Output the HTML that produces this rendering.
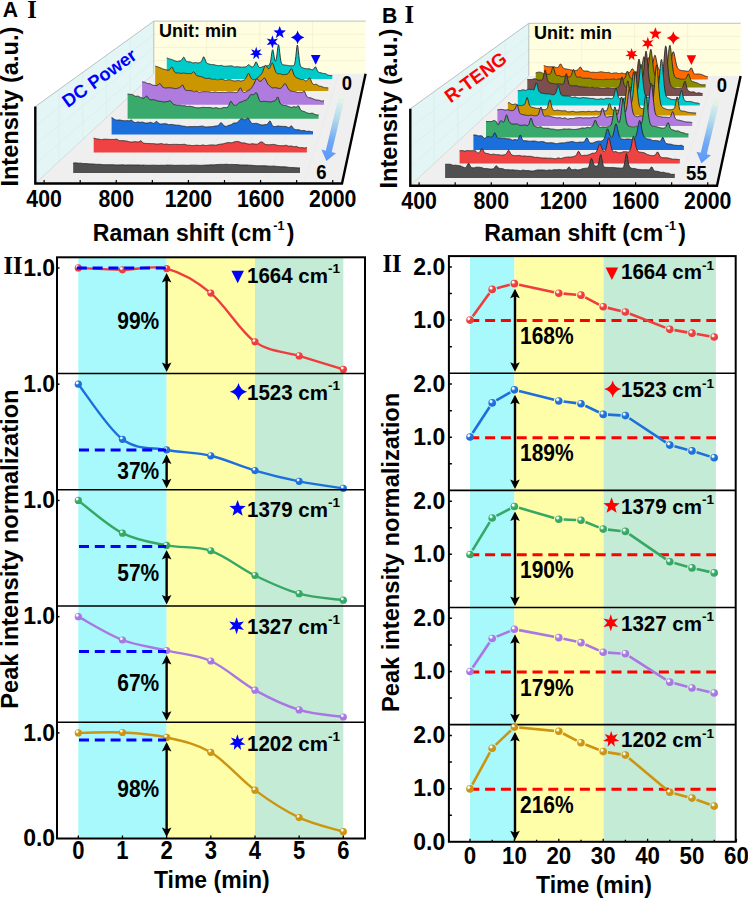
<!DOCTYPE html><html><head><meta charset="utf-8"><title>Raman figure</title><style>html,body{margin:0;padding:0;background:#fff;width:748px;height:900px;overflow:hidden}svg{display:block}</style></head><body><svg width="748" height="900" viewBox="0 0 748 900">
<rect width="748" height="900" fill="#fff"/>
<defs><radialGradient id="bg0" cx="0.38" cy="0.36" r="0.65" fx="0.33" fy="0.3"><stop offset="0" stop-color="#ffffff"/><stop offset="0.18" stop-color="#ffffff" stop-opacity="0.9"/><stop offset="0.38" stop-color="#ee3d3d" stop-opacity="0.8"/><stop offset="0.55" stop-color="#ee3d3d"/><stop offset="1" stop-color="#ee3d3d"/></radialGradient><radialGradient id="bg1" cx="0.38" cy="0.36" r="0.65" fx="0.33" fy="0.3"><stop offset="0" stop-color="#ffffff"/><stop offset="0.18" stop-color="#ffffff" stop-opacity="0.9"/><stop offset="0.38" stop-color="#1d6fdc" stop-opacity="0.8"/><stop offset="0.55" stop-color="#1d6fdc"/><stop offset="1" stop-color="#1d6fdc"/></radialGradient><radialGradient id="bg2" cx="0.38" cy="0.36" r="0.65" fx="0.33" fy="0.3"><stop offset="0" stop-color="#ffffff"/><stop offset="0.18" stop-color="#ffffff" stop-opacity="0.9"/><stop offset="0.38" stop-color="#36a865" stop-opacity="0.8"/><stop offset="0.55" stop-color="#36a865"/><stop offset="1" stop-color="#36a865"/></radialGradient><radialGradient id="bg3" cx="0.38" cy="0.36" r="0.65" fx="0.33" fy="0.3"><stop offset="0" stop-color="#ffffff"/><stop offset="0.18" stop-color="#ffffff" stop-opacity="0.9"/><stop offset="0.38" stop-color="#a977e2" stop-opacity="0.8"/><stop offset="0.55" stop-color="#a977e2"/><stop offset="1" stop-color="#a977e2"/></radialGradient><radialGradient id="bg4" cx="0.38" cy="0.36" r="0.65" fx="0.33" fy="0.3"><stop offset="0" stop-color="#ffffff"/><stop offset="0.18" stop-color="#ffffff" stop-opacity="0.9"/><stop offset="0.38" stop-color="#cc9410" stop-opacity="0.8"/><stop offset="0.55" stop-color="#cc9410"/><stop offset="1" stop-color="#cc9410"/></radialGradient></defs>
<path d="M35.3,106.6L153.8,21.1L153.8,73.7L35.3,183.5Z" fill="#e3f5f5"/>
<rect x="153.8" y="21.1" width="211.8" height="52.6" fill="#fffee0"/>
<path d="M35.3,183.5L342,183.5L365.6,73.7L153.8,73.7Z" fill="#efefef"/>
<path d="M153.8,34.25H365.6M153.8,47.4H365.6M153.8,60.55H365.6M206.75,21.1V73.7M259.7,21.1V73.7M312.65,21.1V73.7" stroke="#f0eecb" stroke-width="0.7" fill="none"/>
<path d="M59,89.5L59,161.54M82.7,72.4L82.7,139.58M106.4,55.3L106.4,117.62M130.1,38.2L130.1,95.66M35.3,125.82L153.8,34.25M35.3,145.05L153.8,47.4M35.3,164.28L153.8,60.55" stroke="#d9eded" stroke-width="0.6" fill="none"/>
<path d="M73.64,183.5L180.28,73.7M111.97,183.5L206.75,73.7M150.31,183.5L233.23,73.7M188.65,183.5L259.7,73.7M226.99,183.5L286.18,73.7M265.32,183.5L312.65,73.7M303.66,183.5L339.12,73.7" stroke="#e8e8e8" stroke-width="0.6" fill="none"/>
<path d="M35.3,106.6L153.8,21.1H365.6 M153.8,21.1V73.7" stroke="#a9b4b4" stroke-width="0.8" fill="none"/>
<path d="M35.3,183.5L153.8,73.7" stroke="#c8d0d0" stroke-width="0.7" fill="none"/>
<text x="67.8" y="108.2" transform="rotate(-35.5 67.8 108.2)" font-family="Liberation Sans, sans-serif" font-weight="bold" font-size="18.3" fill="#0000ff">DC Power</text>
<text x="158.9" y="37.1" font-family="Liberation Sans, sans-serif" font-weight="bold" font-size="18">Unit: min</text>
<path d="M166.8,79L166.8,57.97L167.3,58.12L167.8,58.29L168.3,58.47L168.8,58.67L169.3,58.88L169.8,59.01L170.3,59.13L170.8,59.25L171.3,59.38L171.8,59.52L172.3,59.71L172.8,59.94L173.3,60.17L173.8,60.39L174.3,60.61L174.8,60.8L175.3,60.96L175.8,61.1L176.3,61.24L176.8,61.35L177.3,61.43L177.8,61.37L178.3,61.27L178.8,61.15L179.3,61.02L179.8,60.88L180.3,60.82L180.8,60.68L181.3,60.38L181.8,59.84L182.3,59.03L182.8,58.19L183.3,57.43L183.8,57.14L184.3,57.61L184.8,58.7L185.3,59.8L185.8,60.64L186.3,61.22L186.8,61.53L187.3,61.64L187.8,61.68L188.3,61.75L188.8,61.79L189.3,61.83L189.8,61.86L190.3,61.92L190.8,62.13L191.3,62.34L191.8,62.55L192.3,62.75L192.8,62.96L193.3,62.87L193.8,62.78L194.3,62.68L194.8,62.59L195.3,62.49L195.8,62.56L196.3,62.66L196.8,62.76L197.3,62.86L197.8,62.95L198.3,62.93L198.8,62.84L199.3,62.73L199.8,62.58L200.3,62.37L200.8,62.07L201.3,61.59L201.8,60.76L202.3,59.57L202.8,58.21L203.3,57.11L203.8,56.75L204.3,57.46L204.8,58.8L205.3,60.21L205.8,61.34L206.3,62.3L206.8,62.92L207.3,63.32L207.8,63.58L208.3,63.8L208.8,63.96L209.3,64.09L209.8,64.23L210.3,64.37L210.8,64.5L211.3,64.56L211.8,64.57L212.3,64.58L212.8,64.59L213.3,64.6L213.8,64.67L214.3,64.81L214.8,64.95L215.3,65.1L215.8,65.24L216.3,65.37L216.8,65.44L217.3,65.51L217.8,65.58L218.3,65.65L218.8,65.71L219.3,65.65L219.8,65.58L220.3,65.51L220.8,65.43L221.3,65.35L221.8,65.5L222.3,65.7L222.8,65.9L223.3,66.07L223.8,66.24L224.3,66.3L224.8,66.28L225.3,66.26L225.8,66.25L226.3,66.23L226.8,66.2L227.3,66.16L227.8,66.12L228.3,66.08L228.8,66.04L229.3,66L229.8,65.96L230.3,65.93L230.8,65.9L231.3,65.86L231.8,65.83L232.3,66.05L232.8,66.27L233.3,66.49L233.8,66.71L234.3,66.93L234.8,66.92L235.3,66.85L235.8,66.78L236.3,66.72L236.8,66.65L237.3,66.66L237.8,66.74L238.3,66.81L238.8,66.88L239.3,66.95L239.8,67.01L240.3,67.05L240.8,67.09L241.3,67.13L241.8,67.17L242.3,67.19L242.8,67.15L243.3,67.11L243.8,67.07L244.3,67.02L244.8,66.94L245.3,66.91L245.8,66.81L246.3,66.58L246.8,66.21L247.3,65.75L247.8,65.18L248.3,64.79L248.8,64.79L249.3,65.09L249.8,65.49L250.3,65.96L250.8,66.37L251.3,66.66L251.8,66.84L252.3,66.94L252.8,66.88L253.3,66.58L253.8,66.06L254.3,65.23L254.8,64.1L255.3,62.87L255.8,62.03L256.3,61.9L256.8,62.66L257.3,63.93L257.8,65.27L258.3,66.25L258.8,66.91L259.3,67.29L259.8,67.49L260.3,67.59L260.8,67.5L261.3,67.31L261.8,67.09L262.3,66.84L262.8,66.58L263.3,66.43L263.8,66.34L264.3,66.26L264.8,66.17L265.3,66.09L265.8,66.02L266.3,65.96L266.8,65.87L267.3,65.76L267.8,65.61L268.3,65.44L268.8,65.29L269.3,64.92L269.8,64.13L270.3,62.65L270.8,60.28L271.3,56.79L271.8,53.06L272.3,50.26L272.8,49.71L273.3,51.57L273.8,54.76L274.3,57.89L274.8,60.13L275.3,61.17L275.8,60.89L276.3,59.17L276.8,56.04L277.3,51.85L277.8,47.55L278.3,44.81L278.8,45.21L279.3,48.56L279.8,53.12L280.3,57.38L280.8,60.59L281.3,62.64L281.8,63.75L282.3,64.32L282.8,64.62L283.3,64.79L283.8,64.91L284.3,65.01L284.8,65.09L285.3,65.15L285.8,65.2L286.3,65.24L286.8,65.32L287.3,65.42L287.8,65.51L288.3,65.61L288.8,65.7L289.3,65.75L289.8,65.77L290.3,65.78L290.8,65.78L291.3,65.77L291.8,65.76L292.3,65.78L292.8,65.79L293.3,65.72L293.8,65.46L294.3,64.79L294.8,63.29L295.3,60.66L295.8,56.75L296.3,51.9L296.8,47.3L297.3,44.97L297.8,46.24L298.3,50.44L298.8,55.58L299.3,60.15L299.8,63.42L300.3,65.44L300.8,66.54L301.3,67.12L301.8,67.42L302.3,67.64L302.8,67.84L303.3,68.02L303.8,68.2L304.3,68.37L304.8,68.51L305.3,68.57L305.8,68.64L306.3,68.71L306.8,68.78L307.3,68.83L307.8,68.85L308.3,68.86L308.8,68.87L309.3,68.87L309.8,68.86L310.3,69.11L310.8,69.35L311.3,69.57L311.8,69.73L312.3,69.82L312.8,69.69L313.3,69.36L313.8,68.79L314.3,68.02L314.8,67.27L315.3,66.86L315.8,67.15L316.3,68.11L316.8,69.35L317.3,70.5L317.8,71.38L318.3,71.94L318.8,72.28L319.3,72.47L319.8,72.55L320.3,72.61L320.8,72.75L321.3,72.9L321.8,73.06L322.3,73.23L322.8,73.4L323.3,73.43L323.8,73.47L324.3,73.51L324.8,73.55L325.3,73.59L325.8,73.85L326.3,74.15L326.8,74.46L327.3,74.76L327.8,75.06L328.3,75.23L328.8,75.31L329.3,75.39L329.8,75.46L330.3,75.52L330.8,75.57L331.3,75.6L331.8,75.62L332.3,75.63L332.3,79Z" fill="#00cbcb"/>
<path d="M166.8,57.97L167.3,58.12L167.8,58.29L168.3,58.47L168.8,58.67L169.3,58.88L169.8,59.01L170.3,59.13L170.8,59.25L171.3,59.38L171.8,59.52L172.3,59.71L172.8,59.94L173.3,60.17L173.8,60.39L174.3,60.61L174.8,60.8L175.3,60.96L175.8,61.1L176.3,61.24L176.8,61.35L177.3,61.43L177.8,61.37L178.3,61.27L178.8,61.15L179.3,61.02L179.8,60.88L180.3,60.82L180.8,60.68L181.3,60.38L181.8,59.84L182.3,59.03L182.8,58.19L183.3,57.43L183.8,57.14L184.3,57.61L184.8,58.7L185.3,59.8L185.8,60.64L186.3,61.22L186.8,61.53L187.3,61.64L187.8,61.68L188.3,61.75L188.8,61.79L189.3,61.83L189.8,61.86L190.3,61.92L190.8,62.13L191.3,62.34L191.8,62.55L192.3,62.75L192.8,62.96L193.3,62.87L193.8,62.78L194.3,62.68L194.8,62.59L195.3,62.49L195.8,62.56L196.3,62.66L196.8,62.76L197.3,62.86L197.8,62.95L198.3,62.93L198.8,62.84L199.3,62.73L199.8,62.58L200.3,62.37L200.8,62.07L201.3,61.59L201.8,60.76L202.3,59.57L202.8,58.21L203.3,57.11L203.8,56.75L204.3,57.46L204.8,58.8L205.3,60.21L205.8,61.34L206.3,62.3L206.8,62.92L207.3,63.32L207.8,63.58L208.3,63.8L208.8,63.96L209.3,64.09L209.8,64.23L210.3,64.37L210.8,64.5L211.3,64.56L211.8,64.57L212.3,64.58L212.8,64.59L213.3,64.6L213.8,64.67L214.3,64.81L214.8,64.95L215.3,65.1L215.8,65.24L216.3,65.37L216.8,65.44L217.3,65.51L217.8,65.58L218.3,65.65L218.8,65.71L219.3,65.65L219.8,65.58L220.3,65.51L220.8,65.43L221.3,65.35L221.8,65.5L222.3,65.7L222.8,65.9L223.3,66.07L223.8,66.24L224.3,66.3L224.8,66.28L225.3,66.26L225.8,66.25L226.3,66.23L226.8,66.2L227.3,66.16L227.8,66.12L228.3,66.08L228.8,66.04L229.3,66L229.8,65.96L230.3,65.93L230.8,65.9L231.3,65.86L231.8,65.83L232.3,66.05L232.8,66.27L233.3,66.49L233.8,66.71L234.3,66.93L234.8,66.92L235.3,66.85L235.8,66.78L236.3,66.72L236.8,66.65L237.3,66.66L237.8,66.74L238.3,66.81L238.8,66.88L239.3,66.95L239.8,67.01L240.3,67.05L240.8,67.09L241.3,67.13L241.8,67.17L242.3,67.19L242.8,67.15L243.3,67.11L243.8,67.07L244.3,67.02L244.8,66.94L245.3,66.91L245.8,66.81L246.3,66.58L246.8,66.21L247.3,65.75L247.8,65.18L248.3,64.79L248.8,64.79L249.3,65.09L249.8,65.49L250.3,65.96L250.8,66.37L251.3,66.66L251.8,66.84L252.3,66.94L252.8,66.88L253.3,66.58L253.8,66.06L254.3,65.23L254.8,64.1L255.3,62.87L255.8,62.03L256.3,61.9L256.8,62.66L257.3,63.93L257.8,65.27L258.3,66.25L258.8,66.91L259.3,67.29L259.8,67.49L260.3,67.59L260.8,67.5L261.3,67.31L261.8,67.09L262.3,66.84L262.8,66.58L263.3,66.43L263.8,66.34L264.3,66.26L264.8,66.17L265.3,66.09L265.8,66.02L266.3,65.96L266.8,65.87L267.3,65.76L267.8,65.61L268.3,65.44L268.8,65.29L269.3,64.92L269.8,64.13L270.3,62.65L270.8,60.28L271.3,56.79L271.8,53.06L272.3,50.26L272.8,49.71L273.3,51.57L273.8,54.76L274.3,57.89L274.8,60.13L275.3,61.17L275.8,60.89L276.3,59.17L276.8,56.04L277.3,51.85L277.8,47.55L278.3,44.81L278.8,45.21L279.3,48.56L279.8,53.12L280.3,57.38L280.8,60.59L281.3,62.64L281.8,63.75L282.3,64.32L282.8,64.62L283.3,64.79L283.8,64.91L284.3,65.01L284.8,65.09L285.3,65.15L285.8,65.2L286.3,65.24L286.8,65.32L287.3,65.42L287.8,65.51L288.3,65.61L288.8,65.7L289.3,65.75L289.8,65.77L290.3,65.78L290.8,65.78L291.3,65.77L291.8,65.76L292.3,65.78L292.8,65.79L293.3,65.72L293.8,65.46L294.3,64.79L294.8,63.29L295.3,60.66L295.8,56.75L296.3,51.9L296.8,47.3L297.3,44.97L297.8,46.24L298.3,50.44L298.8,55.58L299.3,60.15L299.8,63.42L300.3,65.44L300.8,66.54L301.3,67.12L301.8,67.42L302.3,67.64L302.8,67.84L303.3,68.02L303.8,68.2L304.3,68.37L304.8,68.51L305.3,68.57L305.8,68.64L306.3,68.71L306.8,68.78L307.3,68.83L307.8,68.85L308.3,68.86L308.8,68.87L309.3,68.87L309.8,68.86L310.3,69.11L310.8,69.35L311.3,69.57L311.8,69.73L312.3,69.82L312.8,69.69L313.3,69.36L313.8,68.79L314.3,68.02L314.8,67.27L315.3,66.86L315.8,67.15L316.3,68.11L316.8,69.35L317.3,70.5L317.8,71.38L318.3,71.94L318.8,72.28L319.3,72.47L319.8,72.55L320.3,72.61L320.8,72.75L321.3,72.9L321.8,73.06L322.3,73.23L322.8,73.4L323.3,73.43L323.8,73.47L324.3,73.51L324.8,73.55L325.3,73.59L325.8,73.85L326.3,74.15L326.8,74.46L327.3,74.76L327.8,75.06L328.3,75.23L328.8,75.31L329.3,75.39L329.8,75.46L330.3,75.52L330.8,75.57L331.3,75.6L331.8,75.62L332.3,75.63" fill="none" stroke="#262626" stroke-width="0.9" stroke-linejoin="round"/>
<path d="M155.2,91L155.2,66.13L155.7,66.25L156.2,66.38L156.7,66.52L157.2,66.68L157.7,66.85L158.2,67.02L158.7,67.2L159.2,67.38L159.7,67.57L160.2,67.77L160.7,67.98L161.2,68.21L161.7,68.43L162.2,68.66L162.7,68.88L163.2,69.07L163.7,69.2L164.21,69.33L164.71,69.45L165.21,69.56L165.71,69.67L166.21,69.85L166.71,70.01L167.21,70.14L167.71,70.26L168.21,70.33L168.71,70.16L169.21,69.93L169.71,69.56L170.21,68.99L170.71,68.22L171.21,67.61L171.71,67.23L172.21,67.38L172.71,68.16L173.21,69.31L173.71,70.48L174.21,71.44L174.71,72.1L175.21,72.51L175.71,72.8L176.21,72.94L176.71,72.94L177.21,72.94L177.71,72.93L178.21,72.92L178.71,72.94L179.21,73.06L179.71,73.17L180.21,73.29L180.71,73.41L181.22,73.52L181.72,73.4L182.22,73.27L182.72,73.15L183.22,73.03L183.72,72.9L184.22,73L184.72,73.13L185.22,73.27L185.72,73.4L186.22,73.53L186.72,73.57L187.22,73.56L187.72,73.55L188.22,73.53L188.72,73.51L189.22,73.52L189.72,73.59L190.22,73.62L190.72,73.6L191.22,73.55L191.72,73.34L192.22,72.9L192.72,72.35L193.22,71.86L193.72,71.74L194.22,72.19L194.72,72.95L195.22,73.84L195.72,74.6L196.22,75.15L196.72,75.46L197.22,75.72L197.72,75.9L198.22,76.04L198.73,76.17L199.23,76.3L199.73,76.4L200.23,76.5L200.73,76.6L201.23,76.7L201.73,76.81L202.23,76.98L202.73,77.22L203.23,77.46L203.73,77.71L204.23,77.96L204.73,78.16L205.23,78.23L205.73,78.3L206.23,78.37L206.73,78.44L207.23,78.5L207.73,78.47L208.23,78.43L208.73,78.39L209.23,78.35L209.73,78.31L210.23,78.52L210.73,78.76L211.23,79L211.73,79.23L212.23,79.46L212.73,79.49L213.23,79.42L213.73,79.34L214.23,79.25L214.73,79.16L215.23,79.19L215.73,79.35L216.24,79.51L216.74,79.63L217.24,79.76L217.74,79.82L218.24,79.72L218.74,79.62L219.24,79.53L219.74,79.43L220.24,79.34L220.74,79.34L221.24,79.33L221.74,79.32L222.24,79.31L222.74,79.31L223.24,79.5L223.74,79.73L224.24,79.95L224.74,80.17L225.24,80.39L225.74,80.37L226.24,80.24L226.74,80.1L227.24,79.97L227.74,79.83L228.24,79.77L228.74,79.78L229.24,79.8L229.74,79.81L230.24,79.82L230.74,79.89L231.24,80.09L231.74,80.29L232.24,80.49L232.74,80.7L233.25,80.89L233.75,80.9L234.25,80.91L234.75,80.91L235.25,80.92L235.75,80.93L236.25,80.84L236.75,80.74L237.25,80.63L237.75,80.52L238.25,80.41L238.75,80.49L239.25,80.66L239.75,80.83L240.25,80.97L240.75,81.08L241.25,81.06L241.75,80.91L242.25,80.74L242.75,80.57L243.25,80.36L243.75,80.15L244.25,79.95L244.75,79.64L245.25,79.16L245.75,78.49L246.25,77.59L246.75,76.41L247.25,75.2L247.75,74.16L248.25,73.54L248.75,73.5L249.25,74.24L249.75,75.33L250.25,76.5L250.76,77.57L251.26,78.47L251.76,78.99L252.26,79.27L252.76,79.41L253.26,79.45L253.76,79.43L254.26,79.45L254.76,79.51L255.26,79.47L255.76,79.27L256.26,78.99L256.76,78.63L257.26,78.18L257.76,77.7L258.26,77.24L258.76,76.79L259.26,76.37L259.76,75.88L260.26,75.45L260.76,74.96L261.26,74.32L261.76,73.49L262.26,72.58L262.76,71.45L263.26,70.12L263.76,68.69L264.26,67.3L264.76,66.15L265.26,65.48L265.76,65.41L266.26,65.85L266.76,66.59L267.26,67.41L267.77,68.1L268.27,68.51L268.77,68.64L269.27,68.43L269.77,67.79L270.27,66.79L270.77,65.58L271.27,64.36L271.77,63.4L272.27,63.01L272.77,63.44L273.27,64.54L273.77,66.08L274.27,67.76L274.77,69.36L275.27,70.75L275.77,71.85L276.27,72.64L276.77,73.22L277.27,73.63L277.77,73.77L278.27,73.78L278.77,73.76L279.27,73.71L279.77,73.64L280.27,73.73L280.77,73.95L281.27,74.16L281.77,74.37L282.27,74.57L282.77,74.69L283.27,74.66L283.77,74.61L284.27,74.57L284.77,74.51L285.28,74.45L285.78,74.44L286.28,74.4L286.78,74.31L287.28,74.12L287.78,73.8L288.28,73.39L288.78,72.74L289.28,71.95L289.78,71L290.28,70.02L290.78,69.09L291.28,68.62L291.78,68.89L292.28,69.86L292.78,71.26L293.28,72.81L293.78,74.25L294.28,75.43L294.78,76.29L295.28,76.84L295.78,77.24L296.28,77.57L296.78,77.83L297.28,78.06L297.78,78.27L298.28,78.47L298.78,78.68L299.28,78.9L299.78,79.11L300.28,79.32L300.78,79.53L301.28,79.54L301.78,79.54L302.28,79.54L302.79,79.53L303.29,79.51L303.79,79.76L304.29,80.09L304.79,80.39L305.29,80.68L305.79,80.95L306.29,80.91L306.79,80.65L307.29,80.32L307.79,79.82L308.29,79.1L308.79,78.37L309.29,77.94L309.79,77.93L310.29,78.61L310.79,79.84L311.29,81.23L311.79,82.38L312.29,83.27L312.79,83.89L313.29,84.31L313.79,84.58L314.29,84.53L314.79,84.46L315.29,84.4L315.79,84.34L316.29,84.29L316.79,84.54L317.29,84.87L317.79,85.21L318.29,85.56L318.79,85.91L319.29,86.1L319.8,86.19L320.3,86.27L320.8,86.36L321.3,86.44L321.8,86.59L322.3,86.82L322.8,87.04L323.3,87.27L323.8,87.49L324.3,87.66L324.8,87.69L325.3,87.71L325.8,87.72L326.3,87.72L326.8,87.7L327.3,87.82L327.8,87.92L328.3,88.01L328.3,91Z" fill="#cc9600"/>
<path d="M155.2,66.13L155.7,66.25L156.2,66.38L156.7,66.52L157.2,66.68L157.7,66.85L158.2,67.02L158.7,67.2L159.2,67.38L159.7,67.57L160.2,67.77L160.7,67.98L161.2,68.21L161.7,68.43L162.2,68.66L162.7,68.88L163.2,69.07L163.7,69.2L164.21,69.33L164.71,69.45L165.21,69.56L165.71,69.67L166.21,69.85L166.71,70.01L167.21,70.14L167.71,70.26L168.21,70.33L168.71,70.16L169.21,69.93L169.71,69.56L170.21,68.99L170.71,68.22L171.21,67.61L171.71,67.23L172.21,67.38L172.71,68.16L173.21,69.31L173.71,70.48L174.21,71.44L174.71,72.1L175.21,72.51L175.71,72.8L176.21,72.94L176.71,72.94L177.21,72.94L177.71,72.93L178.21,72.92L178.71,72.94L179.21,73.06L179.71,73.17L180.21,73.29L180.71,73.41L181.22,73.52L181.72,73.4L182.22,73.27L182.72,73.15L183.22,73.03L183.72,72.9L184.22,73L184.72,73.13L185.22,73.27L185.72,73.4L186.22,73.53L186.72,73.57L187.22,73.56L187.72,73.55L188.22,73.53L188.72,73.51L189.22,73.52L189.72,73.59L190.22,73.62L190.72,73.6L191.22,73.55L191.72,73.34L192.22,72.9L192.72,72.35L193.22,71.86L193.72,71.74L194.22,72.19L194.72,72.95L195.22,73.84L195.72,74.6L196.22,75.15L196.72,75.46L197.22,75.72L197.72,75.9L198.22,76.04L198.73,76.17L199.23,76.3L199.73,76.4L200.23,76.5L200.73,76.6L201.23,76.7L201.73,76.81L202.23,76.98L202.73,77.22L203.23,77.46L203.73,77.71L204.23,77.96L204.73,78.16L205.23,78.23L205.73,78.3L206.23,78.37L206.73,78.44L207.23,78.5L207.73,78.47L208.23,78.43L208.73,78.39L209.23,78.35L209.73,78.31L210.23,78.52L210.73,78.76L211.23,79L211.73,79.23L212.23,79.46L212.73,79.49L213.23,79.42L213.73,79.34L214.23,79.25L214.73,79.16L215.23,79.19L215.73,79.35L216.24,79.51L216.74,79.63L217.24,79.76L217.74,79.82L218.24,79.72L218.74,79.62L219.24,79.53L219.74,79.43L220.24,79.34L220.74,79.34L221.24,79.33L221.74,79.32L222.24,79.31L222.74,79.31L223.24,79.5L223.74,79.73L224.24,79.95L224.74,80.17L225.24,80.39L225.74,80.37L226.24,80.24L226.74,80.1L227.24,79.97L227.74,79.83L228.24,79.77L228.74,79.78L229.24,79.8L229.74,79.81L230.24,79.82L230.74,79.89L231.24,80.09L231.74,80.29L232.24,80.49L232.74,80.7L233.25,80.89L233.75,80.9L234.25,80.91L234.75,80.91L235.25,80.92L235.75,80.93L236.25,80.84L236.75,80.74L237.25,80.63L237.75,80.52L238.25,80.41L238.75,80.49L239.25,80.66L239.75,80.83L240.25,80.97L240.75,81.08L241.25,81.06L241.75,80.91L242.25,80.74L242.75,80.57L243.25,80.36L243.75,80.15L244.25,79.95L244.75,79.64L245.25,79.16L245.75,78.49L246.25,77.59L246.75,76.41L247.25,75.2L247.75,74.16L248.25,73.54L248.75,73.5L249.25,74.24L249.75,75.33L250.25,76.5L250.76,77.57L251.26,78.47L251.76,78.99L252.26,79.27L252.76,79.41L253.26,79.45L253.76,79.43L254.26,79.45L254.76,79.51L255.26,79.47L255.76,79.27L256.26,78.99L256.76,78.63L257.26,78.18L257.76,77.7L258.26,77.24L258.76,76.79L259.26,76.37L259.76,75.88L260.26,75.45L260.76,74.96L261.26,74.32L261.76,73.49L262.26,72.58L262.76,71.45L263.26,70.12L263.76,68.69L264.26,67.3L264.76,66.15L265.26,65.48L265.76,65.41L266.26,65.85L266.76,66.59L267.26,67.41L267.77,68.1L268.27,68.51L268.77,68.64L269.27,68.43L269.77,67.79L270.27,66.79L270.77,65.58L271.27,64.36L271.77,63.4L272.27,63.01L272.77,63.44L273.27,64.54L273.77,66.08L274.27,67.76L274.77,69.36L275.27,70.75L275.77,71.85L276.27,72.64L276.77,73.22L277.27,73.63L277.77,73.77L278.27,73.78L278.77,73.76L279.27,73.71L279.77,73.64L280.27,73.73L280.77,73.95L281.27,74.16L281.77,74.37L282.27,74.57L282.77,74.69L283.27,74.66L283.77,74.61L284.27,74.57L284.77,74.51L285.28,74.45L285.78,74.44L286.28,74.4L286.78,74.31L287.28,74.12L287.78,73.8L288.28,73.39L288.78,72.74L289.28,71.95L289.78,71L290.28,70.02L290.78,69.09L291.28,68.62L291.78,68.89L292.28,69.86L292.78,71.26L293.28,72.81L293.78,74.25L294.28,75.43L294.78,76.29L295.28,76.84L295.78,77.24L296.28,77.57L296.78,77.83L297.28,78.06L297.78,78.27L298.28,78.47L298.78,78.68L299.28,78.9L299.78,79.11L300.28,79.32L300.78,79.53L301.28,79.54L301.78,79.54L302.28,79.54L302.79,79.53L303.29,79.51L303.79,79.76L304.29,80.09L304.79,80.39L305.29,80.68L305.79,80.95L306.29,80.91L306.79,80.65L307.29,80.32L307.79,79.82L308.29,79.1L308.79,78.37L309.29,77.94L309.79,77.93L310.29,78.61L310.79,79.84L311.29,81.23L311.79,82.38L312.29,83.27L312.79,83.89L313.29,84.31L313.79,84.58L314.29,84.53L314.79,84.46L315.29,84.4L315.79,84.34L316.29,84.29L316.79,84.54L317.29,84.87L317.79,85.21L318.29,85.56L318.79,85.91L319.29,86.1L319.8,86.19L320.3,86.27L320.8,86.36L321.3,86.44L321.8,86.59L322.3,86.82L322.8,87.04L323.3,87.27L323.8,87.49L324.3,87.66L324.8,87.69L325.3,87.71L325.8,87.72L326.3,87.72L326.8,87.7L327.3,87.82L327.8,87.92L328.3,88.01" fill="none" stroke="#262626" stroke-width="0.9" stroke-linejoin="round"/>
<path d="M142.1,104.7L142.1,81.88L142.6,81.91L143.1,81.96L143.6,82.02L144.1,82.09L144.61,82.16L145.11,82.38L145.61,82.63L146.11,82.89L146.61,83.16L147.11,83.43L147.61,83.55L148.11,83.58L148.61,83.61L149.12,83.64L149.62,83.67L150.12,83.81L150.62,84.08L151.12,84.35L151.62,84.62L152.12,84.88L152.62,85.1L153.12,85.21L153.63,85.3L154.13,85.38L154.63,85.46L155.13,85.52L155.63,85.53L156.13,85.51L156.63,85.44L157.13,85.3L157.63,85.07L158.14,84.84L158.64,84.45L159.14,83.96L159.64,83.6L160.14,83.69L160.64,84.21L161.14,85.05L161.64,85.93L162.14,86.63L162.65,87.06L163.15,87.33L163.65,87.56L164.15,87.73L164.65,87.87L165.15,87.99L165.65,88.05L166.15,87.98L166.65,87.92L167.16,87.85L167.66,87.78L168.16,87.72L168.66,87.74L169.16,87.76L169.66,87.77L170.16,87.79L170.66,87.81L171.16,87.89L171.67,87.98L172.17,88.06L172.67,88.15L173.17,88.24L173.67,88.33L174.17,88.43L174.67,88.53L175.17,88.63L175.67,88.72L176.17,88.68L176.68,88.51L177.18,88.34L177.68,88.17L178.18,87.98L178.68,87.84L179.18,87.77L179.68,87.63L180.18,87.38L180.68,86.92L181.19,86.24L181.69,85.51L182.19,84.97L182.69,85L183.19,85.75L183.69,86.92L184.19,88.11L184.69,89.08L185.19,89.75L185.7,90.17L186.2,90.45L186.7,90.52L187.2,90.53L187.7,90.53L188.2,90.52L188.7,90.51L189.2,90.53L189.7,90.57L190.21,90.61L190.71,90.65L191.21,90.69L191.71,90.8L192.21,91.01L192.71,91.23L193.21,91.44L193.71,91.66L194.21,91.79L194.72,91.65L195.22,91.51L195.72,91.37L196.22,91.23L196.72,91.09L197.22,91.35L197.72,91.59L198.22,91.84L198.72,92.08L199.23,92.31L199.73,92.26L200.23,92.17L200.73,92.04L201.23,91.92L201.73,91.79L202.23,91.73L202.73,91.7L203.23,91.68L203.74,91.65L204.24,91.63L204.74,91.62L205.24,91.62L205.74,91.62L206.24,91.63L206.74,91.63L207.24,91.65L207.74,91.7L208.25,91.76L208.75,91.81L209.25,91.87L209.75,91.93L210.25,92.06L210.75,92.19L211.25,92.32L211.75,92.45L212.25,92.58L212.76,92.47L213.26,92.33L213.76,92.2L214.26,92.06L214.76,91.93L215.26,91.97L215.76,92.07L216.26,92.18L216.76,92.28L217.27,92.39L217.77,92.45L218.27,92.47L218.77,92.5L219.27,92.52L219.77,92.55L220.27,92.55L220.77,92.5L221.27,92.44L221.78,92.39L222.28,92.34L222.78,92.31L223.28,92.36L223.78,92.4L224.28,92.45L224.78,92.5L225.28,92.55L225.78,92.45L226.29,92.35L226.79,92.24L227.29,92.13L227.79,92.03L228.29,92.01L228.79,92.01L229.29,92.01L229.79,92.01L230.29,92.01L230.8,92.03L231.3,92.06L231.8,92.09L232.3,92.11L232.8,92.14L233.3,92.19L233.8,92.29L234.3,92.39L234.8,92.49L235.3,92.57L235.81,92.62L236.31,92.51L236.81,92.36L237.31,92.11L237.81,91.69L238.31,91.04L238.81,90.15L239.31,89.12L239.81,88.22L240.32,87.84L240.82,88.2L241.32,89.14L241.82,90.2L242.32,91.1L242.82,91.73L243.32,92.13L243.82,92.31L244.32,92.36L244.83,92.34L245.33,92.15L245.83,91.9L246.33,91.59L246.83,91.26L247.33,90.93L247.83,90.6L248.33,90.31L248.83,90.1L249.34,89.99L249.84,89.7L250.34,89.28L250.84,88.76L251.34,88.17L251.84,87.41L252.34,86.62L252.84,85.82L253.34,85.07L253.85,84.18L254.35,83.06L254.85,81.86L255.35,80.67L255.85,79.65L256.35,78.94L256.85,78.75L257.35,78.99L257.85,79.49L258.36,80.1L258.86,80.7L259.36,81.14L259.86,81.36L260.36,81.36L260.86,81.13L261.36,80.86L261.86,80.41L262.36,79.85L262.87,79.2L263.37,78.58L263.87,78.13L264.37,78.01L264.87,78.24L265.37,78.92L265.87,79.93L266.37,81.1L266.87,82.27L267.38,83.29L267.88,84.15L268.38,84.83L268.88,85.33L269.38,85.67L269.88,86.07L270.38,86.49L270.88,86.9L271.38,87.3L271.89,87.7L272.39,87.88L272.89,87.88L273.39,87.86L273.89,87.8L274.39,87.66L274.89,87.59L275.39,87.7L275.89,87.81L276.4,87.91L276.9,88.02L277.4,88.13L277.9,88.24L278.4,88.34L278.9,88.44L279.4,88.51L279.9,88.56L280.4,88.38L280.91,88.15L281.41,87.83L281.91,87.36L282.41,86.72L282.91,86.07L283.41,85.31L283.91,84.51L284.41,83.86L284.91,83.6L285.42,83.77L285.92,84.41L286.42,85.36L286.92,86.4L287.42,87.36L287.92,88.25L288.42,89.09L288.92,89.73L289.42,90.22L289.93,90.62L290.43,90.91L290.93,91.07L291.43,91.2L291.93,91.3L292.43,91.39L292.93,91.49L293.43,91.53L293.93,91.58L294.43,91.64L294.94,91.7L295.44,91.76L295.94,91.92L296.44,92.1L296.94,92.28L297.44,92.45L297.94,92.61L298.44,92.63L298.94,92.57L299.45,92.51L299.95,92.41L300.45,92.29L300.95,92.31L301.45,92.43L301.95,92.43L302.45,92.24L302.95,91.85L303.45,91.37L303.96,91.05L304.46,91.32L304.96,92.24L305.46,93.52L305.96,94.79L306.46,95.85L306.96,96.62L307.46,97.14L307.96,97.45L308.47,97.59L308.97,97.67L309.47,97.75L309.97,97.83L310.47,97.91L310.97,98L311.47,98.18L311.97,98.4L312.47,98.62L312.98,98.84L313.48,99.07L313.98,99.26L314.48,99.43L314.98,99.6L315.48,99.77L315.98,99.94L316.48,100.06L316.98,100.1L317.49,100.13L317.99,100.17L318.49,100.19L318.99,100.25L319.49,100.42L319.99,100.59L320.49,100.76L320.99,100.91L321.49,101.07L322,101.03L322.5,100.98L323,100.92L323.5,100.86L324,100.78L324,104.7Z" fill="#b07bdf"/>
<path d="M142.1,81.88L142.6,81.91L143.1,81.96L143.6,82.02L144.1,82.09L144.61,82.16L145.11,82.38L145.61,82.63L146.11,82.89L146.61,83.16L147.11,83.43L147.61,83.55L148.11,83.58L148.61,83.61L149.12,83.64L149.62,83.67L150.12,83.81L150.62,84.08L151.12,84.35L151.62,84.62L152.12,84.88L152.62,85.1L153.12,85.21L153.63,85.3L154.13,85.38L154.63,85.46L155.13,85.52L155.63,85.53L156.13,85.51L156.63,85.44L157.13,85.3L157.63,85.07L158.14,84.84L158.64,84.45L159.14,83.96L159.64,83.6L160.14,83.69L160.64,84.21L161.14,85.05L161.64,85.93L162.14,86.63L162.65,87.06L163.15,87.33L163.65,87.56L164.15,87.73L164.65,87.87L165.15,87.99L165.65,88.05L166.15,87.98L166.65,87.92L167.16,87.85L167.66,87.78L168.16,87.72L168.66,87.74L169.16,87.76L169.66,87.77L170.16,87.79L170.66,87.81L171.16,87.89L171.67,87.98L172.17,88.06L172.67,88.15L173.17,88.24L173.67,88.33L174.17,88.43L174.67,88.53L175.17,88.63L175.67,88.72L176.17,88.68L176.68,88.51L177.18,88.34L177.68,88.17L178.18,87.98L178.68,87.84L179.18,87.77L179.68,87.63L180.18,87.38L180.68,86.92L181.19,86.24L181.69,85.51L182.19,84.97L182.69,85L183.19,85.75L183.69,86.92L184.19,88.11L184.69,89.08L185.19,89.75L185.7,90.17L186.2,90.45L186.7,90.52L187.2,90.53L187.7,90.53L188.2,90.52L188.7,90.51L189.2,90.53L189.7,90.57L190.21,90.61L190.71,90.65L191.21,90.69L191.71,90.8L192.21,91.01L192.71,91.23L193.21,91.44L193.71,91.66L194.21,91.79L194.72,91.65L195.22,91.51L195.72,91.37L196.22,91.23L196.72,91.09L197.22,91.35L197.72,91.59L198.22,91.84L198.72,92.08L199.23,92.31L199.73,92.26L200.23,92.17L200.73,92.04L201.23,91.92L201.73,91.79L202.23,91.73L202.73,91.7L203.23,91.68L203.74,91.65L204.24,91.63L204.74,91.62L205.24,91.62L205.74,91.62L206.24,91.63L206.74,91.63L207.24,91.65L207.74,91.7L208.25,91.76L208.75,91.81L209.25,91.87L209.75,91.93L210.25,92.06L210.75,92.19L211.25,92.32L211.75,92.45L212.25,92.58L212.76,92.47L213.26,92.33L213.76,92.2L214.26,92.06L214.76,91.93L215.26,91.97L215.76,92.07L216.26,92.18L216.76,92.28L217.27,92.39L217.77,92.45L218.27,92.47L218.77,92.5L219.27,92.52L219.77,92.55L220.27,92.55L220.77,92.5L221.27,92.44L221.78,92.39L222.28,92.34L222.78,92.31L223.28,92.36L223.78,92.4L224.28,92.45L224.78,92.5L225.28,92.55L225.78,92.45L226.29,92.35L226.79,92.24L227.29,92.13L227.79,92.03L228.29,92.01L228.79,92.01L229.29,92.01L229.79,92.01L230.29,92.01L230.8,92.03L231.3,92.06L231.8,92.09L232.3,92.11L232.8,92.14L233.3,92.19L233.8,92.29L234.3,92.39L234.8,92.49L235.3,92.57L235.81,92.62L236.31,92.51L236.81,92.36L237.31,92.11L237.81,91.69L238.31,91.04L238.81,90.15L239.31,89.12L239.81,88.22L240.32,87.84L240.82,88.2L241.32,89.14L241.82,90.2L242.32,91.1L242.82,91.73L243.32,92.13L243.82,92.31L244.32,92.36L244.83,92.34L245.33,92.15L245.83,91.9L246.33,91.59L246.83,91.26L247.33,90.93L247.83,90.6L248.33,90.31L248.83,90.1L249.34,89.99L249.84,89.7L250.34,89.28L250.84,88.76L251.34,88.17L251.84,87.41L252.34,86.62L252.84,85.82L253.34,85.07L253.85,84.18L254.35,83.06L254.85,81.86L255.35,80.67L255.85,79.65L256.35,78.94L256.85,78.75L257.35,78.99L257.85,79.49L258.36,80.1L258.86,80.7L259.36,81.14L259.86,81.36L260.36,81.36L260.86,81.13L261.36,80.86L261.86,80.41L262.36,79.85L262.87,79.2L263.37,78.58L263.87,78.13L264.37,78.01L264.87,78.24L265.37,78.92L265.87,79.93L266.37,81.1L266.87,82.27L267.38,83.29L267.88,84.15L268.38,84.83L268.88,85.33L269.38,85.67L269.88,86.07L270.38,86.49L270.88,86.9L271.38,87.3L271.89,87.7L272.39,87.88L272.89,87.88L273.39,87.86L273.89,87.8L274.39,87.66L274.89,87.59L275.39,87.7L275.89,87.81L276.4,87.91L276.9,88.02L277.4,88.13L277.9,88.24L278.4,88.34L278.9,88.44L279.4,88.51L279.9,88.56L280.4,88.38L280.91,88.15L281.41,87.83L281.91,87.36L282.41,86.72L282.91,86.07L283.41,85.31L283.91,84.51L284.41,83.86L284.91,83.6L285.42,83.77L285.92,84.41L286.42,85.36L286.92,86.4L287.42,87.36L287.92,88.25L288.42,89.09L288.92,89.73L289.42,90.22L289.93,90.62L290.43,90.91L290.93,91.07L291.43,91.2L291.93,91.3L292.43,91.39L292.93,91.49L293.43,91.53L293.93,91.58L294.43,91.64L294.94,91.7L295.44,91.76L295.94,91.92L296.44,92.1L296.94,92.28L297.44,92.45L297.94,92.61L298.44,92.63L298.94,92.57L299.45,92.51L299.95,92.41L300.45,92.29L300.95,92.31L301.45,92.43L301.95,92.43L302.45,92.24L302.95,91.85L303.45,91.37L303.96,91.05L304.46,91.32L304.96,92.24L305.46,93.52L305.96,94.79L306.46,95.85L306.96,96.62L307.46,97.14L307.96,97.45L308.47,97.59L308.97,97.67L309.47,97.75L309.97,97.83L310.47,97.91L310.97,98L311.47,98.18L311.97,98.4L312.47,98.62L312.98,98.84L313.48,99.07L313.98,99.26L314.48,99.43L314.98,99.6L315.48,99.77L315.98,99.94L316.48,100.06L316.98,100.1L317.49,100.13L317.99,100.17L318.49,100.19L318.99,100.25L319.49,100.42L319.99,100.59L320.49,100.76L320.99,100.91L321.49,101.07L322,101.03L322.5,100.98L323,100.92L323.5,100.86L324,100.78" fill="none" stroke="#262626" stroke-width="0.9" stroke-linejoin="round"/>
<path d="M127.6,118.8L127.6,94.05L128.1,94.09L128.6,94.15L129.1,94.21L129.6,94.29L130.1,94.37L130.6,94.43L131.1,94.5L131.6,94.57L132.1,94.64L132.6,94.72L133.1,94.94L133.6,95.25L134.1,95.56L134.6,95.88L135.1,96.2L135.6,96.37L136.1,96.32L136.6,96.27L137.1,96.22L137.6,96.17L138.1,96.18L138.6,96.43L139.1,96.68L139.6,96.93L140.1,97.17L140.6,97.4L141.1,97.61L141.6,97.8L142.1,97.98L142.6,98.15L143.1,98.3L143.6,98.18L144.1,97.93L144.6,97.62L145.1,97.21L145.6,96.69L146.1,96.3L146.6,96.14L147.1,96.33L147.6,96.92L148.1,97.74L148.6,98.51L149.1,99.06L149.6,99.42L150.1,99.66L150.6,99.82L151.1,99.91L151.6,99.86L152.1,99.8L152.6,99.74L153.1,99.69L153.6,99.63L154.1,99.79L154.6,99.95L155.1,100.11L155.6,100.27L156.1,100.44L156.6,100.6L157.1,100.76L157.6,100.92L158.1,101.08L158.6,101.24L159.1,101.32L159.6,101.34L160.1,101.37L160.6,101.39L161.1,101.41L161.6,101.47L162.1,101.61L162.6,101.74L163.1,101.87L163.6,101.99L164.1,102.07L164.6,101.98L165.1,101.89L165.6,101.8L166.1,101.68L166.6,101.55L167.1,101.58L167.6,101.57L168.1,101.45L168.6,101.21L169.1,100.9L169.6,100.63L170.1,100.63L170.6,101.02L171.1,101.69L171.6,102.41L172.1,103.08L172.6,103.64L173.1,104.02L173.6,104.24L174.1,104.42L174.6,104.58L175.1,104.73L175.6,104.88L176.1,105.03L176.6,105.19L177.1,105.3L177.6,105.29L178.1,105.27L178.6,105.26L179.1,105.24L179.6,105.23L180.1,105.34L180.6,105.45L181.1,105.56L181.6,105.67L182.1,105.79L182.6,105.79L183.1,105.78L183.6,105.76L184.1,105.75L184.6,105.73L185.1,105.82L185.6,105.98L186.1,106.14L186.6,106.3L187.1,106.46L187.6,106.53L188.1,106.45L188.6,106.38L189.1,106.31L189.6,106.23L190.1,106.19L190.6,106.31L191.1,106.43L191.6,106.54L192.1,106.65L192.6,106.76L193.1,106.92L193.6,107.07L194.1,107.22L194.6,107.37L195.1,107.52L195.6,107.6L196.1,107.67L196.6,107.73L197.1,107.8L197.6,107.86L198.1,107.86L198.6,107.83L199.1,107.8L199.6,107.77L200.1,107.73L200.6,107.67L201.1,107.59L201.6,107.52L202.1,107.44L202.6,107.37L203.1,107.32L203.6,107.36L204.1,107.4L204.6,107.45L205.1,107.49L205.6,107.54L206.1,107.53L206.6,107.52L207.1,107.51L207.6,107.5L208.1,107.49L208.6,107.51L209.1,107.53L209.6,107.55L210.1,107.57L210.6,107.59L211.1,107.67L211.6,107.8L212.1,107.93L212.6,108.05L213.1,108.18L213.6,108.2L214.1,108.06L214.6,107.93L215.1,107.79L215.6,107.65L216.1,107.57L216.6,107.74L217.1,107.9L217.6,108.06L218.1,108.22L218.6,108.38L219.1,108.38L219.6,108.38L220.1,108.38L220.6,108.38L221.1,108.38L221.6,108.23L222.1,108.03L222.6,107.84L223.1,107.65L223.6,107.45L224.1,107.41L224.6,107.48L225.1,107.54L225.6,107.6L226.1,107.63L226.6,107.55L227.1,107.37L227.6,107.09L228.1,106.63L228.6,105.91L229.1,104.87L229.6,103.51L230.1,102.21L230.6,101.37L231.1,101.32L231.6,101.92L232.1,102.92L232.6,103.82L233.1,104.46L233.6,104.85L234.1,105.07L234.6,105.19L235.1,105.21L235.6,105.17L236.1,105.09L236.6,104.97L237.1,104.66L237.6,104.21L238.1,103.75L238.6,103.28L239.1,102.81L239.6,102.45L240.1,102.29L240.6,102.13L241.1,101.99L241.6,101.88L242.1,101.74L242.6,101.46L243.1,101.21L243.6,100.98L244.1,100.72L244.6,100.43L245.1,100.32L245.6,100.19L246.1,100L246.6,99.76L247.1,99.43L247.6,98.96L248.1,98.36L248.6,97.64L249.1,96.85L249.6,96.06L250.1,95.29L250.6,94.7L251.1,94.47L251.6,94.5L252.1,94.64L252.6,94.77L253.1,94.78L253.6,94.57L254.1,94.33L254.6,93.86L255.1,93.28L255.6,92.81L256.1,92.62L256.6,92.93L257.1,93.82L257.6,95.13L258.1,96.68L258.6,98.19L259.1,99.51L259.6,100.58L260.1,101.37L260.6,101.59L261.1,101.63L261.6,101.6L262.1,101.53L262.6,101.42L263.1,101.39L263.6,101.39L264.1,101.4L264.6,101.39L265.1,101.38L265.6,101.41L266.1,101.47L266.6,101.54L267.1,101.6L267.6,101.66L268.1,101.72L268.6,101.79L269.1,101.85L269.6,101.91L270.1,101.97L270.6,102.03L271.1,101.88L271.6,101.72L272.1,101.56L272.6,101.4L273.1,101.23L273.6,101.13L274.1,101L274.6,100.96L275.1,100.77L275.6,100.31L276.1,99.53L276.6,98.48L277.1,97.42L277.6,96.9L278.1,97.42L278.6,98.82L279.1,100.49L279.6,102.03L280.1,103.17L280.6,103.89L281.1,104.23L281.6,104.58L282.1,104.84L282.6,105.07L283.1,105.28L283.6,105.49L284.1,105.5L284.6,105.5L285.1,105.51L285.6,105.51L286.1,105.52L286.6,105.68L287.1,105.89L287.6,106.09L288.1,106.29L288.6,106.49L289.1,106.68L289.6,106.85L290.1,107.02L290.6,107.19L291.1,107.36L291.6,107.4L292.1,107.26L292.6,107.12L293.1,106.96L293.6,106.79L294.1,106.68L294.6,106.78L295.1,106.94L295.6,107.06L296.1,107.06L296.6,106.88L297.1,106.43L297.6,105.94L298.1,105.69L298.6,105.99L299.1,106.89L299.6,107.98L300.1,109.02L300.6,109.84L301.1,110.41L301.6,110.75L302.1,110.99L302.6,111.13L303.1,111.25L303.6,111.37L304.1,111.48L304.6,111.66L305.1,111.92L305.6,112.19L306.1,112.46L306.6,112.73L307.1,112.98L307.6,113.09L308.1,113.2L308.6,113.32L309.1,113.44L309.6,113.56L310.1,113.47L310.6,113.39L311.1,113.3L311.6,113.22L312.1,113.13L312.6,113.31L313.1,113.56L313.6,113.8L314.1,114.04L314.6,114.28L315.1,114.46L315.6,114.61L316.1,114.75L316.6,114.89L317.1,115.02L317.6,115.05L318.1,114.95L318.6,114.83L318.6,118.8Z" fill="#39aa6b"/>
<path d="M127.6,94.05L128.1,94.09L128.6,94.15L129.1,94.21L129.6,94.29L130.1,94.37L130.6,94.43L131.1,94.5L131.6,94.57L132.1,94.64L132.6,94.72L133.1,94.94L133.6,95.25L134.1,95.56L134.6,95.88L135.1,96.2L135.6,96.37L136.1,96.32L136.6,96.27L137.1,96.22L137.6,96.17L138.1,96.18L138.6,96.43L139.1,96.68L139.6,96.93L140.1,97.17L140.6,97.4L141.1,97.61L141.6,97.8L142.1,97.98L142.6,98.15L143.1,98.3L143.6,98.18L144.1,97.93L144.6,97.62L145.1,97.21L145.6,96.69L146.1,96.3L146.6,96.14L147.1,96.33L147.6,96.92L148.1,97.74L148.6,98.51L149.1,99.06L149.6,99.42L150.1,99.66L150.6,99.82L151.1,99.91L151.6,99.86L152.1,99.8L152.6,99.74L153.1,99.69L153.6,99.63L154.1,99.79L154.6,99.95L155.1,100.11L155.6,100.27L156.1,100.44L156.6,100.6L157.1,100.76L157.6,100.92L158.1,101.08L158.6,101.24L159.1,101.32L159.6,101.34L160.1,101.37L160.6,101.39L161.1,101.41L161.6,101.47L162.1,101.61L162.6,101.74L163.1,101.87L163.6,101.99L164.1,102.07L164.6,101.98L165.1,101.89L165.6,101.8L166.1,101.68L166.6,101.55L167.1,101.58L167.6,101.57L168.1,101.45L168.6,101.21L169.1,100.9L169.6,100.63L170.1,100.63L170.6,101.02L171.1,101.69L171.6,102.41L172.1,103.08L172.6,103.64L173.1,104.02L173.6,104.24L174.1,104.42L174.6,104.58L175.1,104.73L175.6,104.88L176.1,105.03L176.6,105.19L177.1,105.3L177.6,105.29L178.1,105.27L178.6,105.26L179.1,105.24L179.6,105.23L180.1,105.34L180.6,105.45L181.1,105.56L181.6,105.67L182.1,105.79L182.6,105.79L183.1,105.78L183.6,105.76L184.1,105.75L184.6,105.73L185.1,105.82L185.6,105.98L186.1,106.14L186.6,106.3L187.1,106.46L187.6,106.53L188.1,106.45L188.6,106.38L189.1,106.31L189.6,106.23L190.1,106.19L190.6,106.31L191.1,106.43L191.6,106.54L192.1,106.65L192.6,106.76L193.1,106.92L193.6,107.07L194.1,107.22L194.6,107.37L195.1,107.52L195.6,107.6L196.1,107.67L196.6,107.73L197.1,107.8L197.6,107.86L198.1,107.86L198.6,107.83L199.1,107.8L199.6,107.77L200.1,107.73L200.6,107.67L201.1,107.59L201.6,107.52L202.1,107.44L202.6,107.37L203.1,107.32L203.6,107.36L204.1,107.4L204.6,107.45L205.1,107.49L205.6,107.54L206.1,107.53L206.6,107.52L207.1,107.51L207.6,107.5L208.1,107.49L208.6,107.51L209.1,107.53L209.6,107.55L210.1,107.57L210.6,107.59L211.1,107.67L211.6,107.8L212.1,107.93L212.6,108.05L213.1,108.18L213.6,108.2L214.1,108.06L214.6,107.93L215.1,107.79L215.6,107.65L216.1,107.57L216.6,107.74L217.1,107.9L217.6,108.06L218.1,108.22L218.6,108.38L219.1,108.38L219.6,108.38L220.1,108.38L220.6,108.38L221.1,108.38L221.6,108.23L222.1,108.03L222.6,107.84L223.1,107.65L223.6,107.45L224.1,107.41L224.6,107.48L225.1,107.54L225.6,107.6L226.1,107.63L226.6,107.55L227.1,107.37L227.6,107.09L228.1,106.63L228.6,105.91L229.1,104.87L229.6,103.51L230.1,102.21L230.6,101.37L231.1,101.32L231.6,101.92L232.1,102.92L232.6,103.82L233.1,104.46L233.6,104.85L234.1,105.07L234.6,105.19L235.1,105.21L235.6,105.17L236.1,105.09L236.6,104.97L237.1,104.66L237.6,104.21L238.1,103.75L238.6,103.28L239.1,102.81L239.6,102.45L240.1,102.29L240.6,102.13L241.1,101.99L241.6,101.88L242.1,101.74L242.6,101.46L243.1,101.21L243.6,100.98L244.1,100.72L244.6,100.43L245.1,100.32L245.6,100.19L246.1,100L246.6,99.76L247.1,99.43L247.6,98.96L248.1,98.36L248.6,97.64L249.1,96.85L249.6,96.06L250.1,95.29L250.6,94.7L251.1,94.47L251.6,94.5L252.1,94.64L252.6,94.77L253.1,94.78L253.6,94.57L254.1,94.33L254.6,93.86L255.1,93.28L255.6,92.81L256.1,92.62L256.6,92.93L257.1,93.82L257.6,95.13L258.1,96.68L258.6,98.19L259.1,99.51L259.6,100.58L260.1,101.37L260.6,101.59L261.1,101.63L261.6,101.6L262.1,101.53L262.6,101.42L263.1,101.39L263.6,101.39L264.1,101.4L264.6,101.39L265.1,101.38L265.6,101.41L266.1,101.47L266.6,101.54L267.1,101.6L267.6,101.66L268.1,101.72L268.6,101.79L269.1,101.85L269.6,101.91L270.1,101.97L270.6,102.03L271.1,101.88L271.6,101.72L272.1,101.56L272.6,101.4L273.1,101.23L273.6,101.13L274.1,101L274.6,100.96L275.1,100.77L275.6,100.31L276.1,99.53L276.6,98.48L277.1,97.42L277.6,96.9L278.1,97.42L278.6,98.82L279.1,100.49L279.6,102.03L280.1,103.17L280.6,103.89L281.1,104.23L281.6,104.58L282.1,104.84L282.6,105.07L283.1,105.28L283.6,105.49L284.1,105.5L284.6,105.5L285.1,105.51L285.6,105.51L286.1,105.52L286.6,105.68L287.1,105.89L287.6,106.09L288.1,106.29L288.6,106.49L289.1,106.68L289.6,106.85L290.1,107.02L290.6,107.19L291.1,107.36L291.6,107.4L292.1,107.26L292.6,107.12L293.1,106.96L293.6,106.79L294.1,106.68L294.6,106.78L295.1,106.94L295.6,107.06L296.1,107.06L296.6,106.88L297.1,106.43L297.6,105.94L298.1,105.69L298.6,105.99L299.1,106.89L299.6,107.98L300.1,109.02L300.6,109.84L301.1,110.41L301.6,110.75L302.1,110.99L302.6,111.13L303.1,111.25L303.6,111.37L304.1,111.48L304.6,111.66L305.1,111.92L305.6,112.19L306.1,112.46L306.6,112.73L307.1,112.98L307.6,113.09L308.1,113.2L308.6,113.32L309.1,113.44L309.6,113.56L310.1,113.47L310.6,113.39L311.1,113.3L311.6,113.22L312.1,113.13L312.6,113.31L313.1,113.56L313.6,113.8L314.1,114.04L314.6,114.28L315.1,114.46L315.6,114.61L316.1,114.75L316.6,114.89L317.1,115.02L317.6,115.05L318.1,114.95L318.6,114.83" fill="none" stroke="#262626" stroke-width="0.9" stroke-linejoin="round"/>
<path d="M111.6,134.6L111.6,117.54L112.1,117.75L112.6,118.04L113.1,118.38L113.6,118.74L114.1,119.09L114.61,119.45L115.11,119.76L115.61,119.92L116.11,120.04L116.61,120.17L117.11,120.19L117.61,120.14L118.11,120.09L118.61,120.05L119.11,120.01L119.62,120.03L120.12,120.11L120.62,120.19L121.12,120.27L121.62,120.36L122.12,120.44L122.62,120.53L123.12,120.62L123.62,120.7L124.12,120.79L124.63,120.86L125.13,120.82L125.63,120.77L126.13,120.72L126.63,120.65L127.13,120.58L127.63,120.67L128.13,120.76L128.63,120.83L129.13,120.83L129.64,120.74L130.14,120.52L130.64,120.26L131.14,120.08L131.64,120.15L132.14,120.5L132.64,121.01L133.14,121.53L133.64,121.96L134.14,122.29L134.65,122.52L135.15,122.62L135.65,122.55L136.15,122.43L136.65,122.28L137.15,122.14L137.65,122.01L138.15,122.07L138.65,122.14L139.15,122.2L139.66,122.26L140.16,122.32L140.66,122.3L141.16,122.26L141.66,122.23L142.16,122.2L142.66,122.16L143.16,122.28L143.66,122.47L144.16,122.65L144.67,122.83L145.17,123.01L145.67,123.09L146.17,123.07L146.67,123.06L147.17,123.05L147.67,123.03L148.17,122.97L148.67,122.83L149.17,122.69L149.68,122.55L150.18,122.4L150.68,122.31L151.18,122.53L151.68,122.74L152.18,122.95L152.68,123.17L153.18,123.37L153.68,123.3L154.18,123.13L154.69,122.82L155.19,122.38L155.69,121.91L156.19,121.53L156.69,121.49L157.19,121.82L157.69,122.36L158.19,122.88L158.69,123.33L159.19,123.65L159.7,123.85L160.2,123.97L160.7,124.04L161.2,124.04L161.7,123.97L162.2,123.9L162.7,123.84L163.2,123.77L163.7,123.72L164.2,123.73L164.71,123.74L165.21,123.75L165.71,123.76L166.21,123.78L166.71,123.95L167.21,124.12L167.71,124.29L168.21,124.46L168.71,124.63L169.21,124.61L169.72,124.56L170.22,124.51L170.72,124.46L171.22,124.41L171.72,124.44L172.22,124.53L172.72,124.62L173.22,124.71L173.72,124.8L174.22,124.88L174.73,124.95L175.23,125.03L175.73,125.1L176.23,125.17L176.73,125.22L177.23,125.23L177.73,125.24L178.23,125.24L178.73,125.25L179.23,125.27L179.74,125.42L180.24,125.57L180.74,125.72L181.24,125.87L181.74,126.02L182.24,126.08L182.74,126.12L183.24,126.15L183.74,126.19L184.24,126.22L184.75,126.32L185.25,126.45L185.75,126.58L186.25,126.7L186.75,126.82L187.25,126.86L187.75,126.79L188.25,126.71L188.75,126.64L189.25,126.56L189.76,126.51L190.26,126.54L190.76,126.56L191.26,126.59L191.76,126.61L192.26,126.63L192.76,126.59L193.26,126.56L193.76,126.52L194.26,126.48L194.77,126.45L195.27,126.48L195.77,126.51L196.27,126.54L196.77,126.58L197.27,126.61L197.77,126.58L198.27,126.53L198.77,126.47L199.27,126.42L199.78,126.37L200.28,126.32L200.78,126.28L201.28,126.23L201.78,126.18L202.28,126.14L202.78,126.16L203.28,126.33L203.78,126.49L204.28,126.65L204.79,126.81L205.29,126.94L205.79,126.94L206.29,126.93L206.79,126.93L207.29,126.92L207.79,126.91L208.29,126.87L208.79,126.83L209.29,126.79L209.8,126.75L210.3,126.71L210.8,126.67L211.3,126.64L211.8,126.6L212.3,126.56L212.8,126.53L213.3,126.45L213.8,126.35L214.3,126.25L214.8,126.15L215.31,126.05L215.81,125.98L216.31,125.94L216.81,125.89L217.31,125.81L217.81,125.68L218.31,125.46L218.81,125.1L219.31,124.54L219.81,123.83L220.32,123.11L220.82,122.66L221.32,122.69L221.82,123.2L222.32,123.9L222.82,124.55L223.32,125.01L223.82,125.46L224.32,125.8L224.82,126.05L225.33,126.25L225.83,126.44L226.33,126.43L226.83,126.23L227.33,126.01L227.83,125.76L228.33,125.49L228.83,125.29L229.33,125.18L229.83,125.05L230.34,124.92L230.84,124.79L231.34,124.59L231.84,124.25L232.34,123.92L232.84,123.6L233.34,123.29L233.84,123.02L234.34,122.98L234.84,122.96L235.35,122.97L235.85,122.96L236.35,122.91L236.85,122.66L237.35,122.33L237.85,121.94L238.35,121.5L238.85,121.03L239.35,120.43L239.85,119.81L240.36,119.29L240.86,118.89L241.36,118.64L241.86,118.66L242.36,118.89L242.86,119.15L243.36,119.4L243.86,119.56L244.36,119.7L244.86,119.81L245.37,119.73L245.87,119.49L246.37,119.12L246.87,118.7L247.37,118.21L247.87,118.05L248.37,118.3L248.87,118.91L249.37,119.7L249.87,120.7L250.38,121.62L250.88,122.38L251.38,122.97L251.88,123.41L252.38,123.53L252.88,123.53L253.38,123.51L253.88,123.46L254.38,123.41L254.88,123.39L255.39,123.4L255.89,123.41L256.39,123.42L256.89,123.43L257.39,123.52L257.89,123.73L258.39,123.94L258.89,124.15L259.39,124.36L259.89,124.55L260.4,124.66L260.9,124.77L261.4,124.87L261.9,124.97L262.4,125.06L262.9,124.99L263.4,124.92L263.9,124.83L264.4,124.74L264.9,124.64L265.41,124.61L265.91,124.57L266.41,124.51L266.91,124.37L267.41,124.08L267.91,123.63L268.41,122.95L268.91,122.09L269.41,121.29L269.91,120.94L270.42,121.37L270.92,122.42L271.42,123.65L271.92,124.75L272.42,125.6L272.92,126.15L273.42,126.37L273.92,126.47L274.42,126.52L274.92,126.53L275.43,126.52L275.93,126.41L276.43,126.3L276.93,126.19L277.43,126.09L277.93,125.98L278.43,126.03L278.93,126.1L279.43,126.18L279.93,126.25L280.44,126.32L280.94,126.35L281.44,126.36L281.94,126.37L282.44,126.38L282.94,126.39L283.44,126.4L283.94,126.42L284.44,126.45L284.94,126.46L285.45,126.48L285.95,126.54L286.45,126.72L286.95,126.95L287.45,127.2L287.95,127.45L288.45,127.64L288.95,127.49L289.45,127.25L289.95,126.88L290.46,126.42L290.96,125.98L291.46,125.95L291.96,126.29L292.46,126.94L292.96,127.7L293.46,128.41L293.96,128.9L294.46,129.23L294.96,129.45L295.47,129.61L295.97,129.72L296.47,129.79L296.97,129.8L297.47,129.78L297.97,129.77L298.47,129.76L298.97,129.82L299.47,130L299.97,130.19L300.48,130.38L300.98,130.57L301.48,130.73L301.98,130.66L302.48,130.59L302.98,130.53L303.48,130.47L303.98,130.4L304.48,130.59L304.98,130.79L305.49,130.99L305.99,131.18L306.49,131.38L306.99,131.38L307.49,131.34L307.99,131.29L308.49,131.23L308.99,131.18L309.49,131.23L309.99,131.37L310.5,131.49L311,131.62L311.5,131.74L312,131.8L312.5,131.8L313,131.78L313,134.6Z" fill="#1b6fdd"/>
<path d="M111.6,117.54L112.1,117.75L112.6,118.04L113.1,118.38L113.6,118.74L114.1,119.09L114.61,119.45L115.11,119.76L115.61,119.92L116.11,120.04L116.61,120.17L117.11,120.19L117.61,120.14L118.11,120.09L118.61,120.05L119.11,120.01L119.62,120.03L120.12,120.11L120.62,120.19L121.12,120.27L121.62,120.36L122.12,120.44L122.62,120.53L123.12,120.62L123.62,120.7L124.12,120.79L124.63,120.86L125.13,120.82L125.63,120.77L126.13,120.72L126.63,120.65L127.13,120.58L127.63,120.67L128.13,120.76L128.63,120.83L129.13,120.83L129.64,120.74L130.14,120.52L130.64,120.26L131.14,120.08L131.64,120.15L132.14,120.5L132.64,121.01L133.14,121.53L133.64,121.96L134.14,122.29L134.65,122.52L135.15,122.62L135.65,122.55L136.15,122.43L136.65,122.28L137.15,122.14L137.65,122.01L138.15,122.07L138.65,122.14L139.15,122.2L139.66,122.26L140.16,122.32L140.66,122.3L141.16,122.26L141.66,122.23L142.16,122.2L142.66,122.16L143.16,122.28L143.66,122.47L144.16,122.65L144.67,122.83L145.17,123.01L145.67,123.09L146.17,123.07L146.67,123.06L147.17,123.05L147.67,123.03L148.17,122.97L148.67,122.83L149.17,122.69L149.68,122.55L150.18,122.4L150.68,122.31L151.18,122.53L151.68,122.74L152.18,122.95L152.68,123.17L153.18,123.37L153.68,123.3L154.18,123.13L154.69,122.82L155.19,122.38L155.69,121.91L156.19,121.53L156.69,121.49L157.19,121.82L157.69,122.36L158.19,122.88L158.69,123.33L159.19,123.65L159.7,123.85L160.2,123.97L160.7,124.04L161.2,124.04L161.7,123.97L162.2,123.9L162.7,123.84L163.2,123.77L163.7,123.72L164.2,123.73L164.71,123.74L165.21,123.75L165.71,123.76L166.21,123.78L166.71,123.95L167.21,124.12L167.71,124.29L168.21,124.46L168.71,124.63L169.21,124.61L169.72,124.56L170.22,124.51L170.72,124.46L171.22,124.41L171.72,124.44L172.22,124.53L172.72,124.62L173.22,124.71L173.72,124.8L174.22,124.88L174.73,124.95L175.23,125.03L175.73,125.1L176.23,125.17L176.73,125.22L177.23,125.23L177.73,125.24L178.23,125.24L178.73,125.25L179.23,125.27L179.74,125.42L180.24,125.57L180.74,125.72L181.24,125.87L181.74,126.02L182.24,126.08L182.74,126.12L183.24,126.15L183.74,126.19L184.24,126.22L184.75,126.32L185.25,126.45L185.75,126.58L186.25,126.7L186.75,126.82L187.25,126.86L187.75,126.79L188.25,126.71L188.75,126.64L189.25,126.56L189.76,126.51L190.26,126.54L190.76,126.56L191.26,126.59L191.76,126.61L192.26,126.63L192.76,126.59L193.26,126.56L193.76,126.52L194.26,126.48L194.77,126.45L195.27,126.48L195.77,126.51L196.27,126.54L196.77,126.58L197.27,126.61L197.77,126.58L198.27,126.53L198.77,126.47L199.27,126.42L199.78,126.37L200.28,126.32L200.78,126.28L201.28,126.23L201.78,126.18L202.28,126.14L202.78,126.16L203.28,126.33L203.78,126.49L204.28,126.65L204.79,126.81L205.29,126.94L205.79,126.94L206.29,126.93L206.79,126.93L207.29,126.92L207.79,126.91L208.29,126.87L208.79,126.83L209.29,126.79L209.8,126.75L210.3,126.71L210.8,126.67L211.3,126.64L211.8,126.6L212.3,126.56L212.8,126.53L213.3,126.45L213.8,126.35L214.3,126.25L214.8,126.15L215.31,126.05L215.81,125.98L216.31,125.94L216.81,125.89L217.31,125.81L217.81,125.68L218.31,125.46L218.81,125.1L219.31,124.54L219.81,123.83L220.32,123.11L220.82,122.66L221.32,122.69L221.82,123.2L222.32,123.9L222.82,124.55L223.32,125.01L223.82,125.46L224.32,125.8L224.82,126.05L225.33,126.25L225.83,126.44L226.33,126.43L226.83,126.23L227.33,126.01L227.83,125.76L228.33,125.49L228.83,125.29L229.33,125.18L229.83,125.05L230.34,124.92L230.84,124.79L231.34,124.59L231.84,124.25L232.34,123.92L232.84,123.6L233.34,123.29L233.84,123.02L234.34,122.98L234.84,122.96L235.35,122.97L235.85,122.96L236.35,122.91L236.85,122.66L237.35,122.33L237.85,121.94L238.35,121.5L238.85,121.03L239.35,120.43L239.85,119.81L240.36,119.29L240.86,118.89L241.36,118.64L241.86,118.66L242.36,118.89L242.86,119.15L243.36,119.4L243.86,119.56L244.36,119.7L244.86,119.81L245.37,119.73L245.87,119.49L246.37,119.12L246.87,118.7L247.37,118.21L247.87,118.05L248.37,118.3L248.87,118.91L249.37,119.7L249.87,120.7L250.38,121.62L250.88,122.38L251.38,122.97L251.88,123.41L252.38,123.53L252.88,123.53L253.38,123.51L253.88,123.46L254.38,123.41L254.88,123.39L255.39,123.4L255.89,123.41L256.39,123.42L256.89,123.43L257.39,123.52L257.89,123.73L258.39,123.94L258.89,124.15L259.39,124.36L259.89,124.55L260.4,124.66L260.9,124.77L261.4,124.87L261.9,124.97L262.4,125.06L262.9,124.99L263.4,124.92L263.9,124.83L264.4,124.74L264.9,124.64L265.41,124.61L265.91,124.57L266.41,124.51L266.91,124.37L267.41,124.08L267.91,123.63L268.41,122.95L268.91,122.09L269.41,121.29L269.91,120.94L270.42,121.37L270.92,122.42L271.42,123.65L271.92,124.75L272.42,125.6L272.92,126.15L273.42,126.37L273.92,126.47L274.42,126.52L274.92,126.53L275.43,126.52L275.93,126.41L276.43,126.3L276.93,126.19L277.43,126.09L277.93,125.98L278.43,126.03L278.93,126.1L279.43,126.18L279.93,126.25L280.44,126.32L280.94,126.35L281.44,126.36L281.94,126.37L282.44,126.38L282.94,126.39L283.44,126.4L283.94,126.42L284.44,126.45L284.94,126.46L285.45,126.48L285.95,126.54L286.45,126.72L286.95,126.95L287.45,127.2L287.95,127.45L288.45,127.64L288.95,127.49L289.45,127.25L289.95,126.88L290.46,126.42L290.96,125.98L291.46,125.95L291.96,126.29L292.46,126.94L292.96,127.7L293.46,128.41L293.96,128.9L294.46,129.23L294.96,129.45L295.47,129.61L295.97,129.72L296.47,129.79L296.97,129.8L297.47,129.78L297.97,129.77L298.47,129.76L298.97,129.82L299.47,130L299.97,130.19L300.48,130.38L300.98,130.57L301.48,130.73L301.98,130.66L302.48,130.59L302.98,130.53L303.48,130.47L303.98,130.4L304.48,130.59L304.98,130.79L305.49,130.99L305.99,131.18L306.49,131.38L306.99,131.38L307.49,131.34L307.99,131.29L308.49,131.23L308.99,131.18L309.49,131.23L309.99,131.37L310.5,131.49L311,131.62L311.5,131.74L312,131.8L312.5,131.8L313,131.78" fill="none" stroke="#262626" stroke-width="0.9" stroke-linejoin="round"/>
<path d="M93.7,152.6L93.7,138.1L94.2,138.23L94.7,138.37L95.2,138.51L95.7,138.65L96.2,138.8L96.7,138.88L97.2,138.94L97.7,139L98.2,139.06L98.7,139.13L99.21,139.21L99.71,139.32L100.21,139.42L100.71,139.52L101.21,139.63L101.71,139.64L102.21,139.55L102.71,139.45L103.21,139.34L103.71,139.23L104.21,139.16L104.71,139.2L105.21,139.23L105.71,139.26L106.21,139.3L106.71,139.33L107.21,139.34L107.71,139.35L108.21,139.37L108.71,139.38L109.21,139.39L109.72,139.42L110.22,139.45L110.72,139.47L111.22,139.46L111.72,139.44L112.22,139.44L112.72,139.46L113.22,139.47L113.72,139.46L114.22,139.47L114.72,139.41L115.22,139.27L115.72,139.21L116.22,139.21L116.72,139.26L117.22,139.39L117.72,139.69L118.22,139.98L118.72,140.24L119.22,140.47L119.72,140.66L120.22,140.67L120.73,140.66L121.23,140.64L121.73,140.6L122.23,140.57L122.73,140.61L123.23,140.66L123.73,140.72L124.23,140.77L124.73,140.83L125.23,140.9L125.73,140.97L126.23,141.05L126.73,141.13L127.23,141.21L127.73,141.31L128.23,141.46L128.73,141.6L129.23,141.74L129.73,141.89L130.23,142L130.73,142L131.24,142L131.74,142L132.24,142L132.74,141.99L133.24,141.91L133.74,141.82L134.24,141.74L134.74,141.65L135.24,141.57L135.74,141.65L136.24,141.76L136.74,141.86L137.24,141.95L137.74,142.02L138.24,141.98L138.74,141.84L139.24,141.62L139.74,141.31L140.24,140.99L140.74,140.87L141.24,141.07L141.75,141.51L142.25,142.06L142.75,142.59L143.25,142.99L143.75,143.17L144.25,143.28L144.75,143.34L145.25,143.38L145.75,143.4L146.25,143.43L146.75,143.45L147.25,143.47L147.75,143.48L148.25,143.5L148.75,143.52L149.25,143.55L149.75,143.57L150.25,143.6L150.75,143.62L151.25,143.63L151.75,143.64L152.25,143.64L152.76,143.64L153.26,143.65L153.76,143.69L154.26,143.76L154.76,143.83L155.26,143.91L155.76,143.98L156.26,144.03L156.76,144.02L157.26,144.01L157.76,144L158.26,143.99L158.76,143.98L159.26,143.88L159.76,143.78L160.26,143.69L160.76,143.59L161.26,143.5L161.76,143.65L162.26,143.81L162.76,143.98L163.27,144.14L163.77,144.31L164.27,144.32L164.77,144.26L165.27,144.2L165.77,144.15L166.27,144.09L166.77,144.12L167.27,144.21L167.77,144.29L168.27,144.38L168.77,144.47L169.27,144.52L169.77,144.51L170.27,144.49L170.77,144.47L171.27,144.45L171.77,144.43L172.27,144.42L172.77,144.41L173.27,144.4L173.78,144.39L174.28,144.38L174.78,144.38L175.28,144.39L175.78,144.39L176.28,144.39L176.78,144.39L177.28,144.41L177.78,144.44L178.28,144.47L178.78,144.49L179.28,144.52L179.78,144.52L180.28,144.5L180.78,144.49L181.28,144.47L181.78,144.46L182.28,144.44L182.78,144.4L183.28,144.37L183.78,144.34L184.28,144.31L184.79,144.32L185.29,144.49L185.79,144.67L186.29,144.85L186.79,145.03L187.29,145.21L187.79,145.23L188.29,145.24L188.79,145.25L189.29,145.27L189.79,145.28L190.29,145.33L190.79,145.39L191.29,145.46L191.79,145.52L192.29,145.58L192.79,145.58L193.29,145.53L193.79,145.48L194.29,145.43L194.79,145.38L195.3,145.34L195.8,145.33L196.3,145.32L196.8,145.3L197.3,145.29L197.8,145.29L198.3,145.35L198.8,145.41L199.3,145.47L199.8,145.53L200.3,145.59L200.8,145.46L201.3,145.33L201.8,145.2L202.3,145.07L202.8,144.94L203.3,145.03L203.8,145.16L204.3,145.29L204.8,145.43L205.3,145.55L205.81,145.57L206.31,145.51L206.81,145.45L207.31,145.39L207.81,145.33L208.31,145.27L208.81,145.2L209.31,145.13L209.81,145.06L210.31,145L210.81,144.94L211.31,144.94L211.81,144.94L212.31,144.94L212.81,144.94L213.31,144.95L213.81,145.01L214.31,145.08L214.81,145.15L215.31,145.2L215.81,145.21L216.32,145.11L216.82,144.97L217.32,144.82L217.82,144.67L218.32,144.51L218.82,144.41L219.32,144.36L219.82,144.29L220.32,144.23L220.82,144.16L221.32,144.09L221.82,144.01L222.32,143.93L222.82,143.85L223.32,143.77L223.82,143.68L224.32,143.52L224.82,143.38L225.32,143.24L225.82,143.1L226.32,142.97L226.82,142.84L227.33,142.72L227.83,142.63L228.33,142.56L228.83,142.5L229.33,142.55L229.83,142.63L230.33,142.69L230.83,142.74L231.33,142.78L231.83,142.72L232.33,142.59L232.83,142.44L233.33,142.28L233.83,142.1L234.33,141.95L234.83,141.82L235.33,141.7L235.83,141.59L236.33,141.51L236.83,141.47L237.33,141.47L237.84,141.52L238.34,141.61L238.84,141.73L239.34,141.88L239.84,142.08L240.34,142.29L240.84,142.48L241.34,142.66L241.84,142.83L242.34,142.88L242.84,142.9L243.34,142.91L243.84,142.91L244.34,142.89L244.84,143.01L245.34,143.18L245.84,143.35L246.34,143.51L246.84,143.67L247.34,143.8L247.84,143.89L248.35,143.99L248.85,144.08L249.35,144.17L249.85,144.2L250.35,144.1L250.85,143.99L251.35,143.88L251.85,143.77L252.35,143.67L252.85,143.77L253.35,143.86L253.85,143.95L254.35,144.03L254.85,144.11L255.35,144.16L255.85,144.2L256.35,144.22L256.85,144.21L257.35,144.18L257.85,143.95L258.35,143.6L258.85,143.22L259.36,142.82L259.86,142.41L260.36,142.14L260.86,142.02L261.36,142L261.86,142.07L262.36,142.24L262.86,142.52L263.36,142.93L263.86,143.33L264.36,143.72L264.86,144.07L265.36,144.37L265.86,144.5L266.36,144.6L266.86,144.68L267.36,144.74L267.86,144.79L268.36,144.79L268.86,144.78L269.36,144.77L269.87,144.75L270.37,144.74L270.87,144.68L271.37,144.61L271.87,144.53L272.37,144.46L272.87,144.39L273.37,144.4L273.87,144.5L274.37,144.59L274.87,144.69L275.37,144.79L275.87,144.9L276.37,145.04L276.87,145.18L277.37,145.32L277.87,145.46L278.37,145.58L278.87,145.62L279.37,145.65L279.87,145.68L280.38,145.72L280.88,145.75L281.38,145.75L281.88,145.76L282.38,145.76L282.88,145.76L283.38,145.76L283.88,145.67L284.38,145.56L284.88,145.46L285.38,145.36L285.88,145.26L286.38,145.33L286.88,145.52L287.38,145.72L287.88,145.92L288.38,146.12L288.88,146.23L289.38,146.18L289.88,146.12L290.38,146.07L290.88,146.02L291.39,146L291.89,146.15L292.39,146.29L292.89,146.43L293.39,146.58L293.89,146.72L294.39,146.66L294.89,146.59L295.39,146.53L295.89,146.46L296.39,146.39L296.89,146.58L297.39,146.84L297.89,147.09L298.39,147.35L298.89,147.61L299.39,147.7L299.89,147.68L300.39,147.65L300.89,147.62L301.39,147.59L301.9,147.61L302.4,147.69L302.9,147.77L303.4,147.84L303.9,147.92L304.4,147.96L304.9,147.88L305.4,147.8L305.9,147.72L306.4,147.63L306.9,147.55L306.9,152.6Z" fill="#ef4343"/>
<path d="M93.7,138.1L94.2,138.23L94.7,138.37L95.2,138.51L95.7,138.65L96.2,138.8L96.7,138.88L97.2,138.94L97.7,139L98.2,139.06L98.7,139.13L99.21,139.21L99.71,139.32L100.21,139.42L100.71,139.52L101.21,139.63L101.71,139.64L102.21,139.55L102.71,139.45L103.21,139.34L103.71,139.23L104.21,139.16L104.71,139.2L105.21,139.23L105.71,139.26L106.21,139.3L106.71,139.33L107.21,139.34L107.71,139.35L108.21,139.37L108.71,139.38L109.21,139.39L109.72,139.42L110.22,139.45L110.72,139.47L111.22,139.46L111.72,139.44L112.22,139.44L112.72,139.46L113.22,139.47L113.72,139.46L114.22,139.47L114.72,139.41L115.22,139.27L115.72,139.21L116.22,139.21L116.72,139.26L117.22,139.39L117.72,139.69L118.22,139.98L118.72,140.24L119.22,140.47L119.72,140.66L120.22,140.67L120.73,140.66L121.23,140.64L121.73,140.6L122.23,140.57L122.73,140.61L123.23,140.66L123.73,140.72L124.23,140.77L124.73,140.83L125.23,140.9L125.73,140.97L126.23,141.05L126.73,141.13L127.23,141.21L127.73,141.31L128.23,141.46L128.73,141.6L129.23,141.74L129.73,141.89L130.23,142L130.73,142L131.24,142L131.74,142L132.24,142L132.74,141.99L133.24,141.91L133.74,141.82L134.24,141.74L134.74,141.65L135.24,141.57L135.74,141.65L136.24,141.76L136.74,141.86L137.24,141.95L137.74,142.02L138.24,141.98L138.74,141.84L139.24,141.62L139.74,141.31L140.24,140.99L140.74,140.87L141.24,141.07L141.75,141.51L142.25,142.06L142.75,142.59L143.25,142.99L143.75,143.17L144.25,143.28L144.75,143.34L145.25,143.38L145.75,143.4L146.25,143.43L146.75,143.45L147.25,143.47L147.75,143.48L148.25,143.5L148.75,143.52L149.25,143.55L149.75,143.57L150.25,143.6L150.75,143.62L151.25,143.63L151.75,143.64L152.25,143.64L152.76,143.64L153.26,143.65L153.76,143.69L154.26,143.76L154.76,143.83L155.26,143.91L155.76,143.98L156.26,144.03L156.76,144.02L157.26,144.01L157.76,144L158.26,143.99L158.76,143.98L159.26,143.88L159.76,143.78L160.26,143.69L160.76,143.59L161.26,143.5L161.76,143.65L162.26,143.81L162.76,143.98L163.27,144.14L163.77,144.31L164.27,144.32L164.77,144.26L165.27,144.2L165.77,144.15L166.27,144.09L166.77,144.12L167.27,144.21L167.77,144.29L168.27,144.38L168.77,144.47L169.27,144.52L169.77,144.51L170.27,144.49L170.77,144.47L171.27,144.45L171.77,144.43L172.27,144.42L172.77,144.41L173.27,144.4L173.78,144.39L174.28,144.38L174.78,144.38L175.28,144.39L175.78,144.39L176.28,144.39L176.78,144.39L177.28,144.41L177.78,144.44L178.28,144.47L178.78,144.49L179.28,144.52L179.78,144.52L180.28,144.5L180.78,144.49L181.28,144.47L181.78,144.46L182.28,144.44L182.78,144.4L183.28,144.37L183.78,144.34L184.28,144.31L184.79,144.32L185.29,144.49L185.79,144.67L186.29,144.85L186.79,145.03L187.29,145.21L187.79,145.23L188.29,145.24L188.79,145.25L189.29,145.27L189.79,145.28L190.29,145.33L190.79,145.39L191.29,145.46L191.79,145.52L192.29,145.58L192.79,145.58L193.29,145.53L193.79,145.48L194.29,145.43L194.79,145.38L195.3,145.34L195.8,145.33L196.3,145.32L196.8,145.3L197.3,145.29L197.8,145.29L198.3,145.35L198.8,145.41L199.3,145.47L199.8,145.53L200.3,145.59L200.8,145.46L201.3,145.33L201.8,145.2L202.3,145.07L202.8,144.94L203.3,145.03L203.8,145.16L204.3,145.29L204.8,145.43L205.3,145.55L205.81,145.57L206.31,145.51L206.81,145.45L207.31,145.39L207.81,145.33L208.31,145.27L208.81,145.2L209.31,145.13L209.81,145.06L210.31,145L210.81,144.94L211.31,144.94L211.81,144.94L212.31,144.94L212.81,144.94L213.31,144.95L213.81,145.01L214.31,145.08L214.81,145.15L215.31,145.2L215.81,145.21L216.32,145.11L216.82,144.97L217.32,144.82L217.82,144.67L218.32,144.51L218.82,144.41L219.32,144.36L219.82,144.29L220.32,144.23L220.82,144.16L221.32,144.09L221.82,144.01L222.32,143.93L222.82,143.85L223.32,143.77L223.82,143.68L224.32,143.52L224.82,143.38L225.32,143.24L225.82,143.1L226.32,142.97L226.82,142.84L227.33,142.72L227.83,142.63L228.33,142.56L228.83,142.5L229.33,142.55L229.83,142.63L230.33,142.69L230.83,142.74L231.33,142.78L231.83,142.72L232.33,142.59L232.83,142.44L233.33,142.28L233.83,142.1L234.33,141.95L234.83,141.82L235.33,141.7L235.83,141.59L236.33,141.51L236.83,141.47L237.33,141.47L237.84,141.52L238.34,141.61L238.84,141.73L239.34,141.88L239.84,142.08L240.34,142.29L240.84,142.48L241.34,142.66L241.84,142.83L242.34,142.88L242.84,142.9L243.34,142.91L243.84,142.91L244.34,142.89L244.84,143.01L245.34,143.18L245.84,143.35L246.34,143.51L246.84,143.67L247.34,143.8L247.84,143.89L248.35,143.99L248.85,144.08L249.35,144.17L249.85,144.2L250.35,144.1L250.85,143.99L251.35,143.88L251.85,143.77L252.35,143.67L252.85,143.77L253.35,143.86L253.85,143.95L254.35,144.03L254.85,144.11L255.35,144.16L255.85,144.2L256.35,144.22L256.85,144.21L257.35,144.18L257.85,143.95L258.35,143.6L258.85,143.22L259.36,142.82L259.86,142.41L260.36,142.14L260.86,142.02L261.36,142L261.86,142.07L262.36,142.24L262.86,142.52L263.36,142.93L263.86,143.33L264.36,143.72L264.86,144.07L265.36,144.37L265.86,144.5L266.36,144.6L266.86,144.68L267.36,144.74L267.86,144.79L268.36,144.79L268.86,144.78L269.36,144.77L269.87,144.75L270.37,144.74L270.87,144.68L271.37,144.61L271.87,144.53L272.37,144.46L272.87,144.39L273.37,144.4L273.87,144.5L274.37,144.59L274.87,144.69L275.37,144.79L275.87,144.9L276.37,145.04L276.87,145.18L277.37,145.32L277.87,145.46L278.37,145.58L278.87,145.62L279.37,145.65L279.87,145.68L280.38,145.72L280.88,145.75L281.38,145.75L281.88,145.76L282.38,145.76L282.88,145.76L283.38,145.76L283.88,145.67L284.38,145.56L284.88,145.46L285.38,145.36L285.88,145.26L286.38,145.33L286.88,145.52L287.38,145.72L287.88,145.92L288.38,146.12L288.88,146.23L289.38,146.18L289.88,146.12L290.38,146.07L290.88,146.02L291.39,146L291.89,146.15L292.39,146.29L292.89,146.43L293.39,146.58L293.89,146.72L294.39,146.66L294.89,146.59L295.39,146.53L295.89,146.46L296.39,146.39L296.89,146.58L297.39,146.84L297.89,147.09L298.39,147.35L298.89,147.61L299.39,147.7L299.89,147.68L300.39,147.65L300.89,147.62L301.39,147.59L301.9,147.61L302.4,147.69L302.9,147.77L303.4,147.84L303.9,147.92L304.4,147.96L304.9,147.88L305.4,147.8L305.9,147.72L306.4,147.63L306.9,147.55" fill="none" stroke="#262626" stroke-width="0.9" stroke-linejoin="round"/>
<path d="M73.2,172.9L73.2,163.04L73.7,163L74.2,162.96L74.7,162.92L75.2,162.89L75.7,162.86L76.2,162.91L76.7,162.97L77.21,163.04L77.71,163.11L78.21,163.18L78.71,163.21L79.21,163.21L79.71,163.21L80.21,163.21L80.71,163.21L81.21,163.24L81.71,163.32L82.21,163.4L82.71,163.49L83.21,163.57L83.71,163.62L84.21,163.6L84.72,163.57L85.22,163.55L85.72,163.52L86.22,163.5L86.72,163.57L87.22,163.65L87.72,163.72L88.22,163.79L88.72,163.86L89.22,163.88L89.72,163.88L90.22,163.89L90.72,163.89L91.22,163.9L91.72,163.93L92.23,163.96L92.73,164L93.23,164.04L93.73,164.08L94.23,164.12L94.73,164.17L95.23,164.21L95.73,164.25L96.23,164.3L96.73,164.33L97.23,164.32L97.73,164.32L98.23,164.31L98.73,164.3L99.23,164.3L99.74,164.34L100.24,164.38L100.74,164.42L101.24,164.46L101.74,164.5L102.24,164.55L102.74,164.6L103.24,164.64L103.74,164.69L104.24,164.73L104.74,164.74L105.24,164.72L105.74,164.7L106.24,164.68L106.74,164.66L107.25,164.65L107.75,164.65L108.25,164.65L108.75,164.66L109.25,164.66L109.75,164.66L110.25,164.66L110.75,164.67L111.25,164.67L111.75,164.67L112.25,164.68L112.75,164.72L113.25,164.76L113.75,164.8L114.25,164.85L114.75,164.89L115.26,164.9L115.76,164.9L116.26,164.91L116.76,164.92L117.26,164.93L117.76,164.93L118.26,164.93L118.76,164.93L119.26,164.93L119.76,164.94L120.26,164.92L120.76,164.9L121.26,164.87L121.76,164.84L122.26,164.82L122.77,164.82L123.27,164.86L123.77,164.91L124.27,164.96L124.77,165L125.27,165.04L125.77,165.03L126.27,165.01L126.77,164.99L127.27,164.98L127.77,164.96L128.27,164.95L128.77,164.94L129.27,164.93L129.77,164.92L130.28,164.91L130.78,164.92L131.28,164.94L131.78,164.96L132.28,164.98L132.78,165L133.28,165.01L133.78,165.02L134.28,165.02L134.78,165.03L135.28,165.03L135.78,165.03L136.28,165.02L136.78,165L137.28,164.99L137.79,164.98L138.29,164.97L138.79,165.01L139.29,165.04L139.79,165.07L140.29,165.11L140.79,165.14L141.29,165.13L141.79,165.13L142.29,165.12L142.79,165.12L143.29,165.11L143.79,165.12L144.29,165.14L144.79,165.15L145.3,165.17L145.8,165.19L146.3,165.21L146.8,165.23L147.3,165.26L147.8,165.28L148.3,165.31L148.8,165.32L149.3,165.3L149.8,165.29L150.3,165.27L150.8,165.26L151.3,165.24L151.8,165.23L152.3,165.22L152.81,165.2L153.31,165.19L153.81,165.18L154.31,165.2L154.81,165.23L155.31,165.26L155.81,165.29L156.31,165.31L156.81,165.32L157.31,165.33L157.81,165.34L158.31,165.35L158.81,165.36L159.31,165.34L159.81,165.32L160.32,165.29L160.82,165.26L161.32,165.23L161.82,165.23L162.32,165.25L162.82,165.28L163.32,165.31L163.82,165.34L164.32,165.34L164.82,165.29L165.32,165.24L165.82,165.19L166.32,165.14L166.82,165.09L167.32,165.09L167.83,165.1L168.33,165.11L168.83,165.12L169.33,165.13L169.83,165.13L170.33,165.13L170.83,165.14L171.33,165.14L171.83,165.14L172.33,165.17L172.83,165.22L173.33,165.27L173.83,165.31L174.33,165.36L174.83,165.37L175.34,165.36L175.84,165.35L176.34,165.34L176.84,165.32L177.34,165.31L177.84,165.32L178.34,165.32L178.84,165.32L179.34,165.32L179.84,165.33L180.34,165.3L180.84,165.28L181.34,165.25L181.84,165.23L182.34,165.21L182.85,165.22L183.35,165.23L183.85,165.24L184.35,165.26L184.85,165.27L185.35,165.29L185.85,165.31L186.35,165.34L186.85,165.36L187.35,165.38L187.85,165.37L188.35,165.33L188.85,165.28L189.35,165.24L189.85,165.2L190.35,165.17L190.86,165.17L191.36,165.17L191.86,165.17L192.36,165.17L192.86,165.17L193.36,165.17L193.86,165.17L194.36,165.17L194.86,165.16L195.36,165.16L195.86,165.18L196.36,165.21L196.86,165.23L197.36,165.26L197.86,165.28L198.37,165.3L198.87,165.33L199.37,165.35L199.87,165.37L200.37,165.38L200.87,165.37L201.37,165.35L201.87,165.32L202.37,165.29L202.87,165.26L203.37,165.23L203.87,165.2L204.37,165.17L204.87,165.15L205.37,165.12L205.88,165.09L206.38,165.08L206.88,165.06L207.38,165.05L207.88,165.03L208.38,165.02L208.88,164.98L209.38,164.94L209.88,164.89L210.38,164.85L210.88,164.81L211.38,164.82L211.88,164.84L212.38,164.86L212.88,164.88L213.39,164.9L213.89,164.87L214.39,164.81L214.89,164.76L215.39,164.7L215.89,164.64L216.39,164.59L216.89,164.56L217.39,164.53L217.89,164.5L218.39,164.48L218.89,164.45L219.39,164.43L219.89,164.42L220.39,164.4L220.9,164.39L221.4,164.37L221.9,164.39L222.4,164.4L222.9,164.41L223.4,164.43L223.9,164.44L224.4,164.41L224.9,164.37L225.4,164.33L225.9,164.29L226.4,164.27L226.9,164.29L227.4,164.33L227.9,164.38L228.41,164.42L228.91,164.47L229.41,164.49L229.91,164.47L230.41,164.45L230.91,164.44L231.41,164.42L231.91,164.41L232.41,164.44L232.91,164.46L233.41,164.49L233.91,164.51L234.41,164.53L234.91,164.53L235.41,164.53L235.92,164.53L236.42,164.53L236.92,164.53L237.42,164.59L237.92,164.66L238.42,164.73L238.92,164.8L239.42,164.87L239.92,164.91L240.42,164.92L240.92,164.94L241.42,164.96L241.92,164.97L242.42,164.99L242.92,164.99L243.43,165L243.93,165L244.43,165.01L244.93,165.01L245.43,165.02L245.93,165.02L246.43,165.03L246.93,165.03L247.43,165.04L247.93,165.08L248.43,165.13L248.93,165.18L249.43,165.22L249.93,165.27L250.43,165.29L250.94,165.31L251.44,165.33L251.94,165.34L252.44,165.36L252.94,165.4L253.44,165.45L253.94,165.5L254.44,165.55L254.94,165.6L255.44,165.64L255.94,165.67L256.44,165.7L256.94,165.72L257.44,165.75L257.94,165.77L258.45,165.78L258.95,165.79L259.45,165.8L259.95,165.81L260.45,165.82L260.95,165.81L261.45,165.8L261.95,165.8L262.45,165.79L262.95,165.78L263.45,165.78L263.95,165.78L264.45,165.78L264.95,165.78L265.45,165.79L265.95,165.83L266.46,165.89L266.96,165.95L267.46,166.02L267.96,166.08L268.46,166.11L268.96,166.13L269.46,166.15L269.96,166.17L270.46,166.19L270.96,166.2L271.46,166.17L271.96,166.15L272.46,166.13L272.96,166.11L273.46,166.1L273.97,166.15L274.47,166.19L274.97,166.24L275.47,166.29L275.97,166.34L276.47,166.38L276.97,166.41L277.47,166.44L277.97,166.47L278.47,166.51L278.97,166.56L279.47,166.63L279.97,166.69L280.47,166.76L280.97,166.82L281.48,166.84L281.98,166.83L282.48,166.81L282.98,166.79L283.48,166.78L283.98,166.78L284.48,166.82L284.98,166.86L285.48,166.9L285.98,166.94L286.48,166.98L286.98,167.07L287.48,167.15L287.98,167.23L288.48,167.31L288.99,167.39L289.49,167.42L289.99,167.44L290.49,167.46L290.99,167.47L291.49,167.49L291.99,167.52L292.49,167.54L292.99,167.57L293.49,167.59L293.99,167.62L294.49,167.65L294.99,167.7L295.49,167.74L295.99,167.79L296.5,167.83L297,167.86L297.5,167.87L298,167.89L298.5,167.9L299,167.9L299.5,167.91L300,167.93L300,172.9Z" fill="#505050"/>
<path d="M73.2,163.04L73.7,163L74.2,162.96L74.7,162.92L75.2,162.89L75.7,162.86L76.2,162.91L76.7,162.97L77.21,163.04L77.71,163.11L78.21,163.18L78.71,163.21L79.21,163.21L79.71,163.21L80.21,163.21L80.71,163.21L81.21,163.24L81.71,163.32L82.21,163.4L82.71,163.49L83.21,163.57L83.71,163.62L84.21,163.6L84.72,163.57L85.22,163.55L85.72,163.52L86.22,163.5L86.72,163.57L87.22,163.65L87.72,163.72L88.22,163.79L88.72,163.86L89.22,163.88L89.72,163.88L90.22,163.89L90.72,163.89L91.22,163.9L91.72,163.93L92.23,163.96L92.73,164L93.23,164.04L93.73,164.08L94.23,164.12L94.73,164.17L95.23,164.21L95.73,164.25L96.23,164.3L96.73,164.33L97.23,164.32L97.73,164.32L98.23,164.31L98.73,164.3L99.23,164.3L99.74,164.34L100.24,164.38L100.74,164.42L101.24,164.46L101.74,164.5L102.24,164.55L102.74,164.6L103.24,164.64L103.74,164.69L104.24,164.73L104.74,164.74L105.24,164.72L105.74,164.7L106.24,164.68L106.74,164.66L107.25,164.65L107.75,164.65L108.25,164.65L108.75,164.66L109.25,164.66L109.75,164.66L110.25,164.66L110.75,164.67L111.25,164.67L111.75,164.67L112.25,164.68L112.75,164.72L113.25,164.76L113.75,164.8L114.25,164.85L114.75,164.89L115.26,164.9L115.76,164.9L116.26,164.91L116.76,164.92L117.26,164.93L117.76,164.93L118.26,164.93L118.76,164.93L119.26,164.93L119.76,164.94L120.26,164.92L120.76,164.9L121.26,164.87L121.76,164.84L122.26,164.82L122.77,164.82L123.27,164.86L123.77,164.91L124.27,164.96L124.77,165L125.27,165.04L125.77,165.03L126.27,165.01L126.77,164.99L127.27,164.98L127.77,164.96L128.27,164.95L128.77,164.94L129.27,164.93L129.77,164.92L130.28,164.91L130.78,164.92L131.28,164.94L131.78,164.96L132.28,164.98L132.78,165L133.28,165.01L133.78,165.02L134.28,165.02L134.78,165.03L135.28,165.03L135.78,165.03L136.28,165.02L136.78,165L137.28,164.99L137.79,164.98L138.29,164.97L138.79,165.01L139.29,165.04L139.79,165.07L140.29,165.11L140.79,165.14L141.29,165.13L141.79,165.13L142.29,165.12L142.79,165.12L143.29,165.11L143.79,165.12L144.29,165.14L144.79,165.15L145.3,165.17L145.8,165.19L146.3,165.21L146.8,165.23L147.3,165.26L147.8,165.28L148.3,165.31L148.8,165.32L149.3,165.3L149.8,165.29L150.3,165.27L150.8,165.26L151.3,165.24L151.8,165.23L152.3,165.22L152.81,165.2L153.31,165.19L153.81,165.18L154.31,165.2L154.81,165.23L155.31,165.26L155.81,165.29L156.31,165.31L156.81,165.32L157.31,165.33L157.81,165.34L158.31,165.35L158.81,165.36L159.31,165.34L159.81,165.32L160.32,165.29L160.82,165.26L161.32,165.23L161.82,165.23L162.32,165.25L162.82,165.28L163.32,165.31L163.82,165.34L164.32,165.34L164.82,165.29L165.32,165.24L165.82,165.19L166.32,165.14L166.82,165.09L167.32,165.09L167.83,165.1L168.33,165.11L168.83,165.12L169.33,165.13L169.83,165.13L170.33,165.13L170.83,165.14L171.33,165.14L171.83,165.14L172.33,165.17L172.83,165.22L173.33,165.27L173.83,165.31L174.33,165.36L174.83,165.37L175.34,165.36L175.84,165.35L176.34,165.34L176.84,165.32L177.34,165.31L177.84,165.32L178.34,165.32L178.84,165.32L179.34,165.32L179.84,165.33L180.34,165.3L180.84,165.28L181.34,165.25L181.84,165.23L182.34,165.21L182.85,165.22L183.35,165.23L183.85,165.24L184.35,165.26L184.85,165.27L185.35,165.29L185.85,165.31L186.35,165.34L186.85,165.36L187.35,165.38L187.85,165.37L188.35,165.33L188.85,165.28L189.35,165.24L189.85,165.2L190.35,165.17L190.86,165.17L191.36,165.17L191.86,165.17L192.36,165.17L192.86,165.17L193.36,165.17L193.86,165.17L194.36,165.17L194.86,165.16L195.36,165.16L195.86,165.18L196.36,165.21L196.86,165.23L197.36,165.26L197.86,165.28L198.37,165.3L198.87,165.33L199.37,165.35L199.87,165.37L200.37,165.38L200.87,165.37L201.37,165.35L201.87,165.32L202.37,165.29L202.87,165.26L203.37,165.23L203.87,165.2L204.37,165.17L204.87,165.15L205.37,165.12L205.88,165.09L206.38,165.08L206.88,165.06L207.38,165.05L207.88,165.03L208.38,165.02L208.88,164.98L209.38,164.94L209.88,164.89L210.38,164.85L210.88,164.81L211.38,164.82L211.88,164.84L212.38,164.86L212.88,164.88L213.39,164.9L213.89,164.87L214.39,164.81L214.89,164.76L215.39,164.7L215.89,164.64L216.39,164.59L216.89,164.56L217.39,164.53L217.89,164.5L218.39,164.48L218.89,164.45L219.39,164.43L219.89,164.42L220.39,164.4L220.9,164.39L221.4,164.37L221.9,164.39L222.4,164.4L222.9,164.41L223.4,164.43L223.9,164.44L224.4,164.41L224.9,164.37L225.4,164.33L225.9,164.29L226.4,164.27L226.9,164.29L227.4,164.33L227.9,164.38L228.41,164.42L228.91,164.47L229.41,164.49L229.91,164.47L230.41,164.45L230.91,164.44L231.41,164.42L231.91,164.41L232.41,164.44L232.91,164.46L233.41,164.49L233.91,164.51L234.41,164.53L234.91,164.53L235.41,164.53L235.92,164.53L236.42,164.53L236.92,164.53L237.42,164.59L237.92,164.66L238.42,164.73L238.92,164.8L239.42,164.87L239.92,164.91L240.42,164.92L240.92,164.94L241.42,164.96L241.92,164.97L242.42,164.99L242.92,164.99L243.43,165L243.93,165L244.43,165.01L244.93,165.01L245.43,165.02L245.93,165.02L246.43,165.03L246.93,165.03L247.43,165.04L247.93,165.08L248.43,165.13L248.93,165.18L249.43,165.22L249.93,165.27L250.43,165.29L250.94,165.31L251.44,165.33L251.94,165.34L252.44,165.36L252.94,165.4L253.44,165.45L253.94,165.5L254.44,165.55L254.94,165.6L255.44,165.64L255.94,165.67L256.44,165.7L256.94,165.72L257.44,165.75L257.94,165.77L258.45,165.78L258.95,165.79L259.45,165.8L259.95,165.81L260.45,165.82L260.95,165.81L261.45,165.8L261.95,165.8L262.45,165.79L262.95,165.78L263.45,165.78L263.95,165.78L264.45,165.78L264.95,165.78L265.45,165.79L265.95,165.83L266.46,165.89L266.96,165.95L267.46,166.02L267.96,166.08L268.46,166.11L268.96,166.13L269.46,166.15L269.96,166.17L270.46,166.19L270.96,166.2L271.46,166.17L271.96,166.15L272.46,166.13L272.96,166.11L273.46,166.1L273.97,166.15L274.47,166.19L274.97,166.24L275.47,166.29L275.97,166.34L276.47,166.38L276.97,166.41L277.47,166.44L277.97,166.47L278.47,166.51L278.97,166.56L279.47,166.63L279.97,166.69L280.47,166.76L280.97,166.82L281.48,166.84L281.98,166.83L282.48,166.81L282.98,166.79L283.48,166.78L283.98,166.78L284.48,166.82L284.98,166.86L285.48,166.9L285.98,166.94L286.48,166.98L286.98,167.07L287.48,167.15L287.98,167.23L288.48,167.31L288.99,167.39L289.49,167.42L289.99,167.44L290.49,167.46L290.99,167.47L291.49,167.49L291.99,167.52L292.49,167.54L292.99,167.57L293.49,167.59L293.99,167.62L294.49,167.65L294.99,167.7L295.49,167.74L295.99,167.79L296.5,167.83L297,167.86L297.5,167.87L298,167.89L298.5,167.9L299,167.9L299.5,167.91L300,167.93" fill="none" stroke="#262626" stroke-width="0.9" stroke-linejoin="round"/>
<path d="M256.2,46.8L257.47,50.66L261.28,49.25L259.05,52.65L262.54,54.75L258.49,55.12L259.02,59.16L256.2,56.22L253.38,59.16L253.91,55.12L249.86,54.75L253.35,52.65L251.12,49.25L254.93,50.66Z" fill="#0000ff"/>
<path d="M272.4,35.2L273.79,39.4L278.12,38.5L275.17,41.8L278.12,45.1L273.79,44.2L272.4,48.4L271.01,44.2L266.68,45.1L269.63,41.8L266.68,38.5L271.01,39.4Z" fill="#0000ff"/>
<path d="M279.7,26L281.33,30.36L285.98,30.56L282.34,33.46L283.58,37.94L279.7,35.37L275.82,37.94L277.06,33.46L273.42,30.56L278.07,30.36Z" fill="#0000ff"/>
<path d="M297.6,30.6Q298.96,36.04 304.4,37.4Q298.96,38.76 297.6,44.2Q296.24,38.76 290.8,37.4Q296.24,36.04 297.6,30.6Z" fill="#0000ff"/>
<path d="M310.91,55.12L320.49,55.12L315.7,64.69Z" fill="#0000ff"/>
<path d="M35.3,106.6V183.5 H342 L365.6,73.7" stroke="#000" stroke-width="2.4" fill="none" stroke-linejoin="miter"/>
<path d="M44.1,183.5V180M80.18,183.5V180M116.26,183.5V180M152.34,183.5V180M188.42,183.5V180M224.5,183.5V180M260.58,183.5V180M296.66,183.5V180M332.74,183.5V180" stroke="#000" stroke-width="1.2"/>
<text transform="translate(44.1 206.8) scale(1 1.1)" font-family="Liberation Sans, sans-serif" font-weight="bold" font-size="21.3" text-anchor="middle">400</text>
<text transform="translate(116.26 206.8) scale(1 1.1)" font-family="Liberation Sans, sans-serif" font-weight="bold" font-size="21.3" text-anchor="middle">800</text>
<text transform="translate(188.42 206.8) scale(1 1.1)" font-family="Liberation Sans, sans-serif" font-weight="bold" font-size="21.3" text-anchor="middle">1200</text>
<text transform="translate(260.58 206.8) scale(1 1.1)" font-family="Liberation Sans, sans-serif" font-weight="bold" font-size="21.3" text-anchor="middle">1600</text>
<text transform="translate(332.74 206.8) scale(1 1.1)" font-family="Liberation Sans, sans-serif" font-weight="bold" font-size="21.3" text-anchor="middle">2000</text>
<text transform="translate(347 90.3) scale(1 1.1)" font-family="Liberation Sans, sans-serif" font-weight="bold" font-size="18.5" text-anchor="middle">0</text>
<text transform="translate(321.5 179) scale(1 1.1)" font-family="Liberation Sans, sans-serif" font-weight="bold" font-size="18.5" text-anchor="middle">6</text>
<defs><linearGradient id="ga0" gradientUnits="userSpaceOnUse" x1="342.3" y1="95" x2="326.4" y2="161.1"><stop offset="0" stop-color="#e9f6ee"/><stop offset="0.35" stop-color="#b5dcea"/><stop offset="0.7" stop-color="#6fa8f4"/><stop offset="1" stop-color="#5b97fb"/></linearGradient></defs>
<path d="M337.41,102.05L325.72,150.65L321.45,149.62L326.4,161.1L336.03,153.13L331.75,152.1L343.44,103.5Z" fill="url(#ga0)"/>
<path d="M339.01,95.44L338.58,97.19L344.61,98.64L345.03,96.89Z" fill="#e8f4df"/>
<path d="M338.35,98.16L337.6,101.28L343.63,102.73L344.38,99.61Z" fill="#e2f1e4"/>
<text x="92.8" y="241.1" font-family="Liberation Sans, sans-serif" font-weight="bold" font-size="23">Raman shift (cm<tspan font-size="12.5" dx="1.5" dy="-11">-1</tspan><tspan dx="2.5" dy="11">)</tspan></text>
<path d="M410.3,108.8L528.8,23.3L528.8,75.9L410.3,185.7Z" fill="#e3f5f5"/>
<rect x="528.8" y="23.3" width="211.8" height="52.6" fill="#fffee0"/>
<path d="M410.3,185.7L717,185.7L740.6,75.9L528.8,75.9Z" fill="#efefef"/>
<path d="M528.8,36.45H740.6M528.8,49.6H740.6M528.8,62.75H740.6M581.75,23.3V75.9M634.7,23.3V75.9M687.65,23.3V75.9" stroke="#f0eecb" stroke-width="0.7" fill="none"/>
<path d="M434,91.7L434,163.74M457.7,74.6L457.7,141.78M481.4,57.5L481.4,119.82M505.1,40.4L505.1,97.86M410.3,128.03L528.8,36.45M410.3,147.25L528.8,49.6M410.3,166.47L528.8,62.75" stroke="#d9eded" stroke-width="0.6" fill="none"/>
<path d="M448.64,185.7L555.27,75.9M486.98,185.7L581.75,75.9M525.31,185.7L608.23,75.9M563.65,185.7L634.7,75.9M601.99,185.7L661.17,75.9M640.33,185.7L687.65,75.9M678.66,185.7L714.12,75.9" stroke="#e8e8e8" stroke-width="0.6" fill="none"/>
<path d="M410.3,108.8L528.8,23.3H740.6 M528.8,23.3V75.9" stroke="#a9b4b4" stroke-width="0.8" fill="none"/>
<path d="M410.3,185.7L528.8,75.9" stroke="#c8d0d0" stroke-width="0.7" fill="none"/>
<text x="450.4" y="103.6" transform="rotate(-36 450.4 103.6)" font-family="Liberation Sans, sans-serif" font-weight="bold" font-size="18.7" fill="#ff0000">R-TENG</text>
<text x="533.9" y="39.3" font-family="Liberation Sans, sans-serif" font-weight="bold" font-size="18">Unit: min</text>
<path d="M543.8,79.4L543.8,65.58L544.3,65.73L544.8,65.89L545.3,66.06L545.8,66.23L546.3,66.41L546.8,66.49L547.3,66.54L547.8,66.59L548.3,66.64L548.8,66.69L549.3,66.72L549.8,66.74L550.3,66.75L550.8,66.75L551.3,66.75L551.8,66.74L552.3,66.74L552.8,66.75L553.3,66.77L553.8,66.79L554.3,66.85L554.8,67.06L555.3,67.25L555.8,67.42L556.3,67.56L556.8,67.68L557.3,67.62L557.8,67.43L558.3,67.05L558.8,66.41L559.3,65.55L559.8,64.6L560.3,63.97L560.8,64.03L561.3,64.75L561.8,65.76L562.3,66.75L562.8,67.52L563.3,68.05L563.8,68.38L564.3,68.61L564.8,68.76L565.3,68.86L565.8,68.95L566.3,69.04L566.8,69.13L567.3,69.22L567.8,69.31L568.3,69.4L568.8,69.47L569.3,69.53L569.8,69.58L570.3,69.75L570.8,69.9L571.3,70.01L571.8,70.12L572.3,70.24L572.8,70.33L573.3,70.41L573.8,70.5L574.3,70.58L574.8,70.67L575.3,70.65L575.8,70.56L576.3,70.44L576.8,70.29L577.3,70.05L577.8,69.76L578.3,69.41L578.8,68.81L579.3,68.04L579.8,67.36L580.3,67.11L580.8,67.35L581.3,68.12L581.8,69.02L582.3,69.78L582.8,70.28L583.3,70.67L583.8,70.88L584.3,70.99L584.8,71.06L585.3,71.11L585.8,71.11L586.3,71.11L586.8,71.1L587.3,71.09L587.8,71.08L588.3,71.23L588.8,71.48L589.3,71.74L589.8,71.99L590.3,72.24L590.8,72.38L591.3,72.35L591.8,72.32L592.3,72.29L592.8,72.26L593.3,72.25L593.8,72.3L594.3,72.36L594.8,72.41L595.3,72.46L595.8,72.51L596.3,72.46L596.8,72.42L597.3,72.38L597.8,72.33L598.3,72.3L598.8,72.2L599.3,72.09L599.8,71.98L600.3,71.87L600.8,71.77L601.3,71.78L601.8,71.88L602.3,71.98L602.8,72.08L603.3,72.18L603.8,72.27L604.3,72.34L604.8,72.42L605.3,72.49L605.8,72.56L606.3,72.61L606.8,72.56L607.3,72.51L607.8,72.46L608.3,72.41L608.8,72.35L609.3,72.58L609.8,72.81L610.3,73.04L610.8,73.27L611.3,73.5L611.8,73.46L612.3,73.36L612.8,73.26L613.3,73.15L613.8,73.05L614.3,73L614.8,72.98L615.3,72.96L615.8,72.93L616.3,72.91L616.8,72.96L617.3,73.14L617.8,73.31L618.3,73.49L618.8,73.66L619.3,73.76L619.8,73.62L620.3,73.45L620.8,73.28L621.3,73.1L621.8,72.92L622.3,73.08L622.8,73.24L623.3,73.4L623.8,73.55L624.3,73.71L624.8,73.62L625.3,73.48L625.8,73.33L626.3,73.18L626.8,73.03L627.3,72.95L627.8,72.91L628.3,72.86L628.8,72.77L629.3,72.61L629.8,72.27L630.3,71.69L630.8,70.89L631.3,69.95L631.8,69.1L632.3,68.7L632.8,68.99L633.3,69.74L633.8,70.59L634.3,71.32L634.8,71.82L635.3,72.02L635.8,72.08L636.3,72.06L636.8,71.99L637.3,71.91L637.8,71.85L638.3,71.79L638.8,71.73L639.3,71.66L639.8,71.59L640.3,71.64L640.8,71.78L641.3,71.91L641.8,72.02L642.3,72.1L642.8,72.02L643.3,71.67L643.8,71.19L644.3,70.53L644.8,69.56L645.3,68.26L645.8,66.7L646.3,64.71L646.8,62.44L647.3,60.23L647.8,58.57L648.3,57.73L648.8,58.2L649.3,59.68L649.8,61.62L650.3,63.47L650.8,65.08L651.3,66.01L651.8,66.05L652.3,65.18L652.8,63.5L653.3,61.13L653.8,58.52L654.3,56.32L654.8,55.2L655.3,55.59L655.8,57.34L656.3,59.86L656.8,62.55L657.3,64.99L657.8,66.94L658.3,68.35L658.8,69.31L659.3,69.9L659.8,70.24L660.3,70.44L660.8,70.54L661.3,70.56L661.8,70.56L662.3,70.54L662.8,70.5L663.3,70.45L663.8,70.45L664.3,70.46L664.8,70.45L665.3,70.44L665.8,70.41L666.3,70.25L666.8,70L667.3,69.71L667.8,69.34L668.3,68.85L668.8,68.24L669.3,67.47L669.8,66.3L670.3,64.63L670.8,62.45L671.3,59.82L671.8,56.99L672.3,54.32L672.8,52.35L673.3,51.62L673.8,52.37L674.3,54.16L674.8,56.68L675.3,59.39L675.8,61.91L676.3,64.01L676.8,65.83L677.3,67.23L677.8,68.22L678.3,68.91L678.8,69.43L679.3,69.76L679.8,69.97L680.3,70.15L680.8,70.32L681.3,70.47L681.8,70.59L682.3,70.63L682.8,70.68L683.3,70.71L683.8,70.74L684.3,70.78L684.8,70.89L685.3,70.98L685.8,71.05L686.3,71.1L686.8,71.14L687.3,71.21L687.8,71.27L688.3,71.24L688.8,71.05L689.3,70.61L689.8,69.87L690.3,68.94L690.8,68.13L691.3,67.87L691.8,68.41L692.3,69.61L692.8,71.02L693.3,72.25L693.8,73.19L694.3,73.83L694.8,74.15L695.3,74.17L695.8,74.14L696.3,74.1L696.8,74.06L697.3,74.02L697.8,74.04L698.3,74.06L698.8,74.08L699.3,74.1L699.8,74.13L700.3,74.25L700.8,74.38L701.3,74.51L701.8,74.63L702.3,74.75L702.8,74.98L703.3,75.23L703.8,75.47L704.3,75.71L704.8,75.95L705.3,76.13L705.8,76.27L706.3,76.41L706.8,76.54L707.3,76.66L707.8,76.7L707.8,79.4Z" fill="#ff6a00"/>
<path d="M543.8,65.58L544.3,65.73L544.8,65.89L545.3,66.06L545.8,66.23L546.3,66.41L546.8,66.49L547.3,66.54L547.8,66.59L548.3,66.64L548.8,66.69L549.3,66.72L549.8,66.74L550.3,66.75L550.8,66.75L551.3,66.75L551.8,66.74L552.3,66.74L552.8,66.75L553.3,66.77L553.8,66.79L554.3,66.85L554.8,67.06L555.3,67.25L555.8,67.42L556.3,67.56L556.8,67.68L557.3,67.62L557.8,67.43L558.3,67.05L558.8,66.41L559.3,65.55L559.8,64.6L560.3,63.97L560.8,64.03L561.3,64.75L561.8,65.76L562.3,66.75L562.8,67.52L563.3,68.05L563.8,68.38L564.3,68.61L564.8,68.76L565.3,68.86L565.8,68.95L566.3,69.04L566.8,69.13L567.3,69.22L567.8,69.31L568.3,69.4L568.8,69.47L569.3,69.53L569.8,69.58L570.3,69.75L570.8,69.9L571.3,70.01L571.8,70.12L572.3,70.24L572.8,70.33L573.3,70.41L573.8,70.5L574.3,70.58L574.8,70.67L575.3,70.65L575.8,70.56L576.3,70.44L576.8,70.29L577.3,70.05L577.8,69.76L578.3,69.41L578.8,68.81L579.3,68.04L579.8,67.36L580.3,67.11L580.8,67.35L581.3,68.12L581.8,69.02L582.3,69.78L582.8,70.28L583.3,70.67L583.8,70.88L584.3,70.99L584.8,71.06L585.3,71.11L585.8,71.11L586.3,71.11L586.8,71.1L587.3,71.09L587.8,71.08L588.3,71.23L588.8,71.48L589.3,71.74L589.8,71.99L590.3,72.24L590.8,72.38L591.3,72.35L591.8,72.32L592.3,72.29L592.8,72.26L593.3,72.25L593.8,72.3L594.3,72.36L594.8,72.41L595.3,72.46L595.8,72.51L596.3,72.46L596.8,72.42L597.3,72.38L597.8,72.33L598.3,72.3L598.8,72.2L599.3,72.09L599.8,71.98L600.3,71.87L600.8,71.77L601.3,71.78L601.8,71.88L602.3,71.98L602.8,72.08L603.3,72.18L603.8,72.27L604.3,72.34L604.8,72.42L605.3,72.49L605.8,72.56L606.3,72.61L606.8,72.56L607.3,72.51L607.8,72.46L608.3,72.41L608.8,72.35L609.3,72.58L609.8,72.81L610.3,73.04L610.8,73.27L611.3,73.5L611.8,73.46L612.3,73.36L612.8,73.26L613.3,73.15L613.8,73.05L614.3,73L614.8,72.98L615.3,72.96L615.8,72.93L616.3,72.91L616.8,72.96L617.3,73.14L617.8,73.31L618.3,73.49L618.8,73.66L619.3,73.76L619.8,73.62L620.3,73.45L620.8,73.28L621.3,73.1L621.8,72.92L622.3,73.08L622.8,73.24L623.3,73.4L623.8,73.55L624.3,73.71L624.8,73.62L625.3,73.48L625.8,73.33L626.3,73.18L626.8,73.03L627.3,72.95L627.8,72.91L628.3,72.86L628.8,72.77L629.3,72.61L629.8,72.27L630.3,71.69L630.8,70.89L631.3,69.95L631.8,69.1L632.3,68.7L632.8,68.99L633.3,69.74L633.8,70.59L634.3,71.32L634.8,71.82L635.3,72.02L635.8,72.08L636.3,72.06L636.8,71.99L637.3,71.91L637.8,71.85L638.3,71.79L638.8,71.73L639.3,71.66L639.8,71.59L640.3,71.64L640.8,71.78L641.3,71.91L641.8,72.02L642.3,72.1L642.8,72.02L643.3,71.67L643.8,71.19L644.3,70.53L644.8,69.56L645.3,68.26L645.8,66.7L646.3,64.71L646.8,62.44L647.3,60.23L647.8,58.57L648.3,57.73L648.8,58.2L649.3,59.68L649.8,61.62L650.3,63.47L650.8,65.08L651.3,66.01L651.8,66.05L652.3,65.18L652.8,63.5L653.3,61.13L653.8,58.52L654.3,56.32L654.8,55.2L655.3,55.59L655.8,57.34L656.3,59.86L656.8,62.55L657.3,64.99L657.8,66.94L658.3,68.35L658.8,69.31L659.3,69.9L659.8,70.24L660.3,70.44L660.8,70.54L661.3,70.56L661.8,70.56L662.3,70.54L662.8,70.5L663.3,70.45L663.8,70.45L664.3,70.46L664.8,70.45L665.3,70.44L665.8,70.41L666.3,70.25L666.8,70L667.3,69.71L667.8,69.34L668.3,68.85L668.8,68.24L669.3,67.47L669.8,66.3L670.3,64.63L670.8,62.45L671.3,59.82L671.8,56.99L672.3,54.32L672.8,52.35L673.3,51.62L673.8,52.37L674.3,54.16L674.8,56.68L675.3,59.39L675.8,61.91L676.3,64.01L676.8,65.83L677.3,67.23L677.8,68.22L678.3,68.91L678.8,69.43L679.3,69.76L679.8,69.97L680.3,70.15L680.8,70.32L681.3,70.47L681.8,70.59L682.3,70.63L682.8,70.68L683.3,70.71L683.8,70.74L684.3,70.78L684.8,70.89L685.3,70.98L685.8,71.05L686.3,71.1L686.8,71.14L687.3,71.21L687.8,71.27L688.3,71.24L688.8,71.05L689.3,70.61L689.8,69.87L690.3,68.94L690.8,68.13L691.3,67.87L691.8,68.41L692.3,69.61L692.8,71.02L693.3,72.25L693.8,73.19L694.3,73.83L694.8,74.15L695.3,74.17L695.8,74.14L696.3,74.1L696.8,74.06L697.3,74.02L697.8,74.04L698.3,74.06L698.8,74.08L699.3,74.1L699.8,74.13L700.3,74.25L700.8,74.38L701.3,74.51L701.8,74.63L702.3,74.75L702.8,74.98L703.3,75.23L703.8,75.47L704.3,75.71L704.8,75.95L705.3,76.13L705.8,76.27L706.3,76.41L706.8,76.54L707.3,76.66L707.8,76.7" fill="none" stroke="#262626" stroke-width="0.9" stroke-linejoin="round"/>
<path d="M535.7,87.4L535.7,72.92L536.2,72.75L536.7,72.6L537.2,72.45L537.7,72.31L538.21,72.18L538.71,72.18L539.21,72.21L539.71,72.24L540.21,72.26L540.71,72.28L541.21,72.46L541.71,72.72L542.22,72.98L542.72,73.31L543.22,73.68L543.72,73.9L544.22,73.89L544.72,73.9L545.22,73.92L545.72,73.93L546.22,73.97L546.73,74.11L547.23,74.23L547.73,74.32L548.23,74.32L548.73,74.27L549.23,74.31L549.73,74.24L550.23,73.95L550.74,73.3L551.24,72.16L551.74,70.43L552.24,68.54L552.74,67.18L553.24,67.03L553.74,68.17L554.24,70.1L554.74,72.05L555.25,73.59L555.75,74.64L556.25,75.29L556.75,75.57L557.25,75.6L557.75,75.57L558.25,75.53L558.75,75.48L559.26,75.52L559.76,75.78L560.26,76.04L560.76,76.3L561.26,76.55L561.76,76.76L562.26,76.68L562.76,76.6L563.26,76.5L563.77,76.4L564.27,76.28L564.77,76.34L565.27,76.42L565.77,76.5L566.27,76.59L566.77,76.67L567.27,76.76L567.78,76.84L568.28,76.93L568.78,77L569.28,77.05L569.78,76.97L570.28,76.71L570.78,76.23L571.28,75.38L571.78,74.05L572.29,72.35L572.79,70.64L573.29,69.49L573.79,69.56L574.29,70.87L574.79,72.72L575.29,74.42L575.79,75.7L576.3,76.51L576.8,76.96L577.3,77.18L577.8,77.18L578.3,77.13L578.8,77.06L579.3,76.98L579.8,76.89L580.31,77.09L580.81,77.34L581.31,77.6L581.81,77.86L582.31,78.11L582.81,78.21L583.31,78.2L583.81,78.2L584.31,78.19L584.82,78.19L585.32,78.19L585.82,78.19L586.32,78.18L586.82,78.18L587.32,78.18L587.82,78.18L588.32,78.21L588.83,78.24L589.33,78.27L589.83,78.3L590.33,78.33L590.83,78.53L591.33,78.73L591.83,78.93L592.33,79.13L592.83,79.32L593.34,79.32L593.84,79.29L594.34,79.26L594.84,79.23L595.34,79.17L595.84,79.21L596.34,79.3L596.84,79.38L597.35,79.47L597.85,79.56L598.35,79.58L598.85,79.55L599.35,79.52L599.85,79.49L600.35,79.46L600.85,79.45L601.35,79.5L601.86,79.55L602.36,79.6L602.86,79.65L603.36,79.68L603.86,79.6L604.36,79.51L604.86,79.42L605.36,79.34L605.87,79.25L606.37,79.28L606.87,79.32L607.37,79.35L607.87,79.39L608.37,79.42L608.87,79.42L609.37,79.4L609.87,79.39L610.38,79.37L610.88,79.35L611.38,79.3L611.88,79.22L612.38,79.13L612.88,79.04L613.38,78.95L613.88,78.95L614.39,79.11L614.89,79.26L615.39,79.41L615.89,79.56L616.39,79.65L616.89,79.49L617.39,79.33L617.89,79.16L618.39,79L618.9,78.83L619.4,78.92L619.9,79.01L620.4,79.09L620.9,79.17L621.4,79.25L621.9,79.27L622.4,79.26L622.91,79.24L623.41,79.18L623.91,79.04L624.41,78.67L624.91,77.96L625.41,76.83L625.91,75.25L626.41,73.41L626.91,71.77L627.42,71.03L627.92,71.59L628.42,73.02L628.92,74.64L629.42,76.04L629.92,77.19L630.42,77.92L630.92,78.37L631.43,78.67L631.93,78.87L632.43,78.86L632.93,78.82L633.43,78.78L633.93,78.73L634.43,78.67L634.93,78.54L635.43,78.39L635.94,78.22L636.44,78.05L636.94,77.86L637.44,77.7L637.94,77.54L638.44,77.32L638.94,77.01L639.44,76.52L639.95,75.81L640.45,74.74L640.95,73.08L641.45,70.72L641.95,67.71L642.45,64.2L642.95,60.61L643.45,57.84L643.95,56.69L644.46,57.49L644.96,59.87L645.46,63.22L645.96,66.48L646.46,69.02L646.96,70.47L647.46,70.58L647.96,68.97L648.47,65.97L648.97,61.86L649.47,57.17L649.97,52.75L650.47,49.81L650.97,49.32L651.47,51.47L651.97,55.49L652.47,60.28L652.98,64.89L653.48,68.78L653.98,71.72L654.48,73.75L654.98,75.04L655.48,75.83L655.98,76.35L656.48,76.67L656.99,76.89L657.49,77.04L657.99,77.17L658.49,77.27L658.99,77.35L659.49,77.42L659.99,77.47L660.49,77.54L660.99,77.41L661.5,77.25L662,77.09L662.5,76.9L663,76.68L663.5,76.54L664,76.34L664.5,75.99L665,75.39L665.51,74.4L666.01,72.84L666.51,70.54L667.01,67.34L667.51,63.25L668.01,58.47L668.51,53.45L669.01,48.92L669.52,45.94L670.02,45.35L670.52,47.34L671.02,51.33L671.52,56.38L672.02,61.53L672.52,66.17L673.02,69.97L673.52,72.86L674.03,74.84L674.53,76.15L675.03,76.99L675.53,77.53L676.03,77.87L676.53,78.1L677.03,78.26L677.53,78.38L678.04,78.47L678.54,78.55L679.04,78.67L679.54,78.81L680.04,78.93L680.54,79.05L681.04,79.16L681.54,79.22L682.04,79.22L682.55,79.21L683.05,79.2L683.55,79.19L684.05,79.21L684.55,79.16L685.05,79.07L685.55,78.82L686.05,78.31L686.56,77.43L687.06,76.39L687.56,75.12L688.06,74.07L688.56,73.91L689.06,74.98L689.56,76.52L690.06,78.18L690.56,79.53L691.07,80.41L691.57,80.9L692.07,81.25L692.57,81.51L693.07,81.7L693.57,81.87L694.07,82.03L694.57,82.18L695.08,82.31L695.58,82.44L696.08,82.58L696.58,82.72L697.08,82.9L697.58,83.16L698.08,83.43L698.58,83.69L699.08,83.95L699.59,84.19L700.09,84.33L700.59,84.47L701.09,84.6L701.59,84.73L702.09,84.85L702.59,84.86L703.09,84.87L703.6,84.86L704.1,84.85L704.6,84.83L705.1,84.86L705.6,84.89L705.6,87.4Z" fill="#8c8b00"/>
<path d="M535.7,72.92L536.2,72.75L536.7,72.6L537.2,72.45L537.7,72.31L538.21,72.18L538.71,72.18L539.21,72.21L539.71,72.24L540.21,72.26L540.71,72.28L541.21,72.46L541.71,72.72L542.22,72.98L542.72,73.31L543.22,73.68L543.72,73.9L544.22,73.89L544.72,73.9L545.22,73.92L545.72,73.93L546.22,73.97L546.73,74.11L547.23,74.23L547.73,74.32L548.23,74.32L548.73,74.27L549.23,74.31L549.73,74.24L550.23,73.95L550.74,73.3L551.24,72.16L551.74,70.43L552.24,68.54L552.74,67.18L553.24,67.03L553.74,68.17L554.24,70.1L554.74,72.05L555.25,73.59L555.75,74.64L556.25,75.29L556.75,75.57L557.25,75.6L557.75,75.57L558.25,75.53L558.75,75.48L559.26,75.52L559.76,75.78L560.26,76.04L560.76,76.3L561.26,76.55L561.76,76.76L562.26,76.68L562.76,76.6L563.26,76.5L563.77,76.4L564.27,76.28L564.77,76.34L565.27,76.42L565.77,76.5L566.27,76.59L566.77,76.67L567.27,76.76L567.78,76.84L568.28,76.93L568.78,77L569.28,77.05L569.78,76.97L570.28,76.71L570.78,76.23L571.28,75.38L571.78,74.05L572.29,72.35L572.79,70.64L573.29,69.49L573.79,69.56L574.29,70.87L574.79,72.72L575.29,74.42L575.79,75.7L576.3,76.51L576.8,76.96L577.3,77.18L577.8,77.18L578.3,77.13L578.8,77.06L579.3,76.98L579.8,76.89L580.31,77.09L580.81,77.34L581.31,77.6L581.81,77.86L582.31,78.11L582.81,78.21L583.31,78.2L583.81,78.2L584.31,78.19L584.82,78.19L585.32,78.19L585.82,78.19L586.32,78.18L586.82,78.18L587.32,78.18L587.82,78.18L588.32,78.21L588.83,78.24L589.33,78.27L589.83,78.3L590.33,78.33L590.83,78.53L591.33,78.73L591.83,78.93L592.33,79.13L592.83,79.32L593.34,79.32L593.84,79.29L594.34,79.26L594.84,79.23L595.34,79.17L595.84,79.21L596.34,79.3L596.84,79.38L597.35,79.47L597.85,79.56L598.35,79.58L598.85,79.55L599.35,79.52L599.85,79.49L600.35,79.46L600.85,79.45L601.35,79.5L601.86,79.55L602.36,79.6L602.86,79.65L603.36,79.68L603.86,79.6L604.36,79.51L604.86,79.42L605.36,79.34L605.87,79.25L606.37,79.28L606.87,79.32L607.37,79.35L607.87,79.39L608.37,79.42L608.87,79.42L609.37,79.4L609.87,79.39L610.38,79.37L610.88,79.35L611.38,79.3L611.88,79.22L612.38,79.13L612.88,79.04L613.38,78.95L613.88,78.95L614.39,79.11L614.89,79.26L615.39,79.41L615.89,79.56L616.39,79.65L616.89,79.49L617.39,79.33L617.89,79.16L618.39,79L618.9,78.83L619.4,78.92L619.9,79.01L620.4,79.09L620.9,79.17L621.4,79.25L621.9,79.27L622.4,79.26L622.91,79.24L623.41,79.18L623.91,79.04L624.41,78.67L624.91,77.96L625.41,76.83L625.91,75.25L626.41,73.41L626.91,71.77L627.42,71.03L627.92,71.59L628.42,73.02L628.92,74.64L629.42,76.04L629.92,77.19L630.42,77.92L630.92,78.37L631.43,78.67L631.93,78.87L632.43,78.86L632.93,78.82L633.43,78.78L633.93,78.73L634.43,78.67L634.93,78.54L635.43,78.39L635.94,78.22L636.44,78.05L636.94,77.86L637.44,77.7L637.94,77.54L638.44,77.32L638.94,77.01L639.44,76.52L639.95,75.81L640.45,74.74L640.95,73.08L641.45,70.72L641.95,67.71L642.45,64.2L642.95,60.61L643.45,57.84L643.95,56.69L644.46,57.49L644.96,59.87L645.46,63.22L645.96,66.48L646.46,69.02L646.96,70.47L647.46,70.58L647.96,68.97L648.47,65.97L648.97,61.86L649.47,57.17L649.97,52.75L650.47,49.81L650.97,49.32L651.47,51.47L651.97,55.49L652.47,60.28L652.98,64.89L653.48,68.78L653.98,71.72L654.48,73.75L654.98,75.04L655.48,75.83L655.98,76.35L656.48,76.67L656.99,76.89L657.49,77.04L657.99,77.17L658.49,77.27L658.99,77.35L659.49,77.42L659.99,77.47L660.49,77.54L660.99,77.41L661.5,77.25L662,77.09L662.5,76.9L663,76.68L663.5,76.54L664,76.34L664.5,75.99L665,75.39L665.51,74.4L666.01,72.84L666.51,70.54L667.01,67.34L667.51,63.25L668.01,58.47L668.51,53.45L669.01,48.92L669.52,45.94L670.02,45.35L670.52,47.34L671.02,51.33L671.52,56.38L672.02,61.53L672.52,66.17L673.02,69.97L673.52,72.86L674.03,74.84L674.53,76.15L675.03,76.99L675.53,77.53L676.03,77.87L676.53,78.1L677.03,78.26L677.53,78.38L678.04,78.47L678.54,78.55L679.04,78.67L679.54,78.81L680.04,78.93L680.54,79.05L681.04,79.16L681.54,79.22L682.04,79.22L682.55,79.21L683.05,79.2L683.55,79.19L684.05,79.21L684.55,79.16L685.05,79.07L685.55,78.82L686.05,78.31L686.56,77.43L687.06,76.39L687.56,75.12L688.06,74.07L688.56,73.91L689.06,74.98L689.56,76.52L690.06,78.18L690.56,79.53L691.07,80.41L691.57,80.9L692.07,81.25L692.57,81.51L693.07,81.7L693.57,81.87L694.07,82.03L694.57,82.18L695.08,82.31L695.58,82.44L696.08,82.58L696.58,82.72L697.08,82.9L697.58,83.16L698.08,83.43L698.58,83.69L699.08,83.95L699.59,84.19L700.09,84.33L700.59,84.47L701.09,84.6L701.59,84.73L702.09,84.85L702.59,84.86L703.09,84.87L703.6,84.86L704.1,84.85L704.6,84.83L705.1,84.86L705.6,84.89" fill="none" stroke="#262626" stroke-width="0.9" stroke-linejoin="round"/>
<path d="M527.3,96.1L527.3,79.57L527.8,79.57L528.3,79.57L528.8,79.56L529.3,79.56L529.8,79.55L530.31,79.53L530.81,79.5L531.31,79.47L531.81,79.45L532.31,79.42L532.81,79.29L533.31,79.09L533.81,78.96L534.31,78.85L534.81,78.76L535.31,78.82L535.81,79.06L536.32,79.31L536.82,79.55L537.32,79.8L537.82,80L538.32,80.06L538.82,80.11L539.32,80.14L539.82,80.14L540.32,80.13L540.82,80.19L541.32,80.22L541.82,80.12L542.33,79.74L542.83,78.87L543.33,77.23L543.83,74.93L544.33,72.37L544.83,70.42L545.33,70.1L545.83,71.76L546.33,74.5L546.83,77.26L547.33,79.45L547.84,80.88L548.34,81.75L548.84,82.27L549.34,82.6L549.84,82.85L550.34,83.05L550.84,83.21L551.34,83.29L551.84,83.36L552.34,83.42L552.84,83.47L553.34,83.53L553.85,83.68L554.35,83.81L554.85,83.94L555.35,84.06L555.85,84.16L556.35,84.11L556.85,84.04L557.35,83.97L557.85,83.91L558.35,83.84L558.85,83.86L559.35,83.91L559.86,83.96L560.36,84.01L560.86,84.05L561.36,84.14L561.86,84.27L562.36,84.36L562.86,84.32L563.36,84.03L563.86,83.23L564.36,81.66L564.86,79.41L565.37,76.77L565.87,74.47L566.37,73.57L566.87,74.68L567.37,77.1L567.87,79.78L568.37,82.03L568.87,83.59L569.37,84.56L569.87,85.1L570.37,85.42L570.87,85.62L571.38,85.78L571.88,85.81L572.38,85.8L572.88,85.78L573.38,85.76L573.88,85.73L574.38,85.71L574.88,85.7L575.38,85.69L575.88,85.68L576.38,85.66L576.88,85.73L577.39,85.96L577.89,86.18L578.39,86.4L578.89,86.62L579.39,86.8L579.89,86.81L580.39,86.81L580.89,86.81L581.39,86.82L581.89,86.82L582.39,86.87L582.9,86.93L583.4,86.99L583.9,87.04L584.4,87.09L584.9,87.12L585.4,87.14L585.9,87.16L586.4,87.18L586.9,87.19L587.4,87.25L587.9,87.36L588.4,87.46L588.91,87.57L589.41,87.68L589.91,87.7L590.41,87.59L590.91,87.48L591.41,87.38L591.91,87.27L592.41,87.22L592.91,87.35L593.41,87.49L593.91,87.62L594.41,87.75L594.92,87.88L595.42,87.83L595.92,87.78L596.42,87.73L596.92,87.69L597.42,87.64L597.92,87.7L598.42,87.79L598.92,87.88L599.42,87.97L599.92,88.05L600.43,88.12L600.93,88.17L601.43,88.23L601.93,88.28L602.43,88.33L602.93,88.33L603.43,88.28L603.93,88.23L604.43,88.17L604.93,88.11L605.43,88.05L605.93,88L606.44,87.94L606.94,87.87L607.44,87.81L607.94,87.76L608.44,87.84L608.94,87.92L609.44,87.99L609.94,88.07L610.44,88.14L610.94,88.19L611.44,88.23L611.94,88.26L612.45,88.3L612.95,88.34L613.45,88.31L613.95,88.25L614.45,88.2L614.95,88.13L615.45,88.07L615.95,87.99L616.45,87.91L616.95,87.81L617.45,87.69L617.96,87.52L618.46,87.25L618.96,86.8L619.46,85.93L619.96,84.45L620.46,82.36L620.96,79.9L621.46,77.69L621.96,76.83L622.46,77.77L622.96,79.88L623.46,82.19L623.97,84.17L624.47,85.52L624.97,86.3L625.47,86.7L625.97,86.88L626.47,86.99L626.97,87.05L627.47,87.1L627.97,87.13L628.47,87.15L628.97,87.21L629.47,87.29L629.98,87.37L630.48,87.43L630.98,87.48L631.48,87.42L631.98,87.18L632.48,86.91L632.98,86.6L633.48,86.22L633.98,85.74L634.48,85.14L634.98,84.16L635.49,82.62L635.99,80.3L636.49,77.09L636.99,73.03L637.49,68.43L637.99,63.92L638.49,60.47L638.99,59.12L639.49,60.31L639.99,63.52L640.49,67.68L640.99,71.76L641.5,75.02L642,77.02L642.5,77.47L643,76.2L643.5,73.24L644,68.78L644.5,63.3L645,57.67L645.5,53.14L646,51.12L646.5,52.42L647,56.6L647.51,62.33L648.01,68.33L648.51,73.71L649.01,78L649.51,81.11L650.01,83.02L650.51,84.16L651.01,84.78L651.51,85.1L652.01,85.24L652.51,85.39L653.02,85.5L653.52,85.58L654.02,85.63L654.52,85.67L655.02,85.68L655.52,85.69L656.02,85.69L656.52,85.67L657.02,85.64L657.52,85.61L658.02,85.57L658.52,85.5L659.03,85.38L659.53,85.19L660.03,84.9L660.53,84.46L661.03,83.65L661.53,82.28L662.03,80.1L662.53,76.88L663.03,72.36L663.53,66.76L664.03,60.46L664.53,54.17L665.04,48.97L665.54,46.07L666.04,46.39L666.54,49.81L667.04,55.32L667.54,61.67L668.04,67.89L668.54,73.32L669.04,77.63L669.54,80.81L670.04,82.99L670.55,84.51L671.05,85.6L671.55,86.36L672.05,86.91L672.55,87.35L673.05,87.67L673.55,87.82L674.05,87.95L674.55,88.05L675.05,88.15L675.55,88.23L676.05,88.34L676.56,88.45L677.06,88.54L677.56,88.63L678.06,88.7L678.56,88.62L679.06,88.51L679.56,88.39L680.06,88.26L680.56,88.15L681.06,88.19L681.56,88.2L682.06,88.02L682.57,87.47L683.07,86.39L683.57,84.79L684.07,82.94L684.57,81.46L685.07,81.21L685.57,82.52L686.07,84.73L686.57,86.94L687.07,88.72L687.57,89.9L688.08,90.56L688.58,90.92L689.08,91.25L689.58,91.49L690.08,91.71L690.58,91.91L691.08,92.1L691.58,92.05L692.08,91.98L692.58,91.91L693.08,91.84L693.58,91.77L694.09,91.98L694.59,92.28L695.09,92.57L695.59,92.87L696.09,93.16L696.59,93.22L697.09,93.11L697.59,92.99L698.09,92.88L698.59,92.76L699.09,92.75L699.59,92.91L700.1,93.08L700.6,93.23L701.1,93.38L701.6,93.49L702.1,93.46L702.6,93.41L702.6,96.1Z" fill="#7c4f4f"/>
<path d="M527.3,79.57L527.8,79.57L528.3,79.57L528.8,79.56L529.3,79.56L529.8,79.55L530.31,79.53L530.81,79.5L531.31,79.47L531.81,79.45L532.31,79.42L532.81,79.29L533.31,79.09L533.81,78.96L534.31,78.85L534.81,78.76L535.31,78.82L535.81,79.06L536.32,79.31L536.82,79.55L537.32,79.8L537.82,80L538.32,80.06L538.82,80.11L539.32,80.14L539.82,80.14L540.32,80.13L540.82,80.19L541.32,80.22L541.82,80.12L542.33,79.74L542.83,78.87L543.33,77.23L543.83,74.93L544.33,72.37L544.83,70.42L545.33,70.1L545.83,71.76L546.33,74.5L546.83,77.26L547.33,79.45L547.84,80.88L548.34,81.75L548.84,82.27L549.34,82.6L549.84,82.85L550.34,83.05L550.84,83.21L551.34,83.29L551.84,83.36L552.34,83.42L552.84,83.47L553.34,83.53L553.85,83.68L554.35,83.81L554.85,83.94L555.35,84.06L555.85,84.16L556.35,84.11L556.85,84.04L557.35,83.97L557.85,83.91L558.35,83.84L558.85,83.86L559.35,83.91L559.86,83.96L560.36,84.01L560.86,84.05L561.36,84.14L561.86,84.27L562.36,84.36L562.86,84.32L563.36,84.03L563.86,83.23L564.36,81.66L564.86,79.41L565.37,76.77L565.87,74.47L566.37,73.57L566.87,74.68L567.37,77.1L567.87,79.78L568.37,82.03L568.87,83.59L569.37,84.56L569.87,85.1L570.37,85.42L570.87,85.62L571.38,85.78L571.88,85.81L572.38,85.8L572.88,85.78L573.38,85.76L573.88,85.73L574.38,85.71L574.88,85.7L575.38,85.69L575.88,85.68L576.38,85.66L576.88,85.73L577.39,85.96L577.89,86.18L578.39,86.4L578.89,86.62L579.39,86.8L579.89,86.81L580.39,86.81L580.89,86.81L581.39,86.82L581.89,86.82L582.39,86.87L582.9,86.93L583.4,86.99L583.9,87.04L584.4,87.09L584.9,87.12L585.4,87.14L585.9,87.16L586.4,87.18L586.9,87.19L587.4,87.25L587.9,87.36L588.4,87.46L588.91,87.57L589.41,87.68L589.91,87.7L590.41,87.59L590.91,87.48L591.41,87.38L591.91,87.27L592.41,87.22L592.91,87.35L593.41,87.49L593.91,87.62L594.41,87.75L594.92,87.88L595.42,87.83L595.92,87.78L596.42,87.73L596.92,87.69L597.42,87.64L597.92,87.7L598.42,87.79L598.92,87.88L599.42,87.97L599.92,88.05L600.43,88.12L600.93,88.17L601.43,88.23L601.93,88.28L602.43,88.33L602.93,88.33L603.43,88.28L603.93,88.23L604.43,88.17L604.93,88.11L605.43,88.05L605.93,88L606.44,87.94L606.94,87.87L607.44,87.81L607.94,87.76L608.44,87.84L608.94,87.92L609.44,87.99L609.94,88.07L610.44,88.14L610.94,88.19L611.44,88.23L611.94,88.26L612.45,88.3L612.95,88.34L613.45,88.31L613.95,88.25L614.45,88.2L614.95,88.13L615.45,88.07L615.95,87.99L616.45,87.91L616.95,87.81L617.45,87.69L617.96,87.52L618.46,87.25L618.96,86.8L619.46,85.93L619.96,84.45L620.46,82.36L620.96,79.9L621.46,77.69L621.96,76.83L622.46,77.77L622.96,79.88L623.46,82.19L623.97,84.17L624.47,85.52L624.97,86.3L625.47,86.7L625.97,86.88L626.47,86.99L626.97,87.05L627.47,87.1L627.97,87.13L628.47,87.15L628.97,87.21L629.47,87.29L629.98,87.37L630.48,87.43L630.98,87.48L631.48,87.42L631.98,87.18L632.48,86.91L632.98,86.6L633.48,86.22L633.98,85.74L634.48,85.14L634.98,84.16L635.49,82.62L635.99,80.3L636.49,77.09L636.99,73.03L637.49,68.43L637.99,63.92L638.49,60.47L638.99,59.12L639.49,60.31L639.99,63.52L640.49,67.68L640.99,71.76L641.5,75.02L642,77.02L642.5,77.47L643,76.2L643.5,73.24L644,68.78L644.5,63.3L645,57.67L645.5,53.14L646,51.12L646.5,52.42L647,56.6L647.51,62.33L648.01,68.33L648.51,73.71L649.01,78L649.51,81.11L650.01,83.02L650.51,84.16L651.01,84.78L651.51,85.1L652.01,85.24L652.51,85.39L653.02,85.5L653.52,85.58L654.02,85.63L654.52,85.67L655.02,85.68L655.52,85.69L656.02,85.69L656.52,85.67L657.02,85.64L657.52,85.61L658.02,85.57L658.52,85.5L659.03,85.38L659.53,85.19L660.03,84.9L660.53,84.46L661.03,83.65L661.53,82.28L662.03,80.1L662.53,76.88L663.03,72.36L663.53,66.76L664.03,60.46L664.53,54.17L665.04,48.97L665.54,46.07L666.04,46.39L666.54,49.81L667.04,55.32L667.54,61.67L668.04,67.89L668.54,73.32L669.04,77.63L669.54,80.81L670.04,82.99L670.55,84.51L671.05,85.6L671.55,86.36L672.05,86.91L672.55,87.35L673.05,87.67L673.55,87.82L674.05,87.95L674.55,88.05L675.05,88.15L675.55,88.23L676.05,88.34L676.56,88.45L677.06,88.54L677.56,88.63L678.06,88.7L678.56,88.62L679.06,88.51L679.56,88.39L680.06,88.26L680.56,88.15L681.06,88.19L681.56,88.2L682.06,88.02L682.57,87.47L683.07,86.39L683.57,84.79L684.07,82.94L684.57,81.46L685.07,81.21L685.57,82.52L686.07,84.73L686.57,86.94L687.07,88.72L687.57,89.9L688.08,90.56L688.58,90.92L689.08,91.25L689.58,91.49L690.08,91.71L690.58,91.91L691.08,92.1L691.58,92.05L692.08,91.98L692.58,91.91L693.08,91.84L693.58,91.77L694.09,91.98L694.59,92.28L695.09,92.57L695.59,92.87L696.09,93.16L696.59,93.22L697.09,93.11L697.59,92.99L698.09,92.88L698.59,92.76L699.09,92.75L699.59,92.91L700.1,93.08L700.6,93.23L701.1,93.38L701.6,93.49L702.1,93.46L702.6,93.41" fill="none" stroke="#262626" stroke-width="0.9" stroke-linejoin="round"/>
<path d="M517.8,105.6L517.8,90.62L518.3,90.64L518.8,90.65L519.3,90.65L519.8,90.66L520.31,90.66L520.81,90.51L521.31,90.33L521.81,90.15L522.31,89.96L522.81,89.77L523.31,89.8L523.81,89.95L524.31,90.1L524.82,90.25L525.32,90.4L525.82,90.38L526.32,90.16L526.82,89.93L527.32,89.7L527.82,89.47L528.32,89.32L528.82,89.38L529.33,89.45L529.83,89.51L530.33,89.58L530.83,89.62L531.33,89.42L531.83,89.21L532.33,89.21L532.83,89.71L533.33,90.07L533.84,89.88L534.34,88.83L534.84,87.23L535.34,85.29L535.84,83.58L536.34,82.79L536.84,83.52L537.34,85.42L537.84,87.58L538.35,89.41L538.85,90.78L539.35,91.72L539.85,92.29L540.35,92.66L540.85,92.93L541.35,93.12L541.85,93.21L542.35,93.29L542.86,93.37L543.36,93.45L543.86,93.52L544.36,93.6L544.86,93.67L545.36,93.75L545.86,93.82L546.36,93.89L546.86,93.89L547.37,93.87L547.87,93.86L548.37,93.84L548.87,93.83L549.37,93.93L549.87,94.08L550.37,94.23L550.87,94.37L551.37,94.51L551.87,94.6L552.38,94.66L552.88,94.7L553.38,94.73L553.88,94.74L554.38,94.61L554.88,94.23L555.38,93.64L555.88,92.71L556.38,91.29L556.89,89.41L557.39,87.53L557.89,85.99L558.39,85.63L558.89,86.77L559.39,88.84L559.89,91.05L560.39,92.88L560.89,94.15L561.4,94.95L561.9,95.44L562.4,95.64L562.9,95.73L563.4,95.8L563.9,95.85L564.4,95.9L564.9,95.94L565.4,95.97L565.91,95.99L566.41,96.02L566.91,96.05L567.41,96.09L567.91,96.16L568.41,96.22L568.91,96.28L569.41,96.35L569.91,96.45L570.42,96.69L570.92,96.93L571.42,97.17L571.92,97.4L572.42,97.62L572.92,97.49L573.42,97.36L573.92,97.23L574.42,97.09L574.93,96.95L575.43,97.11L575.93,97.31L576.43,97.5L576.93,97.67L577.43,97.84L577.93,97.93L578.43,97.97L578.93,98.01L579.44,98.06L579.94,98.1L580.44,98.06L580.94,97.93L581.44,97.8L581.94,97.67L582.44,97.55L582.94,97.48L583.44,97.55L583.95,97.62L584.45,97.69L584.95,97.77L585.45,97.84L585.95,97.87L586.45,97.9L586.95,97.93L587.45,97.96L587.95,97.99L588.46,98.08L588.96,98.17L589.46,98.26L589.96,98.35L590.46,98.44L590.96,98.46L591.46,98.46L591.96,98.45L592.46,98.44L592.97,98.43L593.47,98.51L593.97,98.66L594.47,98.81L594.97,98.96L595.47,99.11L595.97,99.22L596.47,99.25L596.97,99.28L597.48,99.31L597.98,99.34L598.48,99.34L598.98,99.22L599.48,99.09L599.98,98.96L600.48,98.82L600.98,98.68L601.48,98.8L601.99,98.93L602.49,99.05L602.99,99.18L603.49,99.31L603.99,99.19L604.49,98.99L604.99,98.79L605.49,98.59L605.99,98.39L606.5,98.31L607,98.3L607.5,98.29L608,98.28L608.5,98.27L609,98.31L609.5,98.41L610,98.51L610.5,98.6L611,98.68L611.51,98.71L612.01,98.61L612.51,98.4L613.01,97.94L613.51,97.06L614.01,95.57L614.51,93.41L615.01,90.91L615.51,88.77L616.02,87.99L616.52,89.05L617.02,91.33L617.52,93.84L618.02,95.93L618.52,97.36L619.02,98.21L619.52,98.63L620.02,98.79L620.53,98.86L621.03,98.88L621.53,98.87L622.03,98.8L622.53,98.67L623.03,98.52L623.53,98.37L624.03,98.21L624.53,98.11L625.04,98.18L625.54,98.23L626.04,98.26L626.54,98.28L627.04,98.28L627.54,98.18L628.04,98.02L628.54,97.76L629.04,97.32L629.55,96.57L630.05,95.13L630.55,92.98L631.05,89.99L631.55,86.16L632.05,81.68L632.55,77.29L633.05,73.72L633.55,71.89L634.06,72.47L634.56,75.21L635.06,79.09L635.56,83.09L636.06,86.54L636.56,88.96L637.06,90.06L637.56,89.73L638.06,87.93L638.57,84.66L639.07,80.11L639.57,74.79L640.07,69.55L640.57,65.67L641.07,64.35L641.57,66.16L642.07,70.45L642.57,75.95L643.08,81.48L643.58,86.31L644.08,90.08L644.58,92.77L645.08,94.54L645.58,95.66L646.08,96.35L646.58,96.78L647.08,97.07L647.59,97.27L648.09,97.28L648.59,97.15L649.09,97L649.59,96.84L650.09,96.66L650.59,96.61L651.09,96.72L651.59,96.82L652.1,96.91L652.6,96.99L653.1,97.06L653.6,97.14L654.1,97.19L654.6,97.2L655.1,97.16L655.6,97.01L656.1,96.51L656.61,95.7L657.11,94.41L657.61,92.43L658.11,89.52L658.61,85.54L659.11,80.51L659.61,74.68L660.11,68.65L660.61,63.34L661.12,59.91L661.62,59.37L662.12,61.89L662.62,66.68L663.12,72.58L663.62,78.62L664.12,84.11L664.62,88.61L665.12,92.01L665.63,94.42L666.13,96.02L666.63,96.93L667.13,97.49L667.63,97.82L668.13,98.03L668.63,98.17L669.13,98.43L669.63,98.67L670.13,98.89L670.64,99.09L671.14,99.28L671.64,99.38L672.14,99.46L672.64,99.53L673.14,99.59L673.64,99.65L674.14,99.66L674.64,99.64L675.15,99.61L675.65,99.57L676.15,99.52L676.65,99.52L677.15,99.58L677.65,99.59L678.15,99.47L678.65,99.08L679.15,98.18L679.66,96.56L680.16,94.42L680.66,92.16L681.16,90.58L681.66,90.55L682.16,92.17L682.66,94.52L683.16,96.78L683.66,98.51L684.17,99.64L684.67,100.37L685.17,100.82L685.67,101.12L686.17,101.35L686.67,101.55L687.17,101.59L687.67,101.56L688.17,101.52L688.68,101.49L689.18,101.45L689.68,101.48L690.18,101.56L690.68,101.64L691.18,101.72L691.68,101.8L692.18,101.92L692.68,102.1L693.19,102.28L693.69,102.46L694.19,102.63L694.69,102.78L695.19,102.83L695.69,102.88L696.19,102.92L696.69,102.95L697.19,102.99L697.7,103.15L698.2,103.31L698.7,103.46L699.2,103.61L699.7,103.75L699.7,105.6Z" fill="#00cbcb"/>
<path d="M517.8,90.62L518.3,90.64L518.8,90.65L519.3,90.65L519.8,90.66L520.31,90.66L520.81,90.51L521.31,90.33L521.81,90.15L522.31,89.96L522.81,89.77L523.31,89.8L523.81,89.95L524.31,90.1L524.82,90.25L525.32,90.4L525.82,90.38L526.32,90.16L526.82,89.93L527.32,89.7L527.82,89.47L528.32,89.32L528.82,89.38L529.33,89.45L529.83,89.51L530.33,89.58L530.83,89.62L531.33,89.42L531.83,89.21L532.33,89.21L532.83,89.71L533.33,90.07L533.84,89.88L534.34,88.83L534.84,87.23L535.34,85.29L535.84,83.58L536.34,82.79L536.84,83.52L537.34,85.42L537.84,87.58L538.35,89.41L538.85,90.78L539.35,91.72L539.85,92.29L540.35,92.66L540.85,92.93L541.35,93.12L541.85,93.21L542.35,93.29L542.86,93.37L543.36,93.45L543.86,93.52L544.36,93.6L544.86,93.67L545.36,93.75L545.86,93.82L546.36,93.89L546.86,93.89L547.37,93.87L547.87,93.86L548.37,93.84L548.87,93.83L549.37,93.93L549.87,94.08L550.37,94.23L550.87,94.37L551.37,94.51L551.87,94.6L552.38,94.66L552.88,94.7L553.38,94.73L553.88,94.74L554.38,94.61L554.88,94.23L555.38,93.64L555.88,92.71L556.38,91.29L556.89,89.41L557.39,87.53L557.89,85.99L558.39,85.63L558.89,86.77L559.39,88.84L559.89,91.05L560.39,92.88L560.89,94.15L561.4,94.95L561.9,95.44L562.4,95.64L562.9,95.73L563.4,95.8L563.9,95.85L564.4,95.9L564.9,95.94L565.4,95.97L565.91,95.99L566.41,96.02L566.91,96.05L567.41,96.09L567.91,96.16L568.41,96.22L568.91,96.28L569.41,96.35L569.91,96.45L570.42,96.69L570.92,96.93L571.42,97.17L571.92,97.4L572.42,97.62L572.92,97.49L573.42,97.36L573.92,97.23L574.42,97.09L574.93,96.95L575.43,97.11L575.93,97.31L576.43,97.5L576.93,97.67L577.43,97.84L577.93,97.93L578.43,97.97L578.93,98.01L579.44,98.06L579.94,98.1L580.44,98.06L580.94,97.93L581.44,97.8L581.94,97.67L582.44,97.55L582.94,97.48L583.44,97.55L583.95,97.62L584.45,97.69L584.95,97.77L585.45,97.84L585.95,97.87L586.45,97.9L586.95,97.93L587.45,97.96L587.95,97.99L588.46,98.08L588.96,98.17L589.46,98.26L589.96,98.35L590.46,98.44L590.96,98.46L591.46,98.46L591.96,98.45L592.46,98.44L592.97,98.43L593.47,98.51L593.97,98.66L594.47,98.81L594.97,98.96L595.47,99.11L595.97,99.22L596.47,99.25L596.97,99.28L597.48,99.31L597.98,99.34L598.48,99.34L598.98,99.22L599.48,99.09L599.98,98.96L600.48,98.82L600.98,98.68L601.48,98.8L601.99,98.93L602.49,99.05L602.99,99.18L603.49,99.31L603.99,99.19L604.49,98.99L604.99,98.79L605.49,98.59L605.99,98.39L606.5,98.31L607,98.3L607.5,98.29L608,98.28L608.5,98.27L609,98.31L609.5,98.41L610,98.51L610.5,98.6L611,98.68L611.51,98.71L612.01,98.61L612.51,98.4L613.01,97.94L613.51,97.06L614.01,95.57L614.51,93.41L615.01,90.91L615.51,88.77L616.02,87.99L616.52,89.05L617.02,91.33L617.52,93.84L618.02,95.93L618.52,97.36L619.02,98.21L619.52,98.63L620.02,98.79L620.53,98.86L621.03,98.88L621.53,98.87L622.03,98.8L622.53,98.67L623.03,98.52L623.53,98.37L624.03,98.21L624.53,98.11L625.04,98.18L625.54,98.23L626.04,98.26L626.54,98.28L627.04,98.28L627.54,98.18L628.04,98.02L628.54,97.76L629.04,97.32L629.55,96.57L630.05,95.13L630.55,92.98L631.05,89.99L631.55,86.16L632.05,81.68L632.55,77.29L633.05,73.72L633.55,71.89L634.06,72.47L634.56,75.21L635.06,79.09L635.56,83.09L636.06,86.54L636.56,88.96L637.06,90.06L637.56,89.73L638.06,87.93L638.57,84.66L639.07,80.11L639.57,74.79L640.07,69.55L640.57,65.67L641.07,64.35L641.57,66.16L642.07,70.45L642.57,75.95L643.08,81.48L643.58,86.31L644.08,90.08L644.58,92.77L645.08,94.54L645.58,95.66L646.08,96.35L646.58,96.78L647.08,97.07L647.59,97.27L648.09,97.28L648.59,97.15L649.09,97L649.59,96.84L650.09,96.66L650.59,96.61L651.09,96.72L651.59,96.82L652.1,96.91L652.6,96.99L653.1,97.06L653.6,97.14L654.1,97.19L654.6,97.2L655.1,97.16L655.6,97.01L656.1,96.51L656.61,95.7L657.11,94.41L657.61,92.43L658.11,89.52L658.61,85.54L659.11,80.51L659.61,74.68L660.11,68.65L660.61,63.34L661.12,59.91L661.62,59.37L662.12,61.89L662.62,66.68L663.12,72.58L663.62,78.62L664.12,84.11L664.62,88.61L665.12,92.01L665.63,94.42L666.13,96.02L666.63,96.93L667.13,97.49L667.63,97.82L668.13,98.03L668.63,98.17L669.13,98.43L669.63,98.67L670.13,98.89L670.64,99.09L671.14,99.28L671.64,99.38L672.14,99.46L672.64,99.53L673.14,99.59L673.64,99.65L674.14,99.66L674.64,99.64L675.15,99.61L675.65,99.57L676.15,99.52L676.65,99.52L677.15,99.58L677.65,99.59L678.15,99.47L678.65,99.08L679.15,98.18L679.66,96.56L680.16,94.42L680.66,92.16L681.16,90.58L681.66,90.55L682.16,92.17L682.66,94.52L683.16,96.78L683.66,98.51L684.17,99.64L684.67,100.37L685.17,100.82L685.67,101.12L686.17,101.35L686.67,101.55L687.17,101.59L687.67,101.56L688.17,101.52L688.68,101.49L689.18,101.45L689.68,101.48L690.18,101.56L690.68,101.64L691.18,101.72L691.68,101.8L692.18,101.92L692.68,102.1L693.19,102.28L693.69,102.46L694.19,102.63L694.69,102.78L695.19,102.83L695.69,102.88L696.19,102.92L696.69,102.95L697.19,102.99L697.7,103.15L698.2,103.31L698.7,103.46L699.2,103.61L699.7,103.75" fill="none" stroke="#262626" stroke-width="0.9" stroke-linejoin="round"/>
<path d="M507.9,115.5L507.9,103.03L508.4,102.8L508.9,102.65L509.4,102.71L509.9,103.04L510.4,103.52L510.9,103.9L511.4,104.19L511.9,104.38L512.4,104.49L512.91,104.54L513.41,104.49L513.91,104.37L514.41,104.24L514.91,104.14L515.41,104.07L515.91,104.13L516.41,104.38L516.91,104.63L517.41,104.9L517.91,105.16L518.41,105.38L518.91,105.45L519.41,105.5L519.91,105.56L520.41,105.6L520.91,105.63L521.41,105.57L521.91,105.49L522.42,105.37L522.92,105.21L523.42,104.99L523.92,104.92L524.42,104.63L524.92,103.9L525.42,102.61L525.92,100.88L526.42,98.92L526.92,97.61L527.42,97.81L527.92,99.37L528.42,101.47L528.92,103.46L529.42,105.02L529.92,106L530.42,106.56L530.92,106.87L531.42,107.07L531.93,107.23L532.43,107.36L532.93,107.49L533.43,107.62L533.93,107.74L534.43,107.88L534.93,108.01L535.43,108.14L535.93,108.27L536.43,108.41L536.93,108.41L537.43,108.4L537.93,108.38L538.43,108.36L538.93,108.34L539.43,108.48L539.93,108.69L540.43,108.9L540.94,109.1L541.44,109.3L541.94,109.44L542.44,109.53L542.94,109.61L543.44,109.68L543.94,109.74L544.44,109.76L544.94,109.67L545.44,109.55L545.94,109.38L546.44,109.09L546.94,108.55L547.44,107.69L547.94,106.23L548.44,104.18L548.94,101.88L549.44,100.08L549.94,99.66L550.45,100.97L550.95,103.28L551.45,105.67L551.95,107.58L552.45,108.9L552.95,109.71L553.45,110.15L553.95,110.4L554.45,110.57L554.95,110.6L555.45,110.51L555.95,110.42L556.45,110.32L556.95,110.22L557.45,110.17L557.95,110.26L558.45,110.34L558.95,110.42L559.45,110.5L559.96,110.58L560.46,110.64L560.96,110.71L561.46,110.77L561.96,110.84L562.46,110.9L562.96,110.87L563.46,110.82L563.96,110.78L564.46,110.73L564.96,110.69L565.46,110.85L565.96,111.09L566.46,111.33L566.96,111.57L567.46,111.81L567.96,111.9L568.46,111.86L568.96,111.82L569.47,111.78L569.97,111.74L570.47,111.68L570.97,111.59L571.47,111.5L571.97,111.41L572.47,111.32L572.97,111.26L573.47,111.4L573.97,111.55L574.47,111.69L574.97,111.83L575.47,111.97L575.97,111.96L576.47,111.95L576.97,111.93L577.47,111.92L577.97,111.9L578.48,111.87L578.98,111.83L579.48,111.8L579.98,111.74L580.48,111.68L580.98,111.64L581.48,111.62L581.98,111.6L582.48,111.58L582.98,111.56L583.48,111.57L583.98,111.62L584.48,111.67L584.98,111.73L585.48,111.78L585.98,111.8L586.48,111.7L586.98,111.59L587.48,111.48L587.99,111.37L588.49,111.26L588.99,111.35L589.49,111.44L589.99,111.53L590.49,111.63L590.99,111.72L591.49,111.72L591.99,111.69L592.49,111.66L592.99,111.62L593.49,111.59L593.99,111.52L594.49,111.41L594.99,111.3L595.49,111.19L595.99,111.08L596.49,111.08L596.99,111.23L597.5,111.39L598,111.54L598.5,111.7L599,111.79L599.5,111.58L600,111.37L600.5,111.16L601,110.94L601.5,110.73L602,110.73L602.5,110.73L603,110.72L603.5,110.72L604,110.7L604.5,110.77L605,110.85L605.5,110.9L606,110.87L606.5,110.68L607.01,110.05L607.51,108.93L608.01,107.39L608.51,105.63L609.01,104.09L609.51,103.48L610.01,104.16L610.51,105.6L611.01,107.2L611.51,108.53L612.01,109.44L612.51,109.97L613.01,110.24L613.51,110.37L614.01,110.43L614.51,110.46L615.01,110.42L615.51,110.36L616.01,110.3L616.52,110.24L617.02,110.16L617.52,110.12L618.02,110.08L618.52,110.03L619.02,109.98L619.52,109.91L620.02,109.83L620.52,109.73L621.02,109.62L621.52,109.47L622.02,109.27L622.52,108.98L623.02,108.51L623.52,107.75L624.02,106.52L624.52,104.59L625.02,101.76L625.52,97.91L626.03,93.27L626.53,88.3L627.03,83.85L627.53,81.02L628.03,80.98L628.53,83.5L629.03,87.71L629.53,92.46L630.03,96.84L630.53,100.01L631.03,101.86L631.53,102.26L632.03,101.12L632.53,98.39L633.03,94.17L633.53,88.68L634.03,82.51L634.53,76.67L635.04,72.6L635.54,71.7L636.04,74.35L636.54,79.56L637.04,85.86L637.54,92.03L638.04,97.3L638.54,101.37L639.04,104.23L639.54,106.11L640.04,107.29L640.54,108L641.04,108.32L641.54,108.5L642.04,108.6L642.54,108.65L643.04,108.67L643.54,108.67L644.04,108.66L644.55,108.63L645.05,108.59L645.55,108.54L646.05,108.5L646.55,108.47L647.05,108.43L647.55,108.38L648.05,108.31L648.55,108.19L649.05,108.01L649.55,107.79L650.05,107.52L650.55,107.16L651.05,106.67L651.55,105.98L652.05,104.81L652.55,102.92L653.05,100.05L653.55,96L654.06,90.61L654.56,84.21L655.06,77.38L655.56,71.04L656.06,66.48L656.56,64.9L657.06,66.82L657.56,71.61L658.06,77.98L658.56,84.71L659.06,90.97L659.56,96.2L660.06,100.21L660.56,103.08L661.06,105.01L661.56,106.23L662.06,106.99L662.56,107.47L663.06,107.78L663.57,108L664.07,108.2L664.57,108.48L665.07,108.72L665.57,108.96L666.07,109.17L666.57,109.37L667.07,109.47L667.57,109.57L668.07,109.66L668.57,109.74L669.07,109.82L669.57,109.81L670.07,109.8L670.57,109.78L671.07,109.75L671.57,109.7L672.07,109.58L672.58,109.45L673.08,109.29L673.58,109.03L674.08,108.54L674.58,107.66L675.08,106.17L675.58,103.88L676.08,101.02L676.58,98.27L677.08,96.89L677.58,97.82L678.08,100.55L678.58,103.87L679.08,106.85L679.58,109.02L680.08,110.14L680.58,110.7L681.08,110.93L681.58,111L682.09,111.01L682.59,111.08L683.09,111.13L683.59,111.17L684.09,111.21L684.59,111.25L685.09,111.39L685.59,111.57L686.09,111.74L686.59,111.91L687.09,112.08L687.59,112.2L688.09,112.29L688.59,112.38L689.09,112.46L689.59,112.54L690.09,112.62L690.59,112.67L691.09,112.71L691.6,112.76L692.1,112.81L692.6,112.85L693.1,112.88L693.6,112.91L694.1,112.94L694.6,112.97L695.1,112.99L695.6,112.99L696.1,112.99L696.1,115.5Z" fill="#cc9600"/>
<path d="M507.9,103.03L508.4,102.8L508.9,102.65L509.4,102.71L509.9,103.04L510.4,103.52L510.9,103.9L511.4,104.19L511.9,104.38L512.4,104.49L512.91,104.54L513.41,104.49L513.91,104.37L514.41,104.24L514.91,104.14L515.41,104.07L515.91,104.13L516.41,104.38L516.91,104.63L517.41,104.9L517.91,105.16L518.41,105.38L518.91,105.45L519.41,105.5L519.91,105.56L520.41,105.6L520.91,105.63L521.41,105.57L521.91,105.49L522.42,105.37L522.92,105.21L523.42,104.99L523.92,104.92L524.42,104.63L524.92,103.9L525.42,102.61L525.92,100.88L526.42,98.92L526.92,97.61L527.42,97.81L527.92,99.37L528.42,101.47L528.92,103.46L529.42,105.02L529.92,106L530.42,106.56L530.92,106.87L531.42,107.07L531.93,107.23L532.43,107.36L532.93,107.49L533.43,107.62L533.93,107.74L534.43,107.88L534.93,108.01L535.43,108.14L535.93,108.27L536.43,108.41L536.93,108.41L537.43,108.4L537.93,108.38L538.43,108.36L538.93,108.34L539.43,108.48L539.93,108.69L540.43,108.9L540.94,109.1L541.44,109.3L541.94,109.44L542.44,109.53L542.94,109.61L543.44,109.68L543.94,109.74L544.44,109.76L544.94,109.67L545.44,109.55L545.94,109.38L546.44,109.09L546.94,108.55L547.44,107.69L547.94,106.23L548.44,104.18L548.94,101.88L549.44,100.08L549.94,99.66L550.45,100.97L550.95,103.28L551.45,105.67L551.95,107.58L552.45,108.9L552.95,109.71L553.45,110.15L553.95,110.4L554.45,110.57L554.95,110.6L555.45,110.51L555.95,110.42L556.45,110.32L556.95,110.22L557.45,110.17L557.95,110.26L558.45,110.34L558.95,110.42L559.45,110.5L559.96,110.58L560.46,110.64L560.96,110.71L561.46,110.77L561.96,110.84L562.46,110.9L562.96,110.87L563.46,110.82L563.96,110.78L564.46,110.73L564.96,110.69L565.46,110.85L565.96,111.09L566.46,111.33L566.96,111.57L567.46,111.81L567.96,111.9L568.46,111.86L568.96,111.82L569.47,111.78L569.97,111.74L570.47,111.68L570.97,111.59L571.47,111.5L571.97,111.41L572.47,111.32L572.97,111.26L573.47,111.4L573.97,111.55L574.47,111.69L574.97,111.83L575.47,111.97L575.97,111.96L576.47,111.95L576.97,111.93L577.47,111.92L577.97,111.9L578.48,111.87L578.98,111.83L579.48,111.8L579.98,111.74L580.48,111.68L580.98,111.64L581.48,111.62L581.98,111.6L582.48,111.58L582.98,111.56L583.48,111.57L583.98,111.62L584.48,111.67L584.98,111.73L585.48,111.78L585.98,111.8L586.48,111.7L586.98,111.59L587.48,111.48L587.99,111.37L588.49,111.26L588.99,111.35L589.49,111.44L589.99,111.53L590.49,111.63L590.99,111.72L591.49,111.72L591.99,111.69L592.49,111.66L592.99,111.62L593.49,111.59L593.99,111.52L594.49,111.41L594.99,111.3L595.49,111.19L595.99,111.08L596.49,111.08L596.99,111.23L597.5,111.39L598,111.54L598.5,111.7L599,111.79L599.5,111.58L600,111.37L600.5,111.16L601,110.94L601.5,110.73L602,110.73L602.5,110.73L603,110.72L603.5,110.72L604,110.7L604.5,110.77L605,110.85L605.5,110.9L606,110.87L606.5,110.68L607.01,110.05L607.51,108.93L608.01,107.39L608.51,105.63L609.01,104.09L609.51,103.48L610.01,104.16L610.51,105.6L611.01,107.2L611.51,108.53L612.01,109.44L612.51,109.97L613.01,110.24L613.51,110.37L614.01,110.43L614.51,110.46L615.01,110.42L615.51,110.36L616.01,110.3L616.52,110.24L617.02,110.16L617.52,110.12L618.02,110.08L618.52,110.03L619.02,109.98L619.52,109.91L620.02,109.83L620.52,109.73L621.02,109.62L621.52,109.47L622.02,109.27L622.52,108.98L623.02,108.51L623.52,107.75L624.02,106.52L624.52,104.59L625.02,101.76L625.52,97.91L626.03,93.27L626.53,88.3L627.03,83.85L627.53,81.02L628.03,80.98L628.53,83.5L629.03,87.71L629.53,92.46L630.03,96.84L630.53,100.01L631.03,101.86L631.53,102.26L632.03,101.12L632.53,98.39L633.03,94.17L633.53,88.68L634.03,82.51L634.53,76.67L635.04,72.6L635.54,71.7L636.04,74.35L636.54,79.56L637.04,85.86L637.54,92.03L638.04,97.3L638.54,101.37L639.04,104.23L639.54,106.11L640.04,107.29L640.54,108L641.04,108.32L641.54,108.5L642.04,108.6L642.54,108.65L643.04,108.67L643.54,108.67L644.04,108.66L644.55,108.63L645.05,108.59L645.55,108.54L646.05,108.5L646.55,108.47L647.05,108.43L647.55,108.38L648.05,108.31L648.55,108.19L649.05,108.01L649.55,107.79L650.05,107.52L650.55,107.16L651.05,106.67L651.55,105.98L652.05,104.81L652.55,102.92L653.05,100.05L653.55,96L654.06,90.61L654.56,84.21L655.06,77.38L655.56,71.04L656.06,66.48L656.56,64.9L657.06,66.82L657.56,71.61L658.06,77.98L658.56,84.71L659.06,90.97L659.56,96.2L660.06,100.21L660.56,103.08L661.06,105.01L661.56,106.23L662.06,106.99L662.56,107.47L663.06,107.78L663.57,108L664.07,108.2L664.57,108.48L665.07,108.72L665.57,108.96L666.07,109.17L666.57,109.37L667.07,109.47L667.57,109.57L668.07,109.66L668.57,109.74L669.07,109.82L669.57,109.81L670.07,109.8L670.57,109.78L671.07,109.75L671.57,109.7L672.07,109.58L672.58,109.45L673.08,109.29L673.58,109.03L674.08,108.54L674.58,107.66L675.08,106.17L675.58,103.88L676.08,101.02L676.58,98.27L677.08,96.89L677.58,97.82L678.08,100.55L678.58,103.87L679.08,106.85L679.58,109.02L680.08,110.14L680.58,110.7L681.08,110.93L681.58,111L682.09,111.01L682.59,111.08L683.09,111.13L683.59,111.17L684.09,111.21L684.59,111.25L685.09,111.39L685.59,111.57L686.09,111.74L686.59,111.91L687.09,112.08L687.59,112.2L688.09,112.29L688.59,112.38L689.09,112.46L689.59,112.54L690.09,112.62L690.59,112.67L691.09,112.71L691.6,112.76L692.1,112.81L692.6,112.85L693.1,112.88L693.6,112.91L694.1,112.94L694.6,112.97L695.1,112.99L695.6,112.99L696.1,112.99" fill="none" stroke="#262626" stroke-width="0.9" stroke-linejoin="round"/>
<path d="M497.4,126.1L497.4,109.98L497.9,109.86L498.4,109.75L498.9,109.64L499.4,109.54L499.9,109.43L500.4,109.43L500.91,109.45L501.41,109.48L501.91,109.5L502.41,109.53L502.91,109.61L503.41,109.73L503.91,109.85L504.41,109.97L504.91,110.08L505.41,110.11L505.91,110.01L506.41,109.91L506.91,109.81L507.42,109.71L507.92,109.68L508.42,109.86L508.92,110.05L509.42,110.23L509.92,110.41L510.42,110.58L510.92,110.59L511.42,110.58L511.92,110.57L512.42,110.55L512.92,110.5L513.42,110.27L513.93,109.98L514.43,109.66L514.93,109.06L515.43,108.05L515.93,106.83L516.43,105.58L516.93,104.76L517.43,105.08L517.93,106.67L518.43,108.85L518.93,110.88L519.43,112.41L519.93,113.32L520.44,113.83L520.94,114.1L521.44,114.29L521.94,114.42L522.44,114.53L522.94,114.62L523.44,114.71L523.94,114.83L524.44,114.95L524.94,115.07L525.44,115.19L525.94,115.31L526.44,115.37L526.95,115.42L527.45,115.47L527.95,115.52L528.45,115.56L528.95,115.51L529.45,115.42L529.95,115.32L530.45,115.22L530.95,115.12L531.45,115.14L531.95,115.27L532.45,115.4L532.95,115.52L533.46,115.64L533.96,115.72L534.46,115.72L534.96,115.71L535.46,115.69L535.96,115.66L536.46,115.61L536.96,115.56L537.46,115.4L537.96,115.02L538.46,114.29L538.96,113.07L539.46,111.16L539.97,109.08L540.47,107.48L540.97,107.09L541.47,108.05L541.97,110.03L542.47,112.12L542.97,113.81L543.47,115L543.97,115.77L544.47,116.07L544.97,116.07L545.47,116.01L545.97,115.93L546.48,115.83L546.98,115.78L547.48,115.83L547.98,115.87L548.48,115.9L548.98,115.94L549.48,116L549.98,116.17L550.48,116.34L550.98,116.51L551.48,116.68L551.98,116.85L552.48,116.98L552.99,117.1L553.49,117.22L553.99,117.34L554.49,117.46L554.99,117.56L555.49,117.66L555.99,117.75L556.49,117.84L556.99,117.94L557.49,117.94L557.99,117.87L558.49,117.8L558.99,117.73L559.5,117.65L560,117.68L560.5,117.85L561,118.02L561.5,118.19L562,118.36L562.5,118.47L563,118.34L563.5,118.21L564,118.08L564.5,117.95L565,117.82L565.5,118.09L566.01,118.35L566.51,118.61L567.01,118.87L567.51,119.13L568.01,119.08L568.51,118.96L569.01,118.84L569.51,118.71L570.01,118.56L570.51,118.52L571.01,118.56L571.51,118.6L572.01,118.64L572.52,118.67L573.02,118.64L573.52,118.51L574.02,118.39L574.52,118.26L575.02,118.14L575.52,118.03L576.02,117.98L576.52,117.93L577.02,117.87L577.52,117.82L578.02,117.77L578.52,117.72L579.03,117.68L579.53,117.63L580.03,117.59L580.53,117.54L581.03,117.62L581.53,117.72L582.03,117.82L582.53,117.92L583.03,118.02L583.53,118.02L584.03,117.98L584.53,117.93L585.03,117.89L585.54,117.84L586.04,117.83L586.54,117.86L587.04,117.88L587.54,117.91L588.04,117.93L588.54,117.95L589.04,117.93L589.54,117.91L590.04,117.89L590.54,117.87L591.04,117.84L591.54,117.72L592.05,117.6L592.55,117.48L593.05,117.37L593.55,117.25L594.05,117.31L594.55,117.39L595.05,117.46L595.55,117.53L596.05,117.6L596.55,117.49L597.05,117.3L597.55,117.09L598.06,116.87L598.56,116.6L599.06,116.4L599.56,116.15L600.06,115.55L600.56,114.45L601.06,112.82L601.56,110.8L602.06,108.84L602.56,107.99L603.06,108.65L603.56,110.34L604.06,112.27L604.57,114.13L605.07,115.45L605.57,116.29L606.07,116.79L606.57,117.11L607.07,117.08L607.57,116.98L608.07,116.86L608.57,116.74L609.07,116.61L609.57,116.57L610.07,116.57L610.57,116.56L611.08,116.54L611.58,116.52L612.08,116.51L612.58,116.49L613.08,116.47L613.58,116.44L614.08,116.4L614.58,116.31L615.08,116.12L615.58,115.9L616.08,115.63L616.58,115.26L617.08,114.73L617.59,114.02L618.09,112.87L618.59,111.16L619.09,108.8L619.59,105.85L620.09,102.67L620.59,99.65L621.09,97.52L621.59,96.97L622.09,98.25L622.59,100.82L623.09,103.96L623.59,107.02L624.1,109.55L624.6,111.3L625.1,112.03L625.6,111.72L626.1,110.39L626.6,108L627.1,104.57L627.6,100.4L628.1,96L628.6,92.05L629.1,89.58L629.6,89.51L630.1,91.89L630.61,95.85L631.11,100.41L631.61,104.75L632.11,108.37L632.61,111.09L633.11,113.06L633.61,114.35L634.11,115.17L634.61,115.69L635.11,116.05L635.61,116.27L636.11,116.42L636.61,116.55L637.12,116.66L637.62,116.75L638.12,116.67L638.62,116.49L639.12,116.3L639.62,116.09L640.12,115.89L640.62,115.82L641.12,115.92L641.62,116.01L642.12,116.09L642.62,116.16L643.12,116.17L643.63,116.01L644.13,115.82L644.63,115.59L645.13,115.29L645.63,114.89L646.13,114.53L646.63,113.83L647.13,112.63L647.63,110.72L648.13,107.93L648.63,104.08L649.13,99.38L649.63,94.18L650.14,89.15L650.64,85.22L651.14,83.34L651.64,84.13L652.14,87.37L652.64,92.12L653.14,97.38L653.64,102.4L654.14,106.69L654.64,110.04L655.14,112.47L655.64,114.12L656.14,115.15L656.65,115.72L657.15,116.03L657.65,116.19L658.15,116.27L658.65,116.31L659.15,116.45L659.65,116.56L660.15,116.66L660.65,116.75L661.15,116.83L661.65,116.92L662.15,117.01L662.65,117.08L663.16,117.16L663.66,117.23L664.16,117.24L664.66,117.23L665.16,117.22L665.66,117.23L666.16,117.25L666.66,117.3L667.16,117.37L667.66,117.44L668.16,117.5L668.66,117.52L669.16,117.53L669.67,117.48L670.17,117.14L670.67,116.37L671.17,115.16L671.67,113.66L672.17,112.12L672.67,111.52L673.17,112.2L673.67,113.71L674.17,115.36L674.67,116.96L675.17,118.12L675.67,118.89L676.18,119.38L676.68,119.74L677.18,119.9L677.68,120L678.18,120.08L678.68,120.17L679.18,120.25L679.68,120.36L680.18,120.48L680.68,120.6L681.18,120.73L681.68,120.85L682.18,120.99L682.69,121.14L683.19,121.3L683.69,121.45L684.19,121.6L684.69,121.74L685.19,121.81L685.69,121.88L686.19,121.94L686.69,122.01L687.19,122.06L687.69,122.09L688.19,122.11L688.69,122.13L689.2,122.14L689.7,122.14L690.2,122.23L690.7,122.33L691.2,122.43L691.7,122.51L692.2,122.59L692.2,126.1Z" fill="#b07bdf"/>
<path d="M497.4,109.98L497.9,109.86L498.4,109.75L498.9,109.64L499.4,109.54L499.9,109.43L500.4,109.43L500.91,109.45L501.41,109.48L501.91,109.5L502.41,109.53L502.91,109.61L503.41,109.73L503.91,109.85L504.41,109.97L504.91,110.08L505.41,110.11L505.91,110.01L506.41,109.91L506.91,109.81L507.42,109.71L507.92,109.68L508.42,109.86L508.92,110.05L509.42,110.23L509.92,110.41L510.42,110.58L510.92,110.59L511.42,110.58L511.92,110.57L512.42,110.55L512.92,110.5L513.42,110.27L513.93,109.98L514.43,109.66L514.93,109.06L515.43,108.05L515.93,106.83L516.43,105.58L516.93,104.76L517.43,105.08L517.93,106.67L518.43,108.85L518.93,110.88L519.43,112.41L519.93,113.32L520.44,113.83L520.94,114.1L521.44,114.29L521.94,114.42L522.44,114.53L522.94,114.62L523.44,114.71L523.94,114.83L524.44,114.95L524.94,115.07L525.44,115.19L525.94,115.31L526.44,115.37L526.95,115.42L527.45,115.47L527.95,115.52L528.45,115.56L528.95,115.51L529.45,115.42L529.95,115.32L530.45,115.22L530.95,115.12L531.45,115.14L531.95,115.27L532.45,115.4L532.95,115.52L533.46,115.64L533.96,115.72L534.46,115.72L534.96,115.71L535.46,115.69L535.96,115.66L536.46,115.61L536.96,115.56L537.46,115.4L537.96,115.02L538.46,114.29L538.96,113.07L539.46,111.16L539.97,109.08L540.47,107.48L540.97,107.09L541.47,108.05L541.97,110.03L542.47,112.12L542.97,113.81L543.47,115L543.97,115.77L544.47,116.07L544.97,116.07L545.47,116.01L545.97,115.93L546.48,115.83L546.98,115.78L547.48,115.83L547.98,115.87L548.48,115.9L548.98,115.94L549.48,116L549.98,116.17L550.48,116.34L550.98,116.51L551.48,116.68L551.98,116.85L552.48,116.98L552.99,117.1L553.49,117.22L553.99,117.34L554.49,117.46L554.99,117.56L555.49,117.66L555.99,117.75L556.49,117.84L556.99,117.94L557.49,117.94L557.99,117.87L558.49,117.8L558.99,117.73L559.5,117.65L560,117.68L560.5,117.85L561,118.02L561.5,118.19L562,118.36L562.5,118.47L563,118.34L563.5,118.21L564,118.08L564.5,117.95L565,117.82L565.5,118.09L566.01,118.35L566.51,118.61L567.01,118.87L567.51,119.13L568.01,119.08L568.51,118.96L569.01,118.84L569.51,118.71L570.01,118.56L570.51,118.52L571.01,118.56L571.51,118.6L572.01,118.64L572.52,118.67L573.02,118.64L573.52,118.51L574.02,118.39L574.52,118.26L575.02,118.14L575.52,118.03L576.02,117.98L576.52,117.93L577.02,117.87L577.52,117.82L578.02,117.77L578.52,117.72L579.03,117.68L579.53,117.63L580.03,117.59L580.53,117.54L581.03,117.62L581.53,117.72L582.03,117.82L582.53,117.92L583.03,118.02L583.53,118.02L584.03,117.98L584.53,117.93L585.03,117.89L585.54,117.84L586.04,117.83L586.54,117.86L587.04,117.88L587.54,117.91L588.04,117.93L588.54,117.95L589.04,117.93L589.54,117.91L590.04,117.89L590.54,117.87L591.04,117.84L591.54,117.72L592.05,117.6L592.55,117.48L593.05,117.37L593.55,117.25L594.05,117.31L594.55,117.39L595.05,117.46L595.55,117.53L596.05,117.6L596.55,117.49L597.05,117.3L597.55,117.09L598.06,116.87L598.56,116.6L599.06,116.4L599.56,116.15L600.06,115.55L600.56,114.45L601.06,112.82L601.56,110.8L602.06,108.84L602.56,107.99L603.06,108.65L603.56,110.34L604.06,112.27L604.57,114.13L605.07,115.45L605.57,116.29L606.07,116.79L606.57,117.11L607.07,117.08L607.57,116.98L608.07,116.86L608.57,116.74L609.07,116.61L609.57,116.57L610.07,116.57L610.57,116.56L611.08,116.54L611.58,116.52L612.08,116.51L612.58,116.49L613.08,116.47L613.58,116.44L614.08,116.4L614.58,116.31L615.08,116.12L615.58,115.9L616.08,115.63L616.58,115.26L617.08,114.73L617.59,114.02L618.09,112.87L618.59,111.16L619.09,108.8L619.59,105.85L620.09,102.67L620.59,99.65L621.09,97.52L621.59,96.97L622.09,98.25L622.59,100.82L623.09,103.96L623.59,107.02L624.1,109.55L624.6,111.3L625.1,112.03L625.6,111.72L626.1,110.39L626.6,108L627.1,104.57L627.6,100.4L628.1,96L628.6,92.05L629.1,89.58L629.6,89.51L630.1,91.89L630.61,95.85L631.11,100.41L631.61,104.75L632.11,108.37L632.61,111.09L633.11,113.06L633.61,114.35L634.11,115.17L634.61,115.69L635.11,116.05L635.61,116.27L636.11,116.42L636.61,116.55L637.12,116.66L637.62,116.75L638.12,116.67L638.62,116.49L639.12,116.3L639.62,116.09L640.12,115.89L640.62,115.82L641.12,115.92L641.62,116.01L642.12,116.09L642.62,116.16L643.12,116.17L643.63,116.01L644.13,115.82L644.63,115.59L645.13,115.29L645.63,114.89L646.13,114.53L646.63,113.83L647.13,112.63L647.63,110.72L648.13,107.93L648.63,104.08L649.13,99.38L649.63,94.18L650.14,89.15L650.64,85.22L651.14,83.34L651.64,84.13L652.14,87.37L652.64,92.12L653.14,97.38L653.64,102.4L654.14,106.69L654.64,110.04L655.14,112.47L655.64,114.12L656.14,115.15L656.65,115.72L657.15,116.03L657.65,116.19L658.15,116.27L658.65,116.31L659.15,116.45L659.65,116.56L660.15,116.66L660.65,116.75L661.15,116.83L661.65,116.92L662.15,117.01L662.65,117.08L663.16,117.16L663.66,117.23L664.16,117.24L664.66,117.23L665.16,117.22L665.66,117.23L666.16,117.25L666.66,117.3L667.16,117.37L667.66,117.44L668.16,117.5L668.66,117.52L669.16,117.53L669.67,117.48L670.17,117.14L670.67,116.37L671.17,115.16L671.67,113.66L672.17,112.12L672.67,111.52L673.17,112.2L673.67,113.71L674.17,115.36L674.67,116.96L675.17,118.12L675.67,118.89L676.18,119.38L676.68,119.74L677.18,119.9L677.68,120L678.18,120.08L678.68,120.17L679.18,120.25L679.68,120.36L680.18,120.48L680.68,120.6L681.18,120.73L681.68,120.85L682.18,120.99L682.69,121.14L683.19,121.3L683.69,121.45L684.19,121.6L684.69,121.74L685.19,121.81L685.69,121.88L686.19,121.94L686.69,122.01L687.19,122.06L687.69,122.09L688.19,122.11L688.69,122.13L689.2,122.14L689.7,122.14L690.2,122.23L690.7,122.33L691.2,122.43L691.7,122.51L692.2,122.59" fill="none" stroke="#262626" stroke-width="0.9" stroke-linejoin="round"/>
<path d="M486,137.5L486,121.58L486.5,121.57L487,121.56L487.5,121.55L488,121.53L488.5,121.52L489.01,121.53L489.51,121.56L490.01,121.58L490.51,121.6L491.01,121.63L491.51,121.5L492.01,121.29L492.51,121.08L493.01,120.88L493.51,120.68L494.02,120.57L494.52,120.58L495.02,120.69L495.52,120.97L496.02,121.48L496.52,122.3L497.02,123.41L497.52,124.4L498.02,124.85L498.52,124.58L499.03,123.81L499.53,122.67L500.03,121.69L500.53,120.97L501.03,120.57L501.53,120.74L502.03,121.27L502.53,121.84L503.03,122.23L503.53,122.11L504.04,121.54L504.54,120.61L505.04,119.2L505.54,117.42L506.04,115.73L506.54,114.87L507.04,115.32L507.54,116.81L508.04,118.67L508.54,120.31L509.05,121.46L509.55,122.21L510.05,122.84L510.55,123.26L511.05,123.58L511.55,123.86L512.05,124.1L512.55,124.09L513.05,124.08L513.55,124.07L514.06,124.05L514.56,124.04L515.06,124.02L515.56,124L516.06,123.99L516.56,123.97L517.06,123.95L517.56,124.15L518.06,124.42L518.56,124.69L519.07,124.97L519.57,125.24L520.07,125.36L520.57,125.35L521.07,125.33L521.57,125.32L522.07,125.3L522.57,125.27L523.07,125.2L523.57,125.14L524.08,125.06L524.58,124.98L525.08,124.94L525.58,125.13L526.08,125.31L526.58,125.46L527.08,125.58L527.58,125.63L528.08,125.32L528.58,124.7L529.09,123.63L529.59,122.08L530.09,120.23L530.59,118.62L531.09,118L531.59,118.77L532.09,120.51L532.59,122.45L533.09,124.08L533.59,125.2L534.1,125.87L534.6,126.24L535.1,126.44L535.6,126.6L536.1,126.78L536.6,126.95L537.1,127.11L537.6,127.27L538.1,127.37L538.6,127.22L539.1,127.08L539.61,126.93L540.11,126.79L540.61,126.65L541.11,126.96L541.61,127.26L542.11,127.57L542.61,127.88L543.11,128.19L543.61,128.25L544.11,128.26L544.62,128.28L545.12,128.29L545.62,128.3L546.12,128.3L546.62,128.3L547.12,128.29L547.62,128.29L548.12,128.28L548.62,128.35L549.12,128.52L549.63,128.68L550.13,128.84L550.63,129L551.13,129.12L551.63,129.13L552.13,129.14L552.63,129.14L553.13,129.15L553.63,129.15L554.13,129.28L554.64,129.41L555.14,129.54L555.64,129.66L556.14,129.77L556.64,129.83L557.14,129.87L557.64,129.87L558.14,129.87L558.64,129.87L559.14,129.83L559.65,129.77L560.15,129.72L560.65,129.66L561.15,129.6L561.65,129.51L562.15,129.39L562.65,129.27L563.15,129.15L563.65,129.03L564.15,128.96L564.66,129.01L565.16,129.05L565.66,129.1L566.16,129.14L566.66,129.18L567.16,129.13L567.66,129.09L568.16,129.04L568.66,129L569.16,128.96L569.67,129.03L570.17,129.11L570.67,129.19L571.17,129.28L571.67,129.36L572.17,129.4L572.67,129.42L573.17,129.44L573.67,129.47L574.17,129.49L574.68,129.48L575.18,129.43L575.68,129.38L576.18,129.33L576.68,129.27L577.18,129.19L577.68,129.1L578.18,129L578.68,128.89L579.18,128.78L579.69,128.67L580.19,128.53L580.69,128.38L581.19,128.24L581.69,128.09L582.19,127.94L582.69,127.99L583.19,128.04L583.69,128.1L584.19,128.15L584.7,128.21L585.2,128.08L585.7,127.91L586.2,127.74L586.7,127.57L587.2,127.4L587.7,127.39L588.2,127.5L588.7,127.6L589.2,127.71L589.7,127.81L590.21,127.76L590.71,127.5L591.21,127.22L591.71,126.87L592.21,126.37L592.71,125.67L593.21,124.86L593.71,123.59L594.21,122.04L594.71,120.66L595.22,120.13L595.72,120.49L596.22,121.77L596.72,123.28L597.22,124.54L597.72,125.35L598.22,126.08L598.72,126.58L599.22,126.91L599.72,127.16L600.23,127.38L600.73,127.4L601.23,127.31L601.73,127.21L602.23,127.12L602.73,127.01L603.23,126.97L603.73,127.02L604.23,127.05L604.73,127.09L605.24,127.12L605.74,127.12L606.24,127.04L606.74,126.97L607.24,126.88L607.74,126.79L608.24,126.68L608.74,126.55L609.24,126.39L609.74,126.16L610.25,125.79L610.75,125.19L611.25,124.29L611.75,122.87L612.25,120.81L612.75,118.08L613.25,114.81L613.75,111.44L614.25,108.57L614.75,106.98L615.26,107.25L615.76,109.29L616.26,112.3L616.76,115.5L617.26,118.4L617.76,120.63L618.26,122.04L618.76,122.61L619.26,122.35L619.76,121.13L620.27,118.86L620.77,115.54L621.27,111.33L621.77,106.72L622.27,102.43L622.77,99.52L623.27,99L623.77,101.13L624.27,104.96L624.77,109.58L625.28,114.08L625.78,117.89L626.28,120.76L626.78,122.86L627.28,124.25L627.78,125.12L628.28,125.65L628.78,125.99L629.28,126.21L629.78,126.37L630.29,126.5L630.79,126.61L631.29,126.7L631.79,126.76L632.29,126.8L632.79,126.82L633.29,126.84L633.79,126.84L634.29,126.83L634.79,126.75L635.3,126.65L635.8,126.55L636.3,126.45L636.8,126.33L637.3,126.42L637.8,126.5L638.3,126.55L638.8,126.59L639.3,126.58L639.8,126.35L640.3,125.95L640.81,125.34L641.31,124.41L641.81,122.97L642.31,120.83L642.81,117.85L643.31,113.98L643.81,109.35L644.31,104.35L644.81,99.68L645.31,96.27L645.82,94.95L646.32,96.16L646.82,99.54L647.32,104.14L647.82,109L648.32,113.53L648.82,117.33L649.32,120.25L649.82,122.33L650.32,123.83L650.83,124.82L651.33,125.46L651.83,125.88L652.33,126.18L652.83,126.3L653.33,126.37L653.83,126.41L654.33,126.43L654.83,126.44L655.33,126.51L655.84,126.62L656.34,126.73L656.84,126.84L657.34,126.95L657.84,127.08L658.34,127.23L658.84,127.38L659.34,127.52L659.84,127.67L660.34,127.8L660.85,127.89L661.35,127.99L661.85,128.07L662.35,128.16L662.85,128.21L663.35,128.15L663.85,128.06L664.35,127.91L664.85,127.67L665.35,127.25L665.86,126.69L666.36,125.78L666.86,124.59L667.36,123.38L667.86,122.66L668.36,122.91L668.86,124.08L669.36,125.63L669.86,127.08L670.36,128.19L670.87,128.93L671.37,129.38L671.87,129.64L672.37,129.81L672.87,129.95L673.37,130.1L673.87,130.29L674.37,130.48L674.87,130.67L675.37,130.87L675.88,131.04L676.38,131.02L676.88,130.99L677.38,130.97L677.88,130.96L678.38,130.94L678.88,131.21L679.38,131.48L679.88,131.76L680.38,132.04L680.89,132.32L681.39,132.45L681.89,132.55L682.39,132.64L682.89,132.73L683.39,132.82L683.89,132.97L684.39,133.18L684.89,133.38L685.39,133.57L685.9,133.76L686.4,133.89L686.9,133.93L687.4,133.97L687.9,134L688.4,134.01L688.4,137.5Z" fill="#39aa6b"/>
<path d="M486,121.58L486.5,121.57L487,121.56L487.5,121.55L488,121.53L488.5,121.52L489.01,121.53L489.51,121.56L490.01,121.58L490.51,121.6L491.01,121.63L491.51,121.5L492.01,121.29L492.51,121.08L493.01,120.88L493.51,120.68L494.02,120.57L494.52,120.58L495.02,120.69L495.52,120.97L496.02,121.48L496.52,122.3L497.02,123.41L497.52,124.4L498.02,124.85L498.52,124.58L499.03,123.81L499.53,122.67L500.03,121.69L500.53,120.97L501.03,120.57L501.53,120.74L502.03,121.27L502.53,121.84L503.03,122.23L503.53,122.11L504.04,121.54L504.54,120.61L505.04,119.2L505.54,117.42L506.04,115.73L506.54,114.87L507.04,115.32L507.54,116.81L508.04,118.67L508.54,120.31L509.05,121.46L509.55,122.21L510.05,122.84L510.55,123.26L511.05,123.58L511.55,123.86L512.05,124.1L512.55,124.09L513.05,124.08L513.55,124.07L514.06,124.05L514.56,124.04L515.06,124.02L515.56,124L516.06,123.99L516.56,123.97L517.06,123.95L517.56,124.15L518.06,124.42L518.56,124.69L519.07,124.97L519.57,125.24L520.07,125.36L520.57,125.35L521.07,125.33L521.57,125.32L522.07,125.3L522.57,125.27L523.07,125.2L523.57,125.14L524.08,125.06L524.58,124.98L525.08,124.94L525.58,125.13L526.08,125.31L526.58,125.46L527.08,125.58L527.58,125.63L528.08,125.32L528.58,124.7L529.09,123.63L529.59,122.08L530.09,120.23L530.59,118.62L531.09,118L531.59,118.77L532.09,120.51L532.59,122.45L533.09,124.08L533.59,125.2L534.1,125.87L534.6,126.24L535.1,126.44L535.6,126.6L536.1,126.78L536.6,126.95L537.1,127.11L537.6,127.27L538.1,127.37L538.6,127.22L539.1,127.08L539.61,126.93L540.11,126.79L540.61,126.65L541.11,126.96L541.61,127.26L542.11,127.57L542.61,127.88L543.11,128.19L543.61,128.25L544.11,128.26L544.62,128.28L545.12,128.29L545.62,128.3L546.12,128.3L546.62,128.3L547.12,128.29L547.62,128.29L548.12,128.28L548.62,128.35L549.12,128.52L549.63,128.68L550.13,128.84L550.63,129L551.13,129.12L551.63,129.13L552.13,129.14L552.63,129.14L553.13,129.15L553.63,129.15L554.13,129.28L554.64,129.41L555.14,129.54L555.64,129.66L556.14,129.77L556.64,129.83L557.14,129.87L557.64,129.87L558.14,129.87L558.64,129.87L559.14,129.83L559.65,129.77L560.15,129.72L560.65,129.66L561.15,129.6L561.65,129.51L562.15,129.39L562.65,129.27L563.15,129.15L563.65,129.03L564.15,128.96L564.66,129.01L565.16,129.05L565.66,129.1L566.16,129.14L566.66,129.18L567.16,129.13L567.66,129.09L568.16,129.04L568.66,129L569.16,128.96L569.67,129.03L570.17,129.11L570.67,129.19L571.17,129.28L571.67,129.36L572.17,129.4L572.67,129.42L573.17,129.44L573.67,129.47L574.17,129.49L574.68,129.48L575.18,129.43L575.68,129.38L576.18,129.33L576.68,129.27L577.18,129.19L577.68,129.1L578.18,129L578.68,128.89L579.18,128.78L579.69,128.67L580.19,128.53L580.69,128.38L581.19,128.24L581.69,128.09L582.19,127.94L582.69,127.99L583.19,128.04L583.69,128.1L584.19,128.15L584.7,128.21L585.2,128.08L585.7,127.91L586.2,127.74L586.7,127.57L587.2,127.4L587.7,127.39L588.2,127.5L588.7,127.6L589.2,127.71L589.7,127.81L590.21,127.76L590.71,127.5L591.21,127.22L591.71,126.87L592.21,126.37L592.71,125.67L593.21,124.86L593.71,123.59L594.21,122.04L594.71,120.66L595.22,120.13L595.72,120.49L596.22,121.77L596.72,123.28L597.22,124.54L597.72,125.35L598.22,126.08L598.72,126.58L599.22,126.91L599.72,127.16L600.23,127.38L600.73,127.4L601.23,127.31L601.73,127.21L602.23,127.12L602.73,127.01L603.23,126.97L603.73,127.02L604.23,127.05L604.73,127.09L605.24,127.12L605.74,127.12L606.24,127.04L606.74,126.97L607.24,126.88L607.74,126.79L608.24,126.68L608.74,126.55L609.24,126.39L609.74,126.16L610.25,125.79L610.75,125.19L611.25,124.29L611.75,122.87L612.25,120.81L612.75,118.08L613.25,114.81L613.75,111.44L614.25,108.57L614.75,106.98L615.26,107.25L615.76,109.29L616.26,112.3L616.76,115.5L617.26,118.4L617.76,120.63L618.26,122.04L618.76,122.61L619.26,122.35L619.76,121.13L620.27,118.86L620.77,115.54L621.27,111.33L621.77,106.72L622.27,102.43L622.77,99.52L623.27,99L623.77,101.13L624.27,104.96L624.77,109.58L625.28,114.08L625.78,117.89L626.28,120.76L626.78,122.86L627.28,124.25L627.78,125.12L628.28,125.65L628.78,125.99L629.28,126.21L629.78,126.37L630.29,126.5L630.79,126.61L631.29,126.7L631.79,126.76L632.29,126.8L632.79,126.82L633.29,126.84L633.79,126.84L634.29,126.83L634.79,126.75L635.3,126.65L635.8,126.55L636.3,126.45L636.8,126.33L637.3,126.42L637.8,126.5L638.3,126.55L638.8,126.59L639.3,126.58L639.8,126.35L640.3,125.95L640.81,125.34L641.31,124.41L641.81,122.97L642.31,120.83L642.81,117.85L643.31,113.98L643.81,109.35L644.31,104.35L644.81,99.68L645.31,96.27L645.82,94.95L646.32,96.16L646.82,99.54L647.32,104.14L647.82,109L648.32,113.53L648.82,117.33L649.32,120.25L649.82,122.33L650.32,123.83L650.83,124.82L651.33,125.46L651.83,125.88L652.33,126.18L652.83,126.3L653.33,126.37L653.83,126.41L654.33,126.43L654.83,126.44L655.33,126.51L655.84,126.62L656.34,126.73L656.84,126.84L657.34,126.95L657.84,127.08L658.34,127.23L658.84,127.38L659.34,127.52L659.84,127.67L660.34,127.8L660.85,127.89L661.35,127.99L661.85,128.07L662.35,128.16L662.85,128.21L663.35,128.15L663.85,128.06L664.35,127.91L664.85,127.67L665.35,127.25L665.86,126.69L666.36,125.78L666.86,124.59L667.36,123.38L667.86,122.66L668.36,122.91L668.86,124.08L669.36,125.63L669.86,127.08L670.36,128.19L670.87,128.93L671.37,129.38L671.87,129.64L672.37,129.81L672.87,129.95L673.37,130.1L673.87,130.29L674.37,130.48L674.87,130.67L675.37,130.87L675.88,131.04L676.38,131.02L676.88,130.99L677.38,130.97L677.88,130.96L678.38,130.94L678.88,131.21L679.38,131.48L679.88,131.76L680.38,132.04L680.89,132.32L681.39,132.45L681.89,132.55L682.39,132.64L682.89,132.73L683.39,132.82L683.89,132.97L684.39,133.18L684.89,133.38L685.39,133.57L685.9,133.76L686.4,133.89L686.9,133.93L687.4,133.97L687.9,134L688.4,134.01" fill="none" stroke="#262626" stroke-width="0.9" stroke-linejoin="round"/>
<path d="M473.4,149.9L473.4,134.94L473.9,134.96L474.4,134.99L474.9,135.03L475.4,135.07L475.9,135.11L476.4,135.24L476.9,135.39L477.4,135.54L477.9,135.7L478.4,135.86L478.9,135.9L479.4,135.86L479.9,135.82L480.4,135.8L480.9,135.79L481.4,135.85L481.9,136.03L482.4,136.33L482.9,136.76L483.4,137.29L483.9,137.84L484.4,138.27L484.9,138.33L485.4,138.06L485.9,137.65L486.4,137.28L486.9,136.94L487.4,136.73L487.9,136.61L488.4,136.61L488.9,136.72L489.4,136.86L489.9,137.02L490.4,137.15L490.9,137.22L491.4,137.15L491.9,136.96L492.4,136.6L492.9,135.96L493.4,135.01L493.9,133.9L494.4,132.97L494.9,132.72L495.4,133.37L495.9,134.62L496.4,135.98L496.9,137.08L497.4,137.65L497.9,137.92L498.4,137.99L498.9,137.96L499.4,137.88L499.9,137.96L500.4,138.03L500.9,138.1L501.4,138.16L501.9,138.23L502.4,138.25L502.9,138.26L503.4,138.28L503.9,138.29L504.4,138.3L504.9,138.37L505.4,138.47L505.9,138.56L506.4,138.66L506.9,138.76L507.4,138.83L507.9,138.84L508.4,138.85L508.9,138.87L509.4,138.88L509.9,138.94L510.4,139.18L510.9,139.43L511.4,139.67L511.9,139.91L512.4,140.15L512.9,140.02L513.4,139.89L513.9,139.75L514.4,139.61L514.9,139.47L515.4,139.56L515.9,139.71L516.4,139.85L516.9,139.94L517.4,139.91L517.9,139.48L518.4,138.63L518.9,137.51L519.4,136.27L519.9,135.26L520.4,135.05L520.9,135.87L521.4,137.15L521.9,138.47L522.4,139.58L522.9,140.33L523.4,140.61L523.9,140.71L524.4,140.73L524.9,140.71L525.4,140.67L525.9,140.75L526.4,140.84L526.9,140.92L527.4,141L527.9,141.08L528.4,141.13L528.9,141.16L529.4,141.19L529.9,141.22L530.4,141.26L530.9,141.24L531.4,141.19L531.9,141.14L532.4,141.09L532.9,141.04L533.4,141.03L533.9,141.06L534.4,141.1L534.9,141.14L535.4,141.17L535.9,141.23L536.4,141.38L536.9,141.53L537.4,141.68L537.9,141.83L538.4,141.98L538.9,141.9L539.4,141.82L539.9,141.74L540.4,141.66L540.9,141.59L541.4,141.59L541.9,141.61L542.4,141.63L542.9,141.65L543.4,141.67L543.9,141.81L544.4,142.03L544.9,142.26L545.4,142.48L545.9,142.7L546.4,142.84L546.9,142.85L547.4,142.86L547.9,142.88L548.4,142.89L548.9,142.89L549.4,142.85L549.9,142.8L550.4,142.76L550.9,142.71L551.4,142.67L551.9,142.77L552.4,142.87L552.9,142.96L553.4,143.06L553.9,143.15L554.4,143.27L554.9,143.4L555.4,143.52L555.9,143.64L556.4,143.76L556.9,143.74L557.4,143.62L557.9,143.5L558.4,143.38L558.9,143.25L559.4,143.17L559.9,143.16L560.4,143.1L560.9,143.02L561.4,142.94L561.9,142.87L562.4,142.88L562.9,142.89L563.4,142.89L563.9,142.89L564.4,142.89L564.9,142.76L565.4,142.63L565.9,142.49L566.4,142.36L566.9,142.22L567.4,142.17L567.9,142.15L568.4,142.12L568.9,142.1L569.4,142.08L569.9,141.99L570.4,141.85L570.9,141.72L571.4,141.59L571.9,141.48L572.4,141.46L572.9,141.64L573.4,141.82L573.9,142.01L574.4,142.19L574.9,142.35L575.4,142.37L575.9,142.4L576.4,142.43L576.9,142.46L577.4,142.5L577.9,142.42L578.4,142.34L578.9,142.26L579.4,142.18L579.9,142.1L580.4,142.1L580.9,142.12L581.4,142.14L581.9,142.15L582.4,142.15L582.9,142.11L583.4,142.02L583.9,141.83L584.4,141.48L584.9,140.86L585.4,140L585.9,139.04L586.4,138.12L586.9,137.71L587.4,138.14L587.9,139.23L588.4,140.41L588.9,141.46L589.4,142.22L589.9,142.68L590.4,142.93L590.9,143.02L591.4,143.05L591.9,143.05L592.4,143.03L592.9,142.94L593.4,142.77L593.9,142.58L594.4,142.37L594.9,142.15L595.4,141.92L595.9,141.75L596.4,141.62L596.9,141.49L597.4,141.36L597.9,141.24L598.4,141.17L598.9,141.19L599.4,141.22L599.9,141.27L600.4,141.32L600.9,141.33L601.4,141.11L601.9,140.85L602.4,140.55L602.9,140.16L603.4,139.62L603.9,139.1L604.4,138.27L604.9,137.06L605.4,135.47L605.9,133.6L606.4,131.55L606.9,129.83L607.4,128.91L607.9,129.08L608.4,130.22L608.9,131.87L609.4,133.62L609.9,135.16L610.4,136.32L610.9,137.03L611.4,137.34L611.9,137.27L612.4,136.73L612.9,135.66L613.4,134.02L613.9,131.85L614.4,129.38L614.9,126.83L615.4,124.75L615.9,123.75L616.4,124.27L616.9,125.84L617.4,128.2L617.9,130.74L618.4,133.04L618.9,134.87L619.4,136.35L619.9,137.41L620.4,138.1L620.9,138.55L621.4,138.85L621.9,139.03L622.4,139.14L622.9,139.22L623.4,139.29L623.9,139.34L624.4,139.35L624.9,139.29L625.4,139.22L625.9,139.15L626.4,139.08L626.9,139.02L627.4,139.05L627.9,139.07L628.4,139.09L628.9,139.1L629.4,139.11L629.9,139.18L630.4,139.24L630.9,139.3L631.4,139.35L631.9,139.39L632.4,139.33L632.9,139.23L633.4,139.09L633.9,138.9L634.4,138.62L634.9,138.16L635.4,137.42L635.9,136.32L636.4,134.76L636.9,132.68L637.4,130.14L637.9,127.31L638.4,124.45L638.9,122.03L639.4,120.6L639.9,120.56L640.4,121.89L640.9,124.19L641.4,126.9L641.9,129.58L642.4,131.94L642.9,133.85L643.4,135.33L643.9,136.37L644.4,137.08L644.9,137.56L645.4,137.93L645.9,138.23L646.4,138.49L646.9,138.71L647.4,138.93L647.9,139.04L648.4,139.08L648.9,139.13L649.4,139.17L649.9,139.2L650.4,139.33L650.9,139.61L651.4,139.88L651.9,140.15L652.4,140.42L652.9,140.62L653.4,140.61L653.9,140.59L654.4,140.57L654.9,140.54L655.4,140.5L655.9,140.58L656.4,140.65L656.9,140.71L657.4,140.76L657.9,140.8L658.4,140.96L658.9,141.13L659.4,141.23L659.9,141.27L660.4,141.13L660.9,140.52L661.4,139.5L661.9,138.4L662.4,137.55L662.9,137.39L663.4,138.12L663.9,139.46L664.4,140.81L664.9,141.92L665.4,142.73L665.9,143.25L666.4,143.52L666.9,143.68L667.4,143.8L667.9,143.9L668.4,144.01L668.9,144.05L669.4,144.09L669.9,144.14L670.4,144.18L670.9,144.23L671.4,144.37L671.9,144.54L672.4,144.71L672.9,144.87L673.4,145.04L673.9,145.14L674.4,145.18L674.9,145.23L675.4,145.27L675.9,145.31L676.4,145.36L676.9,145.39L677.4,145.43L677.9,145.47L678.4,145.5L678.9,145.52L679.4,145.47L679.9,145.42L680.4,145.37L680.9,145.32L681.4,145.26L681.9,145.54L682.4,145.81L682.9,146.08L683.4,146.35L683.9,146.61L683.9,149.9Z" fill="#1b6fdd"/>
<path d="M473.4,134.94L473.9,134.96L474.4,134.99L474.9,135.03L475.4,135.07L475.9,135.11L476.4,135.24L476.9,135.39L477.4,135.54L477.9,135.7L478.4,135.86L478.9,135.9L479.4,135.86L479.9,135.82L480.4,135.8L480.9,135.79L481.4,135.85L481.9,136.03L482.4,136.33L482.9,136.76L483.4,137.29L483.9,137.84L484.4,138.27L484.9,138.33L485.4,138.06L485.9,137.65L486.4,137.28L486.9,136.94L487.4,136.73L487.9,136.61L488.4,136.61L488.9,136.72L489.4,136.86L489.9,137.02L490.4,137.15L490.9,137.22L491.4,137.15L491.9,136.96L492.4,136.6L492.9,135.96L493.4,135.01L493.9,133.9L494.4,132.97L494.9,132.72L495.4,133.37L495.9,134.62L496.4,135.98L496.9,137.08L497.4,137.65L497.9,137.92L498.4,137.99L498.9,137.96L499.4,137.88L499.9,137.96L500.4,138.03L500.9,138.1L501.4,138.16L501.9,138.23L502.4,138.25L502.9,138.26L503.4,138.28L503.9,138.29L504.4,138.3L504.9,138.37L505.4,138.47L505.9,138.56L506.4,138.66L506.9,138.76L507.4,138.83L507.9,138.84L508.4,138.85L508.9,138.87L509.4,138.88L509.9,138.94L510.4,139.18L510.9,139.43L511.4,139.67L511.9,139.91L512.4,140.15L512.9,140.02L513.4,139.89L513.9,139.75L514.4,139.61L514.9,139.47L515.4,139.56L515.9,139.71L516.4,139.85L516.9,139.94L517.4,139.91L517.9,139.48L518.4,138.63L518.9,137.51L519.4,136.27L519.9,135.26L520.4,135.05L520.9,135.87L521.4,137.15L521.9,138.47L522.4,139.58L522.9,140.33L523.4,140.61L523.9,140.71L524.4,140.73L524.9,140.71L525.4,140.67L525.9,140.75L526.4,140.84L526.9,140.92L527.4,141L527.9,141.08L528.4,141.13L528.9,141.16L529.4,141.19L529.9,141.22L530.4,141.26L530.9,141.24L531.4,141.19L531.9,141.14L532.4,141.09L532.9,141.04L533.4,141.03L533.9,141.06L534.4,141.1L534.9,141.14L535.4,141.17L535.9,141.23L536.4,141.38L536.9,141.53L537.4,141.68L537.9,141.83L538.4,141.98L538.9,141.9L539.4,141.82L539.9,141.74L540.4,141.66L540.9,141.59L541.4,141.59L541.9,141.61L542.4,141.63L542.9,141.65L543.4,141.67L543.9,141.81L544.4,142.03L544.9,142.26L545.4,142.48L545.9,142.7L546.4,142.84L546.9,142.85L547.4,142.86L547.9,142.88L548.4,142.89L548.9,142.89L549.4,142.85L549.9,142.8L550.4,142.76L550.9,142.71L551.4,142.67L551.9,142.77L552.4,142.87L552.9,142.96L553.4,143.06L553.9,143.15L554.4,143.27L554.9,143.4L555.4,143.52L555.9,143.64L556.4,143.76L556.9,143.74L557.4,143.62L557.9,143.5L558.4,143.38L558.9,143.25L559.4,143.17L559.9,143.16L560.4,143.1L560.9,143.02L561.4,142.94L561.9,142.87L562.4,142.88L562.9,142.89L563.4,142.89L563.9,142.89L564.4,142.89L564.9,142.76L565.4,142.63L565.9,142.49L566.4,142.36L566.9,142.22L567.4,142.17L567.9,142.15L568.4,142.12L568.9,142.1L569.4,142.08L569.9,141.99L570.4,141.85L570.9,141.72L571.4,141.59L571.9,141.48L572.4,141.46L572.9,141.64L573.4,141.82L573.9,142.01L574.4,142.19L574.9,142.35L575.4,142.37L575.9,142.4L576.4,142.43L576.9,142.46L577.4,142.5L577.9,142.42L578.4,142.34L578.9,142.26L579.4,142.18L579.9,142.1L580.4,142.1L580.9,142.12L581.4,142.14L581.9,142.15L582.4,142.15L582.9,142.11L583.4,142.02L583.9,141.83L584.4,141.48L584.9,140.86L585.4,140L585.9,139.04L586.4,138.12L586.9,137.71L587.4,138.14L587.9,139.23L588.4,140.41L588.9,141.46L589.4,142.22L589.9,142.68L590.4,142.93L590.9,143.02L591.4,143.05L591.9,143.05L592.4,143.03L592.9,142.94L593.4,142.77L593.9,142.58L594.4,142.37L594.9,142.15L595.4,141.92L595.9,141.75L596.4,141.62L596.9,141.49L597.4,141.36L597.9,141.24L598.4,141.17L598.9,141.19L599.4,141.22L599.9,141.27L600.4,141.32L600.9,141.33L601.4,141.11L601.9,140.85L602.4,140.55L602.9,140.16L603.4,139.62L603.9,139.1L604.4,138.27L604.9,137.06L605.4,135.47L605.9,133.6L606.4,131.55L606.9,129.83L607.4,128.91L607.9,129.08L608.4,130.22L608.9,131.87L609.4,133.62L609.9,135.16L610.4,136.32L610.9,137.03L611.4,137.34L611.9,137.27L612.4,136.73L612.9,135.66L613.4,134.02L613.9,131.85L614.4,129.38L614.9,126.83L615.4,124.75L615.9,123.75L616.4,124.27L616.9,125.84L617.4,128.2L617.9,130.74L618.4,133.04L618.9,134.87L619.4,136.35L619.9,137.41L620.4,138.1L620.9,138.55L621.4,138.85L621.9,139.03L622.4,139.14L622.9,139.22L623.4,139.29L623.9,139.34L624.4,139.35L624.9,139.29L625.4,139.22L625.9,139.15L626.4,139.08L626.9,139.02L627.4,139.05L627.9,139.07L628.4,139.09L628.9,139.1L629.4,139.11L629.9,139.18L630.4,139.24L630.9,139.3L631.4,139.35L631.9,139.39L632.4,139.33L632.9,139.23L633.4,139.09L633.9,138.9L634.4,138.62L634.9,138.16L635.4,137.42L635.9,136.32L636.4,134.76L636.9,132.68L637.4,130.14L637.9,127.31L638.4,124.45L638.9,122.03L639.4,120.6L639.9,120.56L640.4,121.89L640.9,124.19L641.4,126.9L641.9,129.58L642.4,131.94L642.9,133.85L643.4,135.33L643.9,136.37L644.4,137.08L644.9,137.56L645.4,137.93L645.9,138.23L646.4,138.49L646.9,138.71L647.4,138.93L647.9,139.04L648.4,139.08L648.9,139.13L649.4,139.17L649.9,139.2L650.4,139.33L650.9,139.61L651.4,139.88L651.9,140.15L652.4,140.42L652.9,140.62L653.4,140.61L653.9,140.59L654.4,140.57L654.9,140.54L655.4,140.5L655.9,140.58L656.4,140.65L656.9,140.71L657.4,140.76L657.9,140.8L658.4,140.96L658.9,141.13L659.4,141.23L659.9,141.27L660.4,141.13L660.9,140.52L661.4,139.5L661.9,138.4L662.4,137.55L662.9,137.39L663.4,138.12L663.9,139.46L664.4,140.81L664.9,141.92L665.4,142.73L665.9,143.25L666.4,143.52L666.9,143.68L667.4,143.8L667.9,143.9L668.4,144.01L668.9,144.05L669.4,144.09L669.9,144.14L670.4,144.18L670.9,144.23L671.4,144.37L671.9,144.54L672.4,144.71L672.9,144.87L673.4,145.04L673.9,145.14L674.4,145.18L674.9,145.23L675.4,145.27L675.9,145.31L676.4,145.36L676.9,145.39L677.4,145.43L677.9,145.47L678.4,145.5L678.9,145.52L679.4,145.47L679.9,145.42L680.4,145.37L680.9,145.32L681.4,145.26L681.9,145.54L682.4,145.81L682.9,146.08L683.4,146.35L683.9,146.61" fill="none" stroke="#262626" stroke-width="0.9" stroke-linejoin="round"/>
<path d="M459.6,163.5L459.6,150.75L460.1,150.7L460.6,150.66L461.1,150.62L461.6,150.58L462.1,150.53L462.6,150.62L463.1,150.75L463.6,150.87L464.1,150.99L464.6,151.11L465.11,151.08L465.61,150.96L466.11,150.84L466.61,150.72L467.11,150.6L467.61,150.55L468.11,150.61L468.61,150.67L469.11,150.72L469.61,150.78L470.11,150.82L470.61,150.79L471.11,150.75L471.61,150.72L472.11,150.68L472.61,150.65L473.11,150.67L473.61,150.68L474.11,150.7L474.61,150.71L475.11,150.73L475.61,150.96L476.12,151.4L476.62,151.91L477.12,152.45L477.62,152.95L478.12,153.15L478.62,153.03L479.12,152.65L479.62,152.09L480.12,151.29L480.62,150.35L481.12,149.42L481.62,148.67L482.12,148.5L482.62,149.11L483.12,150.18L483.62,151.23L484.12,152.09L484.62,152.68L485.12,153.01L485.62,153.18L486.12,153.32L486.62,153.41L487.12,153.5L487.63,153.57L488.13,153.65L488.63,153.82L489.13,154.02L489.63,154.21L490.13,154.4L490.63,154.6L491.13,154.6L491.63,154.49L492.13,154.38L492.63,154.27L493.13,154.16L493.63,154.16L494.13,154.27L494.63,154.38L495.13,154.49L495.63,154.61L496.13,154.69L496.63,154.69L497.13,154.69L497.63,154.69L498.13,154.69L498.64,154.7L499.14,154.81L499.64,154.92L500.14,155.02L500.64,155.13L501.14,155.23L501.64,155.21L502.14,155.16L502.64,155.11L503.14,155.06L503.64,155L504.14,154.92L504.64,154.81L505.14,154.66L505.64,154.4L506.14,153.96L506.64,153.32L507.14,152.45L507.64,151.42L508.14,150.51L508.64,150.17L509.14,150.63L509.65,151.62L510.15,152.74L510.65,153.7L511.15,154.36L511.65,154.76L512.15,155.06L512.65,155.27L513.15,155.44L513.65,155.58L514.15,155.71L514.65,155.71L515.15,155.69L515.65,155.68L516.15,155.66L516.65,155.64L517.15,155.6L517.65,155.55L518.15,155.5L518.65,155.45L519.15,155.4L519.65,155.45L520.15,155.6L520.66,155.74L521.16,155.89L521.66,156.04L522.16,156.13L522.66,156.08L523.16,156.03L523.66,155.99L524.16,155.94L524.66,155.91L525.16,156L525.66,156.09L526.16,156.18L526.66,156.28L527.16,156.37L527.66,156.35L528.16,156.33L528.66,156.31L529.16,156.28L529.66,156.26L530.16,156.32L530.66,156.41L531.16,156.5L531.67,156.59L532.17,156.68L532.67,156.79L533.17,156.92L533.67,157.05L534.17,157.18L534.67,157.32L535.17,157.4L535.67,157.38L536.17,157.36L536.67,157.35L537.17,157.33L537.67,157.33L538.17,157.43L538.67,157.52L539.17,157.62L539.67,157.72L540.17,157.82L540.67,157.86L541.17,157.91L541.67,157.95L542.17,157.99L542.68,158.03L543.18,158.04L543.68,158.04L544.18,158.04L544.68,158.04L545.18,158.04L545.68,158.07L546.18,158.12L546.68,158.17L547.18,158.21L547.68,158.26L548.18,158.28L548.68,158.26L549.18,158.23L549.68,158.2L550.18,158.18L550.68,158.16L551.18,158.24L551.68,158.32L552.18,158.4L552.68,158.47L553.18,158.54L553.69,158.6L554.19,158.66L554.69,158.72L555.19,158.76L555.69,158.77L556.19,158.64L556.69,158.46L557.19,158.27L557.69,158.08L558.19,157.89L558.69,157.9L559.19,158.06L559.69,158.22L560.19,158.37L560.69,158.52L561.19,158.55L561.69,158.38L562.19,158.2L562.69,158.03L563.19,157.85L563.69,157.69L564.19,157.6L564.7,157.5L565.2,157.41L565.7,157.32L566.2,157.23L566.7,157.19L567.2,157.16L567.7,157.13L568.2,157.1L568.7,157.07L569.2,157.08L569.7,157.1L570.2,157.11L570.7,157.11L571.2,157.09L571.7,157.01L572.2,156.87L572.7,156.72L573.2,156.57L573.7,156.4L574.2,156.28L574.7,156.2L575.2,156.04L575.71,155.75L576.21,155.23L576.71,154.42L577.21,153.32L577.71,152.17L578.21,151.37L578.71,151.31L579.21,151.98L579.71,153.02L580.21,154.02L580.71,154.77L581.21,155.25L581.71,155.52L582.21,155.59L582.71,155.57L583.21,155.51L583.71,155.42L584.21,155.32L584.71,155.31L585.21,155.33L585.71,155.35L586.22,155.36L586.72,155.36L587.22,155.29L587.72,155.1L588.22,154.92L588.72,154.73L589.22,154.54L589.72,154.34L590.22,154.13L590.72,153.92L591.22,153.7L591.72,153.49L592.22,153.28L592.72,153.27L593.22,153.26L593.72,153.24L594.22,153.21L594.72,153.14L595.22,152.88L595.72,152.49L596.22,151.94L596.72,151.15L597.22,150.1L597.73,148.8L598.23,147.3L598.73,145.74L599.23,144.44L599.73,143.75L600.23,143.89L600.73,144.79L601.23,146.16L601.73,147.65L602.23,148.99L602.73,150.07L603.23,150.87L603.73,151.34L604.23,151.47L604.73,151.28L605.23,150.7L605.73,149.47L606.23,147.74L606.73,145.53L607.23,143L607.73,140.45L608.24,138.55L608.74,137.72L609.24,138.24L609.74,139.92L610.24,142.24L610.74,144.75L611.24,147.06L611.74,148.92L612.24,150.31L612.74,151.29L613.24,151.79L613.74,151.87L614.24,151.84L614.74,151.73L615.24,151.59L615.74,151.54L616.24,151.79L616.74,152.03L617.24,152.27L617.74,152.49L618.24,152.7L618.74,152.71L619.25,152.72L619.75,152.72L620.25,152.73L620.75,152.73L621.25,152.57L621.75,152.39L622.25,152.2L622.75,152.02L623.25,151.83L623.75,151.76L624.25,151.75L624.75,151.74L625.25,151.72L625.75,151.69L626.25,151.74L626.75,151.87L627.25,151.98L627.75,152.06L628.25,152.08L628.75,151.96L629.25,151.54L629.75,150.84L630.25,149.71L630.76,148.07L631.26,145.86L631.76,143.19L632.26,140.35L632.76,137.85L633.26,136.33L633.76,136.3L634.26,137.74L634.76,140.14L635.26,142.85L635.76,145.39L636.26,147.48L636.76,149.07L637.26,150.23L637.76,151L638.26,151.5L638.76,151.85L639.26,152.04L639.76,152.13L640.26,152.2L640.76,152.26L641.26,152.31L641.77,152.37L642.27,152.45L642.77,152.53L643.27,152.61L643.77,152.69L644.27,152.8L644.77,153.09L645.27,153.37L645.77,153.66L646.27,153.94L646.77,154.22L647.27,154.42L647.77,154.61L648.27,154.79L648.77,154.97L649.27,155.14L649.77,155.28L650.27,155.39L650.77,155.5L651.27,155.6L651.77,155.69L652.27,155.71L652.78,155.66L653.28,155.59L653.78,155.53L654.28,155.45L654.78,155.28L655.28,154.95L655.78,154.39L656.28,153.61L656.78,152.72L657.28,152.05L657.78,152.06L658.28,152.76L658.78,153.86L659.28,154.99L659.78,155.92L660.28,156.61L660.78,157.07L661.28,157.34L661.78,157.51L662.28,157.66L662.78,157.7L663.28,157.72L663.79,157.73L664.29,157.75L664.79,157.77L665.29,157.79L665.79,157.81L666.29,157.84L666.79,157.86L667.29,157.89L667.79,157.95L668.29,158.07L668.79,158.18L669.29,158.3L669.79,158.42L670.29,158.54L670.79,158.69L671.29,158.84L671.79,158.98L672.29,159.13L672.79,159.28L673.29,159.27L673.79,159.25L674.29,159.24L674.8,159.22L675.3,159.2L675.8,159.24L676.3,159.3L676.8,159.36L677.3,159.41L677.8,159.45L678.3,159.51L678.8,159.56L679.3,159.61L679.8,159.66L679.8,163.5Z" fill="#ef4343"/>
<path d="M459.6,150.75L460.1,150.7L460.6,150.66L461.1,150.62L461.6,150.58L462.1,150.53L462.6,150.62L463.1,150.75L463.6,150.87L464.1,150.99L464.6,151.11L465.11,151.08L465.61,150.96L466.11,150.84L466.61,150.72L467.11,150.6L467.61,150.55L468.11,150.61L468.61,150.67L469.11,150.72L469.61,150.78L470.11,150.82L470.61,150.79L471.11,150.75L471.61,150.72L472.11,150.68L472.61,150.65L473.11,150.67L473.61,150.68L474.11,150.7L474.61,150.71L475.11,150.73L475.61,150.96L476.12,151.4L476.62,151.91L477.12,152.45L477.62,152.95L478.12,153.15L478.62,153.03L479.12,152.65L479.62,152.09L480.12,151.29L480.62,150.35L481.12,149.42L481.62,148.67L482.12,148.5L482.62,149.11L483.12,150.18L483.62,151.23L484.12,152.09L484.62,152.68L485.12,153.01L485.62,153.18L486.12,153.32L486.62,153.41L487.12,153.5L487.63,153.57L488.13,153.65L488.63,153.82L489.13,154.02L489.63,154.21L490.13,154.4L490.63,154.6L491.13,154.6L491.63,154.49L492.13,154.38L492.63,154.27L493.13,154.16L493.63,154.16L494.13,154.27L494.63,154.38L495.13,154.49L495.63,154.61L496.13,154.69L496.63,154.69L497.13,154.69L497.63,154.69L498.13,154.69L498.64,154.7L499.14,154.81L499.64,154.92L500.14,155.02L500.64,155.13L501.14,155.23L501.64,155.21L502.14,155.16L502.64,155.11L503.14,155.06L503.64,155L504.14,154.92L504.64,154.81L505.14,154.66L505.64,154.4L506.14,153.96L506.64,153.32L507.14,152.45L507.64,151.42L508.14,150.51L508.64,150.17L509.14,150.63L509.65,151.62L510.15,152.74L510.65,153.7L511.15,154.36L511.65,154.76L512.15,155.06L512.65,155.27L513.15,155.44L513.65,155.58L514.15,155.71L514.65,155.71L515.15,155.69L515.65,155.68L516.15,155.66L516.65,155.64L517.15,155.6L517.65,155.55L518.15,155.5L518.65,155.45L519.15,155.4L519.65,155.45L520.15,155.6L520.66,155.74L521.16,155.89L521.66,156.04L522.16,156.13L522.66,156.08L523.16,156.03L523.66,155.99L524.16,155.94L524.66,155.91L525.16,156L525.66,156.09L526.16,156.18L526.66,156.28L527.16,156.37L527.66,156.35L528.16,156.33L528.66,156.31L529.16,156.28L529.66,156.26L530.16,156.32L530.66,156.41L531.16,156.5L531.67,156.59L532.17,156.68L532.67,156.79L533.17,156.92L533.67,157.05L534.17,157.18L534.67,157.32L535.17,157.4L535.67,157.38L536.17,157.36L536.67,157.35L537.17,157.33L537.67,157.33L538.17,157.43L538.67,157.52L539.17,157.62L539.67,157.72L540.17,157.82L540.67,157.86L541.17,157.91L541.67,157.95L542.17,157.99L542.68,158.03L543.18,158.04L543.68,158.04L544.18,158.04L544.68,158.04L545.18,158.04L545.68,158.07L546.18,158.12L546.68,158.17L547.18,158.21L547.68,158.26L548.18,158.28L548.68,158.26L549.18,158.23L549.68,158.2L550.18,158.18L550.68,158.16L551.18,158.24L551.68,158.32L552.18,158.4L552.68,158.47L553.18,158.54L553.69,158.6L554.19,158.66L554.69,158.72L555.19,158.76L555.69,158.77L556.19,158.64L556.69,158.46L557.19,158.27L557.69,158.08L558.19,157.89L558.69,157.9L559.19,158.06L559.69,158.22L560.19,158.37L560.69,158.52L561.19,158.55L561.69,158.38L562.19,158.2L562.69,158.03L563.19,157.85L563.69,157.69L564.19,157.6L564.7,157.5L565.2,157.41L565.7,157.32L566.2,157.23L566.7,157.19L567.2,157.16L567.7,157.13L568.2,157.1L568.7,157.07L569.2,157.08L569.7,157.1L570.2,157.11L570.7,157.11L571.2,157.09L571.7,157.01L572.2,156.87L572.7,156.72L573.2,156.57L573.7,156.4L574.2,156.28L574.7,156.2L575.2,156.04L575.71,155.75L576.21,155.23L576.71,154.42L577.21,153.32L577.71,152.17L578.21,151.37L578.71,151.31L579.21,151.98L579.71,153.02L580.21,154.02L580.71,154.77L581.21,155.25L581.71,155.52L582.21,155.59L582.71,155.57L583.21,155.51L583.71,155.42L584.21,155.32L584.71,155.31L585.21,155.33L585.71,155.35L586.22,155.36L586.72,155.36L587.22,155.29L587.72,155.1L588.22,154.92L588.72,154.73L589.22,154.54L589.72,154.34L590.22,154.13L590.72,153.92L591.22,153.7L591.72,153.49L592.22,153.28L592.72,153.27L593.22,153.26L593.72,153.24L594.22,153.21L594.72,153.14L595.22,152.88L595.72,152.49L596.22,151.94L596.72,151.15L597.22,150.1L597.73,148.8L598.23,147.3L598.73,145.74L599.23,144.44L599.73,143.75L600.23,143.89L600.73,144.79L601.23,146.16L601.73,147.65L602.23,148.99L602.73,150.07L603.23,150.87L603.73,151.34L604.23,151.47L604.73,151.28L605.23,150.7L605.73,149.47L606.23,147.74L606.73,145.53L607.23,143L607.73,140.45L608.24,138.55L608.74,137.72L609.24,138.24L609.74,139.92L610.24,142.24L610.74,144.75L611.24,147.06L611.74,148.92L612.24,150.31L612.74,151.29L613.24,151.79L613.74,151.87L614.24,151.84L614.74,151.73L615.24,151.59L615.74,151.54L616.24,151.79L616.74,152.03L617.24,152.27L617.74,152.49L618.24,152.7L618.74,152.71L619.25,152.72L619.75,152.72L620.25,152.73L620.75,152.73L621.25,152.57L621.75,152.39L622.25,152.2L622.75,152.02L623.25,151.83L623.75,151.76L624.25,151.75L624.75,151.74L625.25,151.72L625.75,151.69L626.25,151.74L626.75,151.87L627.25,151.98L627.75,152.06L628.25,152.08L628.75,151.96L629.25,151.54L629.75,150.84L630.25,149.71L630.76,148.07L631.26,145.86L631.76,143.19L632.26,140.35L632.76,137.85L633.26,136.33L633.76,136.3L634.26,137.74L634.76,140.14L635.26,142.85L635.76,145.39L636.26,147.48L636.76,149.07L637.26,150.23L637.76,151L638.26,151.5L638.76,151.85L639.26,152.04L639.76,152.13L640.26,152.2L640.76,152.26L641.26,152.31L641.77,152.37L642.27,152.45L642.77,152.53L643.27,152.61L643.77,152.69L644.27,152.8L644.77,153.09L645.27,153.37L645.77,153.66L646.27,153.94L646.77,154.22L647.27,154.42L647.77,154.61L648.27,154.79L648.77,154.97L649.27,155.14L649.77,155.28L650.27,155.39L650.77,155.5L651.27,155.6L651.77,155.69L652.27,155.71L652.78,155.66L653.28,155.59L653.78,155.53L654.28,155.45L654.78,155.28L655.28,154.95L655.78,154.39L656.28,153.61L656.78,152.72L657.28,152.05L657.78,152.06L658.28,152.76L658.78,153.86L659.28,154.99L659.78,155.92L660.28,156.61L660.78,157.07L661.28,157.34L661.78,157.51L662.28,157.66L662.78,157.7L663.28,157.72L663.79,157.73L664.29,157.75L664.79,157.77L665.29,157.79L665.79,157.81L666.29,157.84L666.79,157.86L667.29,157.89L667.79,157.95L668.29,158.07L668.79,158.18L669.29,158.3L669.79,158.42L670.29,158.54L670.79,158.69L671.29,158.84L671.79,158.98L672.29,159.13L672.79,159.28L673.29,159.27L673.79,159.25L674.29,159.24L674.8,159.22L675.3,159.2L675.8,159.24L676.3,159.3L676.8,159.36L677.3,159.41L677.8,159.45L678.3,159.51L678.8,159.56L679.3,159.61L679.8,159.66" fill="none" stroke="#262626" stroke-width="0.9" stroke-linejoin="round"/>
<path d="M445.1,178L445.1,164.34L445.6,164.31L446.1,164.29L446.6,164.28L447.1,164.26L447.6,164.26L448.1,164.25L448.6,164.25L449.1,164.25L449.6,164.25L450.1,164.26L450.6,164.39L451.11,164.6L451.61,164.82L452.11,165.03L452.61,165.24L453.11,165.36L453.61,165.32L454.11,165.29L454.61,165.25L455.11,165.21L455.61,165.19L456.11,165.26L456.61,165.33L457.11,165.39L457.61,165.45L458.11,165.5L458.61,165.57L459.11,165.63L459.61,165.72L460.11,165.86L460.61,166.02L461.11,166.23L461.61,166.45L462.11,166.67L462.62,166.9L463.12,167.11L463.62,167.32L464.12,167.51L464.62,167.64L465.12,167.67L465.62,167.55L466.12,167.17L466.62,166.44L467.12,165.48L467.62,164.41L468.12,163.5L468.62,163.19L469.12,163.74L469.62,164.71L470.12,165.73L470.62,166.59L471.12,167.2L471.62,167.5L472.12,167.67L472.62,167.77L473.12,167.83L473.62,167.88L474.13,167.78L474.63,167.65L475.13,167.52L475.63,167.38L476.13,167.25L476.63,167.2L477.13,167.2L477.63,167.21L478.13,167.21L478.63,167.21L479.13,167.24L479.63,167.3L480.13,167.36L480.63,167.42L481.13,167.48L481.63,167.58L482.13,167.78L482.63,167.98L483.13,168.18L483.63,168.37L484.13,168.55L484.63,168.54L485.13,168.52L485.64,168.5L486.14,168.47L486.64,168.45L487.14,168.54L487.64,168.64L488.14,168.74L488.64,168.84L489.14,168.94L489.64,168.99L490.14,169.01L490.64,169.04L491.14,169.06L491.64,169.07L492.14,169.03L492.64,168.92L493.14,168.76L493.64,168.49L494.14,168.07L494.64,167.46L495.14,166.76L495.64,166.07L496.14,165.7L496.64,165.85L497.15,166.43L497.65,167.09L498.15,167.66L498.65,168.06L499.15,168.27L499.65,168.34L500.15,168.41L500.65,168.46L501.15,168.49L501.65,168.51L502.15,168.53L502.65,168.68L503.15,168.89L503.65,169.1L504.15,169.31L504.65,169.52L505.15,169.63L505.65,169.63L506.15,169.63L506.65,169.63L507.15,169.63L507.65,169.64L508.15,169.7L508.66,169.75L509.16,169.81L509.66,169.86L510.16,169.91L510.66,169.9L511.16,169.89L511.66,169.88L512.16,169.87L512.66,169.86L513.16,169.91L513.66,169.98L514.16,170.04L514.66,170.1L515.16,170.16L515.66,170.2L516.16,170.22L516.66,170.25L517.16,170.28L517.66,170.3L518.16,170.37L518.66,170.46L519.16,170.55L519.66,170.64L520.17,170.74L520.67,170.75L521.17,170.6L521.67,170.45L522.17,170.29L522.67,170.14L523.17,170.03L523.67,170.14L524.17,170.25L524.67,170.37L525.17,170.48L525.67,170.59L526.17,170.57L526.67,170.55L527.17,170.53L527.67,170.5L528.17,170.47L528.67,170.54L529.17,170.66L529.67,170.77L530.17,170.88L530.67,170.99L531.17,171.04L531.68,171.04L532.18,171.04L532.68,171.04L533.18,171.04L533.68,170.98L534.18,170.82L534.68,170.66L535.18,170.5L535.68,170.35L536.18,170.2L536.68,170.15L537.18,170.09L537.68,170.04L538.18,169.98L538.68,169.92L539.18,169.94L539.68,169.96L540.18,169.98L540.68,170L541.18,170.02L541.68,170.03L542.18,170.03L542.68,170.03L543.19,170.02L543.69,170.02L544.19,170.07L544.69,170.16L545.19,170.25L545.69,170.33L546.19,170.42L546.69,170.44L547.19,170.34L547.69,170.24L548.19,170.14L548.69,170.03L549.19,169.96L549.69,170.03L550.19,170.09L550.69,170.15L551.19,170.21L551.69,170.27L552.19,170.16L552.69,170.04L553.19,169.92L553.69,169.8L554.19,169.68L554.7,169.69L555.2,169.73L555.7,169.76L556.2,169.8L556.7,169.84L557.2,169.8L557.7,169.71L558.2,169.62L558.7,169.53L559.2,169.45L559.7,169.43L560.2,169.53L560.7,169.64L561.2,169.74L561.7,169.85L562.2,169.93L562.7,169.9L563.2,169.86L563.7,169.83L564.2,169.79L564.7,169.74L565.2,169.79L565.71,169.79L566.21,169.71L566.71,169.49L567.21,169.08L567.71,168.43L568.21,167.69L568.71,167.12L569.21,167.01L569.71,167.45L570.21,168.13L570.71,168.79L571.21,169.29L571.71,169.59L572.21,169.72L572.71,169.74L573.21,169.7L573.71,169.63L574.21,169.54L574.71,169.41L575.21,169.33L575.71,169.48L576.21,169.62L576.71,169.76L577.22,169.89L577.72,170L578.22,169.93L578.72,169.84L579.22,169.76L579.72,169.68L580.22,169.59L580.72,169.41L581.22,169.22L581.72,169.03L582.22,168.85L582.72,168.66L583.22,168.56L583.72,168.5L584.22,168.44L584.72,168.38L585.22,168.31L585.72,168.25L586.22,168.24L586.72,168.2L587.22,168.13L587.72,168L588.22,167.66L588.73,166.87L589.23,165.68L589.73,164L590.23,161.9L590.73,159.79L591.23,158.47L591.73,158.47L592.23,159.7L592.73,161.45L593.23,163.09L593.73,164.39L594.23,165.21L594.73,165.67L595.23,165.91L595.73,166.1L596.23,166.15L596.73,166.1L597.23,165.92L597.73,165.48L598.23,164.56L598.73,162.97L599.23,160.64L599.73,157.86L600.24,155.42L600.74,154.44L601.24,155.57L601.74,158.2L602.24,161.17L602.74,163.69L603.24,165.46L603.74,166.54L604.24,167.03L604.74,167.25L605.24,167.33L605.74,167.35L606.24,167.35L606.74,167.39L607.24,167.42L607.74,167.44L608.24,167.46L608.74,167.48L609.24,167.48L609.74,167.48L610.24,167.47L610.74,167.46L611.24,167.44L611.75,167.45L612.25,167.48L612.75,167.51L613.25,167.54L613.75,167.56L614.25,167.6L614.75,167.66L615.25,167.72L615.75,167.78L616.25,167.84L616.75,167.89L617.25,167.92L617.75,167.95L618.25,167.97L618.75,167.99L619.25,168.01L619.75,168.07L620.25,168.13L620.75,168.17L621.25,168.21L621.75,168.21L622.25,168.1L622.75,167.85L623.26,167.38L623.76,166.49L624.26,164.91L624.76,162.47L625.26,159.28L625.76,155.97L626.26,153.73L626.76,153.75L627.26,156.01L627.76,159.28L628.26,162.39L628.76,164.74L629.26,166.23L629.76,167.06L630.26,167.58L630.76,167.88L631.26,168.09L631.76,168.25L632.26,168.4L632.76,168.44L633.26,168.46L633.76,168.48L634.26,168.49L634.77,168.51L635.27,168.63L635.77,168.79L636.27,168.95L636.77,169.11L637.27,169.27L637.77,169.36L638.27,169.39L638.77,169.42L639.27,169.44L639.77,169.47L640.27,169.51L640.77,169.58L641.27,169.64L641.77,169.71L642.27,169.77L642.77,169.82L643.27,169.79L643.77,169.76L644.27,169.72L644.77,169.68L645.27,169.64L645.77,169.69L646.28,169.75L646.78,169.79L647.28,169.83L647.78,169.87L648.28,169.89L648.78,169.83L649.28,169.61L649.78,169.17L650.28,168.48L650.78,167.67L651.28,167.02L651.78,166.9L652.28,167.48L652.78,168.51L653.28,169.54L653.78,170.29L654.28,170.78L654.78,171.04L655.28,171.16L655.78,171.21L656.28,171.27L656.78,171.32L657.28,171.36L657.79,171.41L658.29,171.45L658.79,171.63L659.29,171.81L659.79,172L660.29,172.18L660.79,172.37L661.29,172.39L661.79,172.36L662.29,172.34L662.79,172.31L663.29,172.29L663.79,172.37L664.29,172.53L664.79,172.69L665.29,172.85L665.79,173L666.29,173.11L666.79,173.15L667.29,173.18L667.79,173.21L668.29,173.24L668.79,173.31L669.3,173.52L669.8,173.73L670.3,173.94L670.8,174.14L671.3,174.34L671.8,174.35L672.3,174.35L672.8,174.35L673.3,174.34L673.8,174.33L674.3,174.39L674.8,174.45L674.8,178Z" fill="#505050"/>
<path d="M445.1,164.34L445.6,164.31L446.1,164.29L446.6,164.28L447.1,164.26L447.6,164.26L448.1,164.25L448.6,164.25L449.1,164.25L449.6,164.25L450.1,164.26L450.6,164.39L451.11,164.6L451.61,164.82L452.11,165.03L452.61,165.24L453.11,165.36L453.61,165.32L454.11,165.29L454.61,165.25L455.11,165.21L455.61,165.19L456.11,165.26L456.61,165.33L457.11,165.39L457.61,165.45L458.11,165.5L458.61,165.57L459.11,165.63L459.61,165.72L460.11,165.86L460.61,166.02L461.11,166.23L461.61,166.45L462.11,166.67L462.62,166.9L463.12,167.11L463.62,167.32L464.12,167.51L464.62,167.64L465.12,167.67L465.62,167.55L466.12,167.17L466.62,166.44L467.12,165.48L467.62,164.41L468.12,163.5L468.62,163.19L469.12,163.74L469.62,164.71L470.12,165.73L470.62,166.59L471.12,167.2L471.62,167.5L472.12,167.67L472.62,167.77L473.12,167.83L473.62,167.88L474.13,167.78L474.63,167.65L475.13,167.52L475.63,167.38L476.13,167.25L476.63,167.2L477.13,167.2L477.63,167.21L478.13,167.21L478.63,167.21L479.13,167.24L479.63,167.3L480.13,167.36L480.63,167.42L481.13,167.48L481.63,167.58L482.13,167.78L482.63,167.98L483.13,168.18L483.63,168.37L484.13,168.55L484.63,168.54L485.13,168.52L485.64,168.5L486.14,168.47L486.64,168.45L487.14,168.54L487.64,168.64L488.14,168.74L488.64,168.84L489.14,168.94L489.64,168.99L490.14,169.01L490.64,169.04L491.14,169.06L491.64,169.07L492.14,169.03L492.64,168.92L493.14,168.76L493.64,168.49L494.14,168.07L494.64,167.46L495.14,166.76L495.64,166.07L496.14,165.7L496.64,165.85L497.15,166.43L497.65,167.09L498.15,167.66L498.65,168.06L499.15,168.27L499.65,168.34L500.15,168.41L500.65,168.46L501.15,168.49L501.65,168.51L502.15,168.53L502.65,168.68L503.15,168.89L503.65,169.1L504.15,169.31L504.65,169.52L505.15,169.63L505.65,169.63L506.15,169.63L506.65,169.63L507.15,169.63L507.65,169.64L508.15,169.7L508.66,169.75L509.16,169.81L509.66,169.86L510.16,169.91L510.66,169.9L511.16,169.89L511.66,169.88L512.16,169.87L512.66,169.86L513.16,169.91L513.66,169.98L514.16,170.04L514.66,170.1L515.16,170.16L515.66,170.2L516.16,170.22L516.66,170.25L517.16,170.28L517.66,170.3L518.16,170.37L518.66,170.46L519.16,170.55L519.66,170.64L520.17,170.74L520.67,170.75L521.17,170.6L521.67,170.45L522.17,170.29L522.67,170.14L523.17,170.03L523.67,170.14L524.17,170.25L524.67,170.37L525.17,170.48L525.67,170.59L526.17,170.57L526.67,170.55L527.17,170.53L527.67,170.5L528.17,170.47L528.67,170.54L529.17,170.66L529.67,170.77L530.17,170.88L530.67,170.99L531.17,171.04L531.68,171.04L532.18,171.04L532.68,171.04L533.18,171.04L533.68,170.98L534.18,170.82L534.68,170.66L535.18,170.5L535.68,170.35L536.18,170.2L536.68,170.15L537.18,170.09L537.68,170.04L538.18,169.98L538.68,169.92L539.18,169.94L539.68,169.96L540.18,169.98L540.68,170L541.18,170.02L541.68,170.03L542.18,170.03L542.68,170.03L543.19,170.02L543.69,170.02L544.19,170.07L544.69,170.16L545.19,170.25L545.69,170.33L546.19,170.42L546.69,170.44L547.19,170.34L547.69,170.24L548.19,170.14L548.69,170.03L549.19,169.96L549.69,170.03L550.19,170.09L550.69,170.15L551.19,170.21L551.69,170.27L552.19,170.16L552.69,170.04L553.19,169.92L553.69,169.8L554.19,169.68L554.7,169.69L555.2,169.73L555.7,169.76L556.2,169.8L556.7,169.84L557.2,169.8L557.7,169.71L558.2,169.62L558.7,169.53L559.2,169.45L559.7,169.43L560.2,169.53L560.7,169.64L561.2,169.74L561.7,169.85L562.2,169.93L562.7,169.9L563.2,169.86L563.7,169.83L564.2,169.79L564.7,169.74L565.2,169.79L565.71,169.79L566.21,169.71L566.71,169.49L567.21,169.08L567.71,168.43L568.21,167.69L568.71,167.12L569.21,167.01L569.71,167.45L570.21,168.13L570.71,168.79L571.21,169.29L571.71,169.59L572.21,169.72L572.71,169.74L573.21,169.7L573.71,169.63L574.21,169.54L574.71,169.41L575.21,169.33L575.71,169.48L576.21,169.62L576.71,169.76L577.22,169.89L577.72,170L578.22,169.93L578.72,169.84L579.22,169.76L579.72,169.68L580.22,169.59L580.72,169.41L581.22,169.22L581.72,169.03L582.22,168.85L582.72,168.66L583.22,168.56L583.72,168.5L584.22,168.44L584.72,168.38L585.22,168.31L585.72,168.25L586.22,168.24L586.72,168.2L587.22,168.13L587.72,168L588.22,167.66L588.73,166.87L589.23,165.68L589.73,164L590.23,161.9L590.73,159.79L591.23,158.47L591.73,158.47L592.23,159.7L592.73,161.45L593.23,163.09L593.73,164.39L594.23,165.21L594.73,165.67L595.23,165.91L595.73,166.1L596.23,166.15L596.73,166.1L597.23,165.92L597.73,165.48L598.23,164.56L598.73,162.97L599.23,160.64L599.73,157.86L600.24,155.42L600.74,154.44L601.24,155.57L601.74,158.2L602.24,161.17L602.74,163.69L603.24,165.46L603.74,166.54L604.24,167.03L604.74,167.25L605.24,167.33L605.74,167.35L606.24,167.35L606.74,167.39L607.24,167.42L607.74,167.44L608.24,167.46L608.74,167.48L609.24,167.48L609.74,167.48L610.24,167.47L610.74,167.46L611.24,167.44L611.75,167.45L612.25,167.48L612.75,167.51L613.25,167.54L613.75,167.56L614.25,167.6L614.75,167.66L615.25,167.72L615.75,167.78L616.25,167.84L616.75,167.89L617.25,167.92L617.75,167.95L618.25,167.97L618.75,167.99L619.25,168.01L619.75,168.07L620.25,168.13L620.75,168.17L621.25,168.21L621.75,168.21L622.25,168.1L622.75,167.85L623.26,167.38L623.76,166.49L624.26,164.91L624.76,162.47L625.26,159.28L625.76,155.97L626.26,153.73L626.76,153.75L627.26,156.01L627.76,159.28L628.26,162.39L628.76,164.74L629.26,166.23L629.76,167.06L630.26,167.58L630.76,167.88L631.26,168.09L631.76,168.25L632.26,168.4L632.76,168.44L633.26,168.46L633.76,168.48L634.26,168.49L634.77,168.51L635.27,168.63L635.77,168.79L636.27,168.95L636.77,169.11L637.27,169.27L637.77,169.36L638.27,169.39L638.77,169.42L639.27,169.44L639.77,169.47L640.27,169.51L640.77,169.58L641.27,169.64L641.77,169.71L642.27,169.77L642.77,169.82L643.27,169.79L643.77,169.76L644.27,169.72L644.77,169.68L645.27,169.64L645.77,169.69L646.28,169.75L646.78,169.79L647.28,169.83L647.78,169.87L648.28,169.89L648.78,169.83L649.28,169.61L649.78,169.17L650.28,168.48L650.78,167.67L651.28,167.02L651.78,166.9L652.28,167.48L652.78,168.51L653.28,169.54L653.78,170.29L654.28,170.78L654.78,171.04L655.28,171.16L655.78,171.21L656.28,171.27L656.78,171.32L657.28,171.36L657.79,171.41L658.29,171.45L658.79,171.63L659.29,171.81L659.79,172L660.29,172.18L660.79,172.37L661.29,172.39L661.79,172.36L662.29,172.34L662.79,172.31L663.29,172.29L663.79,172.37L664.29,172.53L664.79,172.69L665.29,172.85L665.79,173L666.29,173.11L666.79,173.15L667.29,173.18L667.79,173.21L668.29,173.24L668.79,173.31L669.3,173.52L669.8,173.73L670.3,173.94L670.8,174.14L671.3,174.34L671.8,174.35L672.3,174.35L672.8,174.35L673.3,174.34L673.8,174.33L674.3,174.39L674.8,174.45" fill="none" stroke="#262626" stroke-width="0.9" stroke-linejoin="round"/>
<path d="M631.6,48L632.87,51.86L636.68,50.45L634.45,53.85L637.94,55.95L633.89,56.32L634.42,60.36L631.6,57.42L628.78,60.36L629.31,56.32L625.26,55.95L628.75,53.85L626.52,50.45L630.33,51.86Z" fill="#ff0000"/>
<path d="M647.8,36.7L649.19,40.9L653.52,40L650.57,43.3L653.52,46.6L649.19,45.7L647.8,49.9L646.41,45.7L642.08,46.6L645.03,43.3L642.08,40L646.41,40.9Z" fill="#ff0000"/>
<path d="M655.4,27.2L657.03,31.56L661.68,31.76L658.04,34.66L659.28,39.14L655.4,36.57L651.52,39.14L652.76,34.66L649.12,31.76L653.77,31.56Z" fill="#ff0000"/>
<path d="M673.3,31.2Q674.66,36.64 680.1,38Q674.66,39.36 673.3,44.8Q671.94,39.36 666.5,38Q671.94,36.64 673.3,31.2Z" fill="#ff0000"/>
<path d="M686.62,55.32L696.18,55.32L691.4,64.89Z" fill="#ff0000"/>
<path d="M410.3,108.8V185.7 H717 L740.6,75.9" stroke="#000" stroke-width="2.4" fill="none" stroke-linejoin="miter"/>
<path d="M419.1,185.7V182.2M455.18,185.7V182.2M491.26,185.7V182.2M527.34,185.7V182.2M563.42,185.7V182.2M599.5,185.7V182.2M635.58,185.7V182.2M671.66,185.7V182.2M707.74,185.7V182.2" stroke="#000" stroke-width="1.2"/>
<text transform="translate(419.1 209) scale(1 1.1)" font-family="Liberation Sans, sans-serif" font-weight="bold" font-size="21.3" text-anchor="middle">400</text>
<text transform="translate(491.26 209) scale(1 1.1)" font-family="Liberation Sans, sans-serif" font-weight="bold" font-size="21.3" text-anchor="middle">800</text>
<text transform="translate(563.42 209) scale(1 1.1)" font-family="Liberation Sans, sans-serif" font-weight="bold" font-size="21.3" text-anchor="middle">1200</text>
<text transform="translate(635.58 209) scale(1 1.1)" font-family="Liberation Sans, sans-serif" font-weight="bold" font-size="21.3" text-anchor="middle">1600</text>
<text transform="translate(707.74 209) scale(1 1.1)" font-family="Liberation Sans, sans-serif" font-weight="bold" font-size="21.3" text-anchor="middle">2000</text>
<text transform="translate(722 92.3) scale(1 1.1)" font-family="Liberation Sans, sans-serif" font-weight="bold" font-size="18.5" text-anchor="middle">0</text>
<text transform="translate(696.4 180.3) scale(1 1.1)" font-family="Liberation Sans, sans-serif" font-weight="bold" font-size="18.5" text-anchor="middle">55</text>
<defs><linearGradient id="ga375" gradientUnits="userSpaceOnUse" x1="717.3" y1="97.2" x2="701.4" y2="163.3"><stop offset="0" stop-color="#e9f6ee"/><stop offset="0.35" stop-color="#b5dcea"/><stop offset="0.7" stop-color="#6fa8f4"/><stop offset="1" stop-color="#5b97fb"/></linearGradient></defs>
<path d="M712.41,104.25L700.72,152.85L696.45,151.82L701.4,163.3L711.03,155.33L706.75,154.3L718.44,105.7Z" fill="url(#ga375)"/>
<path d="M714.01,97.64L713.58,99.39L719.61,100.84L720.03,99.09Z" fill="#e8f4df"/>
<path d="M713.35,100.36L712.6,103.48L718.63,104.93L719.38,101.81Z" fill="#e2f1e4"/>
<text x="484.3" y="241.1" font-family="Liberation Sans, sans-serif" font-weight="bold" font-size="23">Raman shift (cm<tspan font-size="12.5" dx="1.5" dy="-11">-1</tspan><tspan dx="2.5" dy="11">)</tspan></text>
<text transform="translate(2.8 16.9) scale(1 1.06)" font-family="Liberation Sans, sans-serif" font-weight="bold" font-size="21.2">A</text>
<text x="27.3" y="17.5" font-family="Liberation Serif, serif" font-weight="bold" font-size="24.5">I</text>
<text transform="translate(382 22.9) scale(1 1.06)" font-family="Liberation Sans, sans-serif" font-weight="bold" font-size="21.2">B</text>
<text x="404.5" y="22.9" font-family="Liberation Serif, serif" font-weight="bold" font-size="24.5">I</text>
<text x="17.9" y="186.6" transform="rotate(-90 17.9 186.6)" font-family="Liberation Sans, sans-serif" font-weight="bold" font-size="23.6">Intensity (a.u.)</text>
<text x="396.5" y="188.5" transform="rotate(-90 396.5 188.5)" font-family="Liberation Sans, sans-serif" font-weight="bold" font-size="23.6">Intensity (a.u.)</text>
<rect x="78.3" y="257.3" width="88.34" height="581.2" fill="#a8f9fb"/>
<rect x="166.64" y="257.3" width="88.34" height="581.2" fill="#fffea8"/>
<rect x="254.98" y="257.3" width="88.34" height="581.2" fill="#c4ebd6"/>
<path d="M78.3,267.94C85.66,268.26 107.75,269.74 122.47,269.84C137.19,269.95 151.92,264.7 166.64,268.57C181.36,272.45 196.09,280.86 210.81,293.07C225.53,305.29 240.26,331.39 254.98,341.86C269.7,352.33 284.43,351.31 299.15,355.9C313.87,360.5 335.96,367.17 343.32,369.42" fill="none" stroke="#ee3d3d" stroke-width="2.4"/>
<circle cx="78.3" cy="267.94" r="3.6" fill="url(#bg0)"/>
<circle cx="122.47" cy="269.84" r="3.6" fill="url(#bg0)"/>
<circle cx="166.64" cy="268.57" r="3.6" fill="url(#bg0)"/>
<circle cx="210.81" cy="293.07" r="3.6" fill="url(#bg0)"/>
<circle cx="254.98" cy="341.86" r="3.6" fill="url(#bg0)"/>
<circle cx="299.15" cy="355.9" r="3.6" fill="url(#bg0)"/>
<circle cx="343.32" cy="369.42" r="3.6" fill="url(#bg0)"/>
<path d="M76.8,267.94H166.14" stroke="#0000ff" stroke-width="3" stroke-dasharray="10 5.8"/>
<path d="M166.64,279.57V365.54" stroke="#000" stroke-width="2.4"/><path d="M166.64,273.07L171.44,282.57L166.64,280.57L161.84,282.57Z" fill="#000"/><path d="M166.64,372.04L171.44,362.54L166.64,364.54L161.84,362.54Z" fill="#000"/>
<text transform="translate(159.3 329.4) scale(1 1.1)" font-family="Liberation Sans, sans-serif" font-weight="bold" font-size="21" text-anchor="end">99%</text>
<path d="M231.46,270.87L243.94,270.87L237.7,283.34Z" fill="#0000ff"/>
<text transform="translate(247 282.6) scale(1 1.1)" font-family="Liberation Sans, sans-serif" font-weight="bold" font-size="20.5">1664</text>
<text x="298.3" y="282.6" font-family="Liberation Sans, sans-serif" font-weight="bold" font-size="20.5">cm<tspan font-size="13.5" dy="-9.5">-1</tspan></text>
<path d="M57,267.94H59.5" stroke="#000" stroke-width="1.5"/>
<text transform="translate(55.1 275.74) scale(1 1.06)" font-family="Liberation Sans, sans-serif" font-weight="bold" font-size="23" text-anchor="end">1.0</text>
<path d="M57,373.54H365" stroke="#000" stroke-width="1.6"/>
<path d="M78.3,384.18C85.66,393.37 107.75,428.34 122.47,439.3C137.19,450.27 151.92,447.22 166.64,449.97C181.36,452.71 196.09,452.34 210.81,455.78C225.53,459.21 240.26,466.3 254.98,470.56C269.7,474.82 284.43,478.38 299.15,481.33C313.87,484.29 335.96,487.14 343.32,488.3" fill="none" stroke="#1d6fdc" stroke-width="2.4"/>
<circle cx="78.3" cy="384.18" r="3.6" fill="url(#bg1)"/>
<circle cx="122.47" cy="439.3" r="3.6" fill="url(#bg1)"/>
<circle cx="166.64" cy="449.97" r="3.6" fill="url(#bg1)"/>
<circle cx="210.81" cy="455.78" r="3.6" fill="url(#bg1)"/>
<circle cx="254.98" cy="470.56" r="3.6" fill="url(#bg1)"/>
<circle cx="299.15" cy="481.33" r="3.6" fill="url(#bg1)"/>
<circle cx="343.32" cy="488.3" r="3.6" fill="url(#bg1)"/>
<path d="M79,449.97H166.14" stroke="#0000ff" stroke-width="3" stroke-dasharray="10 5.8"/>
<path d="M166.64,460.97V481.78" stroke="#000" stroke-width="2.4"/><path d="M166.64,454.47L171.44,463.97L166.64,461.97L161.84,463.97Z" fill="#000"/><path d="M166.64,488.28L171.44,478.78L166.64,480.78L161.84,478.78Z" fill="#000"/>
<text transform="translate(159.3 478.7) scale(1 1.1)" font-family="Liberation Sans, sans-serif" font-weight="bold" font-size="21" text-anchor="end">37%</text>
<path d="M238.5,383.1Q240.24,390.06 247.2,391.8Q240.24,393.54 238.5,400.5Q236.76,393.54 229.8,391.8Q236.76,390.06 238.5,383.1Z" fill="#0000ff"/>
<text transform="translate(247 399.8) scale(1 1.1)" font-family="Liberation Sans, sans-serif" font-weight="bold" font-size="20.5">1523</text>
<text x="298.3" y="399.8" font-family="Liberation Sans, sans-serif" font-weight="bold" font-size="20.5">cm<tspan font-size="13.5" dy="-9.5">-1</tspan></text>
<path d="M57,384.18H59.5" stroke="#000" stroke-width="1.5"/>
<text transform="translate(55.1 391.98) scale(1 1.06)" font-family="Liberation Sans, sans-serif" font-weight="bold" font-size="23" text-anchor="end">1.0</text>
<path d="M57,489.78H365" stroke="#000" stroke-width="1.6"/>
<path d="M78.3,500.42C85.66,505.88 107.75,525.66 122.47,533.16C137.19,540.65 151.92,542.47 166.64,545.41C181.36,548.34 196.09,545.78 210.81,550.79C225.53,555.81 240.26,568.36 254.98,575.5C269.7,582.65 284.43,589.55 299.15,593.66C313.87,597.78 335.96,599.12 343.32,600.21" fill="none" stroke="#36a865" stroke-width="2.4"/>
<circle cx="78.3" cy="500.42" r="3.6" fill="url(#bg2)"/>
<circle cx="122.47" cy="533.16" r="3.6" fill="url(#bg2)"/>
<circle cx="166.64" cy="545.41" r="3.6" fill="url(#bg2)"/>
<circle cx="210.81" cy="550.79" r="3.6" fill="url(#bg2)"/>
<circle cx="254.98" cy="575.5" r="3.6" fill="url(#bg2)"/>
<circle cx="299.15" cy="593.66" r="3.6" fill="url(#bg2)"/>
<circle cx="343.32" cy="600.21" r="3.6" fill="url(#bg2)"/>
<path d="M79,546.57H166.14" stroke="#0000ff" stroke-width="3" stroke-dasharray="10 5.8"/>
<path d="M166.64,556.41V598.02" stroke="#000" stroke-width="2.4"/><path d="M166.64,549.91L171.44,559.41L166.64,557.41L161.84,559.41Z" fill="#000"/><path d="M166.64,604.52L171.44,595.02L166.64,597.02L161.84,595.02Z" fill="#000"/>
<text transform="translate(159.3 580.5) scale(1 1.1)" font-family="Liberation Sans, sans-serif" font-weight="bold" font-size="21" text-anchor="end">57%</text>
<path d="M237.6,500.1L239.72,505.78L245.78,506.04L241.04,509.82L242.65,515.66L237.6,512.31L232.55,515.66L234.16,509.82L229.42,506.04L235.48,505.78Z" fill="#0000ff"/>
<text transform="translate(247 516.7) scale(1 1.1)" font-family="Liberation Sans, sans-serif" font-weight="bold" font-size="20.5">1379</text>
<text x="298.3" y="516.7" font-family="Liberation Sans, sans-serif" font-weight="bold" font-size="20.5">cm<tspan font-size="13.5" dy="-9.5">-1</tspan></text>
<path d="M57,500.42H59.5" stroke="#000" stroke-width="1.5"/>
<text transform="translate(55.1 508.22) scale(1 1.06)" font-family="Liberation Sans, sans-serif" font-weight="bold" font-size="23" text-anchor="end">1.0</text>
<path d="M57,606.02H365" stroke="#000" stroke-width="1.6"/>
<path d="M78.3,616.66C85.66,620.55 107.75,634.35 122.47,640C137.19,645.65 151.92,647.06 166.64,650.56C181.36,654.06 196.09,654.41 210.81,661.01C225.53,667.61 240.26,682.01 254.98,690.16C269.7,698.31 284.43,705.43 299.15,709.9C313.87,714.38 335.96,715.8 343.32,716.98" fill="none" stroke="#a977e2" stroke-width="2.4"/>
<circle cx="78.3" cy="616.66" r="3.6" fill="url(#bg3)"/>
<circle cx="122.47" cy="640" r="3.6" fill="url(#bg3)"/>
<circle cx="166.64" cy="650.56" r="3.6" fill="url(#bg3)"/>
<circle cx="210.81" cy="661.01" r="3.6" fill="url(#bg3)"/>
<circle cx="254.98" cy="690.16" r="3.6" fill="url(#bg3)"/>
<circle cx="299.15" cy="709.9" r="3.6" fill="url(#bg3)"/>
<circle cx="343.32" cy="716.98" r="3.6" fill="url(#bg3)"/>
<path d="M79,651.51H166.14" stroke="#0000ff" stroke-width="3" stroke-dasharray="10 5.8"/>
<path d="M166.64,661.56V714.26" stroke="#000" stroke-width="2.4"/><path d="M166.64,655.06L171.44,664.56L166.64,662.56L161.84,664.56Z" fill="#000"/><path d="M166.64,720.76L171.44,711.26L166.64,713.26L161.84,711.26Z" fill="#000"/>
<text transform="translate(159.3 690.5) scale(1 1.1)" font-family="Liberation Sans, sans-serif" font-weight="bold" font-size="21" text-anchor="end">67%</text>
<path d="M236.6,617.2L238.38,622.61L243.96,621.45L240.17,625.7L243.96,629.95L238.38,628.79L236.6,634.2L234.81,628.79L229.24,629.95L233.03,625.7L229.24,621.45L234.81,622.61Z" fill="#0000ff"/>
<text transform="translate(247 633.7) scale(1 1.1)" font-family="Liberation Sans, sans-serif" font-weight="bold" font-size="20.5">1327</text>
<text x="298.3" y="633.7" font-family="Liberation Sans, sans-serif" font-weight="bold" font-size="20.5">cm<tspan font-size="13.5" dy="-9.5">-1</tspan></text>
<path d="M57,616.66H59.5" stroke="#000" stroke-width="1.5"/>
<text transform="translate(55.1 624.46) scale(1 1.06)" font-family="Liberation Sans, sans-serif" font-weight="bold" font-size="23" text-anchor="end">1.0</text>
<path d="M57,722.26H365" stroke="#000" stroke-width="1.6"/>
<path d="M78.3,732.9C85.66,732.83 107.75,731.72 122.47,732.48C137.19,733.23 151.92,734.13 166.64,737.44C181.36,740.75 196.09,743.55 210.81,752.33C225.53,761.11 240.26,779.26 254.98,790.14C269.7,801.01 284.43,810.67 299.15,817.59C313.87,824.51 335.96,829.3 343.32,831.64" fill="none" stroke="#cc9410" stroke-width="2.4"/>
<circle cx="78.3" cy="732.9" r="3.6" fill="url(#bg4)"/>
<circle cx="122.47" cy="732.48" r="3.6" fill="url(#bg4)"/>
<circle cx="166.64" cy="737.44" r="3.6" fill="url(#bg4)"/>
<circle cx="210.81" cy="752.33" r="3.6" fill="url(#bg4)"/>
<circle cx="254.98" cy="790.14" r="3.6" fill="url(#bg4)"/>
<circle cx="299.15" cy="817.59" r="3.6" fill="url(#bg4)"/>
<circle cx="343.32" cy="831.64" r="3.6" fill="url(#bg4)"/>
<path d="M79,739.98H166.14" stroke="#0000ff" stroke-width="3" stroke-dasharray="10 5.8"/>
<path d="M166.64,748.44V830.5" stroke="#000" stroke-width="2.4"/><path d="M166.64,741.94L171.44,751.44L166.64,749.44L161.84,751.44Z" fill="#000"/><path d="M166.64,837L171.44,827.5L166.64,829.5L161.84,827.5Z" fill="#000"/>
<text transform="translate(159.3 796.7) scale(1 1.1)" font-family="Liberation Sans, sans-serif" font-weight="bold" font-size="21" text-anchor="end">98%</text>
<path d="M237.4,734.3L239.02,739.23L243.89,737.43L241.04,741.77L245.49,744.45L240.32,744.93L241,750.08L237.4,746.34L233.8,750.08L234.48,744.93L229.31,744.45L233.76,741.77L230.91,737.43L235.78,739.23Z" fill="#0000ff"/>
<text transform="translate(247 750.6) scale(1 1.1)" font-family="Liberation Sans, sans-serif" font-weight="bold" font-size="20.5">1202</text>
<text x="298.3" y="750.6" font-family="Liberation Sans, sans-serif" font-weight="bold" font-size="20.5">cm<tspan font-size="13.5" dy="-9.5">-1</tspan></text>
<path d="M57,732.9H59.5" stroke="#000" stroke-width="1.5"/>
<text transform="translate(55.1 740.7) scale(1 1.06)" font-family="Liberation Sans, sans-serif" font-weight="bold" font-size="23" text-anchor="end">1.0</text>
<text transform="translate(55.1 846) scale(1 1.06)" font-family="Liberation Sans, sans-serif" font-weight="bold" font-size="23" text-anchor="end">0.0</text>
<rect x="57" y="257.3" width="308" height="581.2" fill="none" stroke="#000" stroke-width="2"/>
<path d="M78.3,838.5V835.5M122.47,838.5V835.5M166.64,838.5V835.5M210.81,838.5V835.5M254.98,838.5V835.5M299.15,838.5V835.5M343.32,838.5V835.5" stroke="#000" stroke-width="1.3"/>
<text transform="translate(78.3 859.3) scale(1 1.13)" font-family="Liberation Sans, sans-serif" font-weight="bold" font-size="22" text-anchor="middle">0</text>
<text transform="translate(122.47 859.3) scale(1 1.13)" font-family="Liberation Sans, sans-serif" font-weight="bold" font-size="22" text-anchor="middle">1</text>
<text transform="translate(166.64 859.3) scale(1 1.13)" font-family="Liberation Sans, sans-serif" font-weight="bold" font-size="22" text-anchor="middle">2</text>
<text transform="translate(210.81 859.3) scale(1 1.13)" font-family="Liberation Sans, sans-serif" font-weight="bold" font-size="22" text-anchor="middle">3</text>
<text transform="translate(254.98 859.3) scale(1 1.13)" font-family="Liberation Sans, sans-serif" font-weight="bold" font-size="22" text-anchor="middle">4</text>
<text transform="translate(299.15 859.3) scale(1 1.13)" font-family="Liberation Sans, sans-serif" font-weight="bold" font-size="22" text-anchor="middle">5</text>
<text transform="translate(343.32 859.3) scale(1 1.13)" font-family="Liberation Sans, sans-serif" font-weight="bold" font-size="22" text-anchor="middle">6</text>
<text x="153.9" y="887.8" font-family="Liberation Sans, sans-serif" font-weight="bold" font-size="23">Time (min)</text>
<text x="3.5" y="274" font-family="Liberation Serif, serif" font-weight="bold" font-size="24.5">II</text>
<text x="18" y="708.7" transform="rotate(-90 18 708.7)" font-family="Liberation Sans, sans-serif" font-weight="bold" font-size="23.65">Peak intensity normalization</text>
<rect x="470" y="256.1" width="44.4" height="585.7" fill="#a8f9fb"/>
<rect x="514.4" y="256.1" width="89.2" height="585.7" fill="#fffea8"/>
<rect x="603.6" y="256.1" width="112.3" height="585.7" fill="#c4ebd6"/>
<path d="M469.3,320.59H716" stroke="#ff0000" stroke-width="3" stroke-dasharray="10 5.8"/>
<path d="M472.81,316.2L489.39,293.31M496.84,288.21L509.76,284.84M519.09,284.65L554.11,292.23M563.58,293.66L576.22,294.75M585.26,297.38L598.94,304.53M607.87,307.87L620.73,310.95M629.87,313.8L665.33,327.6M674.53,330.15L687.27,332.35M696.73,333.99L709.47,336.22" stroke="#ee3d3d" stroke-width="2.6" fill="none"/>
<circle cx="470" cy="320.09" r="3.8" fill="url(#bg0)"/>
<circle cx="492.2" cy="289.42" r="3.8" fill="url(#bg0)"/>
<circle cx="514.4" cy="283.63" r="3.8" fill="url(#bg0)"/>
<circle cx="558.8" cy="293.25" r="3.8" fill="url(#bg0)"/>
<circle cx="581" cy="295.16" r="3.8" fill="url(#bg0)"/>
<circle cx="603.2" cy="306.75" r="3.8" fill="url(#bg0)"/>
<circle cx="625.4" cy="312.06" r="3.8" fill="url(#bg0)"/>
<circle cx="669.8" cy="329.34" r="3.8" fill="url(#bg0)"/>
<circle cx="692" cy="333.16" r="3.8" fill="url(#bg0)"/>
<circle cx="714.2" cy="337.04" r="3.8" fill="url(#bg0)"/>
<path d="M515,295.13V365.24" stroke="#000" stroke-width="2.4"/><path d="M515,288.63L519.8,298.13L515,296.13L510.2,298.13Z" fill="#000"/><path d="M515,371.74L519.8,362.24L515,364.24L510.2,362.24Z" fill="#000"/>
<text transform="translate(520 344.09) scale(1 1.1)" font-family="Liberation Sans, sans-serif" font-weight="bold" font-size="21">168%</text>
<path d="M605.66,267.56L618.13,267.56L611.9,280.04Z" fill="#ff0000"/>
<text transform="translate(621 279.3) scale(1 1.1)" font-family="Liberation Sans, sans-serif" font-weight="bold" font-size="20.5">1664</text>
<text x="672.3" y="279.3" font-family="Liberation Sans, sans-serif" font-weight="bold" font-size="20.5">cm<tspan font-size="13.5" dy="-9.5">-1</tspan></text>
<path d="M448.9,346.67H451.9M448.9,320.09H451.9M448.9,293.51H451.9M448.9,266.94H451.9" stroke="#000" stroke-width="1.5"/>
<text transform="translate(445.3 274.74) scale(1 1.06)" font-family="Liberation Sans, sans-serif" font-weight="bold" font-size="23" text-anchor="end">2.0</text>
<text transform="translate(445.3 327.89) scale(1 1.06)" font-family="Liberation Sans, sans-serif" font-weight="bold" font-size="23" text-anchor="end">1.0</text>
<path d="M448.9,373.24H735.7" stroke="#000" stroke-width="1.6"/>
<path d="M469.3,437.73H716" stroke="#ff0000" stroke-width="3" stroke-dasharray="10 5.8"/>
<path d="M472.61,433.05L489.59,406.92M496.34,400.47L510.26,392.3M519.06,391.04L554.14,399.82M563.56,401.56L576.24,403.11M585.33,405.77L598.87,412.29M607.99,414.64L620.61,415.33M629.4,418.25L665.8,442.44M674.44,446.31L687.36,449.68M696.58,452.32L709.62,456.37" stroke="#1d6fdc" stroke-width="2.6" fill="none"/>
<circle cx="470" cy="437.07" r="3.8" fill="url(#bg1)"/>
<circle cx="492.2" cy="402.9" r="3.8" fill="url(#bg1)"/>
<circle cx="514.4" cy="389.87" r="3.8" fill="url(#bg1)"/>
<circle cx="558.8" cy="400.98" r="3.8" fill="url(#bg1)"/>
<circle cx="581" cy="403.69" r="3.8" fill="url(#bg1)"/>
<circle cx="603.2" cy="414.38" r="3.8" fill="url(#bg1)"/>
<circle cx="625.4" cy="415.6" r="3.8" fill="url(#bg1)"/>
<circle cx="669.8" cy="445.1" r="3.8" fill="url(#bg1)"/>
<circle cx="692" cy="450.89" r="3.8" fill="url(#bg1)"/>
<circle cx="714.2" cy="457.8" r="3.8" fill="url(#bg1)"/>
<path d="M515,401.37V482.38" stroke="#000" stroke-width="2.4"/><path d="M515,394.87L519.8,404.37L515,402.37L510.2,404.37Z" fill="#000"/><path d="M515,488.88L519.8,479.38L515,481.38L510.2,479.38Z" fill="#000"/>
<text transform="translate(520 461.23) scale(1 1.1)" font-family="Liberation Sans, sans-serif" font-weight="bold" font-size="21">189%</text>
<path d="M612.7,380.4Q614.44,387.36 621.4,389.1Q614.44,390.84 612.7,397.8Q610.96,390.84 604,389.1Q610.96,387.36 612.7,380.4Z" fill="#ff0000"/>
<text transform="translate(621 397.1) scale(1 1.1)" font-family="Liberation Sans, sans-serif" font-weight="bold" font-size="20.5">1523</text>
<text x="672.3" y="397.1" font-family="Liberation Sans, sans-serif" font-weight="bold" font-size="20.5">cm<tspan font-size="13.5" dy="-9.5">-1</tspan></text>
<path d="M448.9,463.81H451.9M448.9,437.23H451.9M448.9,410.65H451.9M448.9,384.08H451.9" stroke="#000" stroke-width="1.5"/>
<text transform="translate(445.3 391.88) scale(1 1.06)" font-family="Liberation Sans, sans-serif" font-weight="bold" font-size="23" text-anchor="end">2.0</text>
<text transform="translate(445.3 445.03) scale(1 1.06)" font-family="Liberation Sans, sans-serif" font-weight="bold" font-size="23" text-anchor="end">1.0</text>
<path d="M448.9,490.38H735.7" stroke="#000" stroke-width="1.6"/>
<path d="M469.3,554.87H716" stroke="#ff0000" stroke-width="3" stroke-dasharray="10 5.8"/>
<path d="M472.49,550.43L489.71,522.12M496.46,515.81L510.14,508.74M519.01,507.86L554.19,517.92M563.59,519.47L576.21,520.07M585.46,522.07L598.74,527.35M607.97,529.62L620.63,530.92M629.36,534.12L665.84,559.1M674.43,563.09L687.37,566.65M696.68,568.98L709.52,571.87" stroke="#36a865" stroke-width="2.6" fill="none"/>
<circle cx="470" cy="554.53" r="3.8" fill="url(#bg2)"/>
<circle cx="492.2" cy="518.02" r="3.8" fill="url(#bg2)"/>
<circle cx="514.4" cy="506.53" r="3.8" fill="url(#bg2)"/>
<circle cx="558.8" cy="519.24" r="3.8" fill="url(#bg2)"/>
<circle cx="581" cy="520.3" r="3.8" fill="url(#bg2)"/>
<circle cx="603.2" cy="529.12" r="3.8" fill="url(#bg2)"/>
<circle cx="625.4" cy="531.41" r="3.8" fill="url(#bg2)"/>
<circle cx="669.8" cy="561.81" r="3.8" fill="url(#bg2)"/>
<circle cx="692" cy="567.92" r="3.8" fill="url(#bg2)"/>
<circle cx="714.2" cy="572.92" r="3.8" fill="url(#bg2)"/>
<path d="M515,518.03V599.52" stroke="#000" stroke-width="2.4"/><path d="M515,511.53L519.8,521.03L515,519.03L510.2,521.03Z" fill="#000"/><path d="M515,606.02L519.8,596.52L515,598.52L510.2,596.52Z" fill="#000"/>
<text transform="translate(520 578.37) scale(1 1.1)" font-family="Liberation Sans, sans-serif" font-weight="bold" font-size="21">190%</text>
<path d="M611.6,497.2L613.72,502.88L619.78,503.14L615.04,506.92L616.65,512.76L611.6,509.41L606.55,512.76L608.16,506.92L603.42,503.14L609.48,502.88Z" fill="#ff0000"/>
<text transform="translate(621 513.8) scale(1 1.1)" font-family="Liberation Sans, sans-serif" font-weight="bold" font-size="20.5">1379</text>
<text x="672.3" y="513.8" font-family="Liberation Sans, sans-serif" font-weight="bold" font-size="20.5">cm<tspan font-size="13.5" dy="-9.5">-1</tspan></text>
<path d="M448.9,580.94H451.9M448.9,554.37H451.9M448.9,527.79H451.9M448.9,501.22H451.9" stroke="#000" stroke-width="1.5"/>
<text transform="translate(445.3 509.02) scale(1 1.06)" font-family="Liberation Sans, sans-serif" font-weight="bold" font-size="23" text-anchor="end">2.0</text>
<text transform="translate(445.3 562.17) scale(1 1.06)" font-family="Liberation Sans, sans-serif" font-weight="bold" font-size="23" text-anchor="end">1.0</text>
<path d="M448.9,607.52H735.7" stroke="#000" stroke-width="1.6"/>
<path d="M469.3,672.01H716" stroke="#ff0000" stroke-width="3" stroke-dasharray="10 5.8"/>
<path d="M472.68,667.53L489.52,642.44M496.63,636.61L509.97,631.09M519.12,630.15L554.08,636.76M563.48,638.71L576.32,641.6M585.4,644.56L598.8,650.36M607.99,652.59L620.61,653.44M629.44,656.34L665.76,679.55M674.44,683.36L687.36,686.76M696.68,689.04L709.52,691.93" stroke="#a977e2" stroke-width="2.6" fill="none"/>
<circle cx="470" cy="671.51" r="3.8" fill="url(#bg3)"/>
<circle cx="492.2" cy="638.45" r="3.8" fill="url(#bg3)"/>
<circle cx="514.4" cy="629.26" r="3.8" fill="url(#bg3)"/>
<circle cx="558.8" cy="637.65" r="3.8" fill="url(#bg3)"/>
<circle cx="581" cy="642.65" r="3.8" fill="url(#bg3)"/>
<circle cx="603.2" cy="652.27" r="3.8" fill="url(#bg3)"/>
<circle cx="625.4" cy="653.76" r="3.8" fill="url(#bg3)"/>
<circle cx="669.8" cy="682.14" r="3.8" fill="url(#bg3)"/>
<circle cx="692" cy="687.99" r="3.8" fill="url(#bg3)"/>
<circle cx="714.2" cy="692.98" r="3.8" fill="url(#bg3)"/>
<path d="M515,640.76V716.66" stroke="#000" stroke-width="2.4"/><path d="M515,634.26L519.8,643.76L515,641.76L510.2,643.76Z" fill="#000"/><path d="M515,723.16L519.8,713.66L515,715.66L510.2,713.66Z" fill="#000"/>
<text transform="translate(520 695.51) scale(1 1.1)" font-family="Liberation Sans, sans-serif" font-weight="bold" font-size="21">179%</text>
<path d="M610.8,614.3L612.58,619.71L618.16,618.55L614.37,622.8L618.16,627.05L612.58,625.89L610.8,631.3L609.01,625.89L603.44,627.05L607.23,622.8L603.44,618.55L609.01,619.71Z" fill="#ff0000"/>
<text transform="translate(621 630.8) scale(1 1.1)" font-family="Liberation Sans, sans-serif" font-weight="bold" font-size="20.5">1327</text>
<text x="672.3" y="630.8" font-family="Liberation Sans, sans-serif" font-weight="bold" font-size="20.5">cm<tspan font-size="13.5" dy="-9.5">-1</tspan></text>
<path d="M448.9,698.08H451.9M448.9,671.51H451.9M448.9,644.93H451.9M448.9,618.36H451.9" stroke="#000" stroke-width="1.5"/>
<text transform="translate(445.3 626.16) scale(1 1.06)" font-family="Liberation Sans, sans-serif" font-weight="bold" font-size="23" text-anchor="end">2.0</text>
<text transform="translate(445.3 679.31) scale(1 1.06)" font-family="Liberation Sans, sans-serif" font-weight="bold" font-size="23" text-anchor="end">1.0</text>
<path d="M448.9,724.66H735.7" stroke="#000" stroke-width="1.6"/>
<path d="M469.3,789.15H716" stroke="#ff0000" stroke-width="3" stroke-dasharray="10 5.8"/>
<path d="M472.3,784.7L489.9,752.42M495.68,744.9L510.92,730.41M519.18,727.55L554.02,730.85M563.06,733.51L576.74,740.58M585.46,744.55L598.74,749.83M607.94,752.35L620.66,754.36M629.08,758.2L666.12,789.23M674.44,793.53L687.36,796.9M696.52,799.73L709.68,804.46" stroke="#cc9410" stroke-width="2.6" fill="none"/>
<circle cx="470" cy="788.92" r="3.8" fill="url(#bg4)"/>
<circle cx="492.2" cy="748.2" r="3.8" fill="url(#bg4)"/>
<circle cx="514.4" cy="727.1" r="3.8" fill="url(#bg4)"/>
<circle cx="558.8" cy="731.3" r="3.8" fill="url(#bg4)"/>
<circle cx="581" cy="742.78" r="3.8" fill="url(#bg4)"/>
<circle cx="603.2" cy="751.6" r="3.8" fill="url(#bg4)"/>
<circle cx="625.4" cy="755.11" r="3.8" fill="url(#bg4)"/>
<circle cx="669.8" cy="792.32" r="3.8" fill="url(#bg4)"/>
<circle cx="692" cy="798.11" r="3.8" fill="url(#bg4)"/>
<circle cx="714.2" cy="806.08" r="3.8" fill="url(#bg4)"/>
<path d="M515,738.6V833.8" stroke="#000" stroke-width="2.4"/><path d="M515,732.1L519.8,741.6L515,739.6L510.2,741.6Z" fill="#000"/><path d="M515,840.3L519.8,830.8L515,832.8L510.2,830.8Z" fill="#000"/>
<text transform="translate(520 812.65) scale(1 1.1)" font-family="Liberation Sans, sans-serif" font-weight="bold" font-size="21">216%</text>
<path d="M611.2,730.9L612.82,735.83L617.69,734.03L614.84,738.37L619.29,741.05L614.12,741.53L614.8,746.68L611.2,742.94L607.6,746.68L608.28,741.53L603.11,741.05L607.56,738.37L604.71,734.03L609.58,735.83Z" fill="#ff0000"/>
<text transform="translate(621 747.2) scale(1 1.1)" font-family="Liberation Sans, sans-serif" font-weight="bold" font-size="20.5">1202</text>
<text x="672.3" y="747.2" font-family="Liberation Sans, sans-serif" font-weight="bold" font-size="20.5">cm<tspan font-size="13.5" dy="-9.5">-1</tspan></text>
<path d="M448.9,815.23H451.9M448.9,788.65H451.9M448.9,762.08H451.9M448.9,735.5H451.9" stroke="#000" stroke-width="1.5"/>
<text transform="translate(445.3 743.3) scale(1 1.06)" font-family="Liberation Sans, sans-serif" font-weight="bold" font-size="23" text-anchor="end">2.0</text>
<text transform="translate(445.3 796.45) scale(1 1.06)" font-family="Liberation Sans, sans-serif" font-weight="bold" font-size="23" text-anchor="end">1.0</text>
<text transform="translate(445.3 849.6) scale(1 1.06)" font-family="Liberation Sans, sans-serif" font-weight="bold" font-size="23" text-anchor="end">0.0</text>
<rect x="448.9" y="256.1" width="286.8" height="585.7" fill="none" stroke="#000" stroke-width="2"/>
<path d="M470,841.8V838.8M492.2,841.8V839.8M514.4,841.8V838.8M536.6,841.8V839.8M558.8,841.8V838.8M581,841.8V839.8M603.2,841.8V838.8M625.4,841.8V839.8M647.6,841.8V838.8M669.8,841.8V839.8M692,841.8V838.8M714.2,841.8V839.8M736.4,841.8V838.8" stroke="#000" stroke-width="1.3"/>
<text transform="translate(470 864.3) scale(1 1.1)" font-family="Liberation Sans, sans-serif" font-weight="bold" font-size="22.3" text-anchor="middle">0</text>
<text transform="translate(514.4 864.3) scale(1 1.1)" font-family="Liberation Sans, sans-serif" font-weight="bold" font-size="22.3" text-anchor="middle">10</text>
<text transform="translate(558.8 864.3) scale(1 1.1)" font-family="Liberation Sans, sans-serif" font-weight="bold" font-size="22.3" text-anchor="middle">20</text>
<text transform="translate(603.2 864.3) scale(1 1.1)" font-family="Liberation Sans, sans-serif" font-weight="bold" font-size="22.3" text-anchor="middle">30</text>
<text transform="translate(647.6 864.3) scale(1 1.1)" font-family="Liberation Sans, sans-serif" font-weight="bold" font-size="22.3" text-anchor="middle">40</text>
<text transform="translate(692 864.3) scale(1 1.1)" font-family="Liberation Sans, sans-serif" font-weight="bold" font-size="22.3" text-anchor="middle">50</text>
<text transform="translate(736.4 864.3) scale(1 1.1)" font-family="Liberation Sans, sans-serif" font-weight="bold" font-size="22.3" text-anchor="middle">60</text>
<text x="536" y="893.2" font-family="Liberation Sans, sans-serif" font-weight="bold" font-size="23">Time (min)</text>
<text x="382.5" y="271.7" font-family="Liberation Serif, serif" font-weight="bold" font-size="24.5">II</text>
<text x="398.7" y="712" transform="rotate(-90 398.7 712)" font-family="Liberation Sans, sans-serif" font-weight="bold" font-size="23.65">Peak intensity normalization</text>
</svg></body></html>
